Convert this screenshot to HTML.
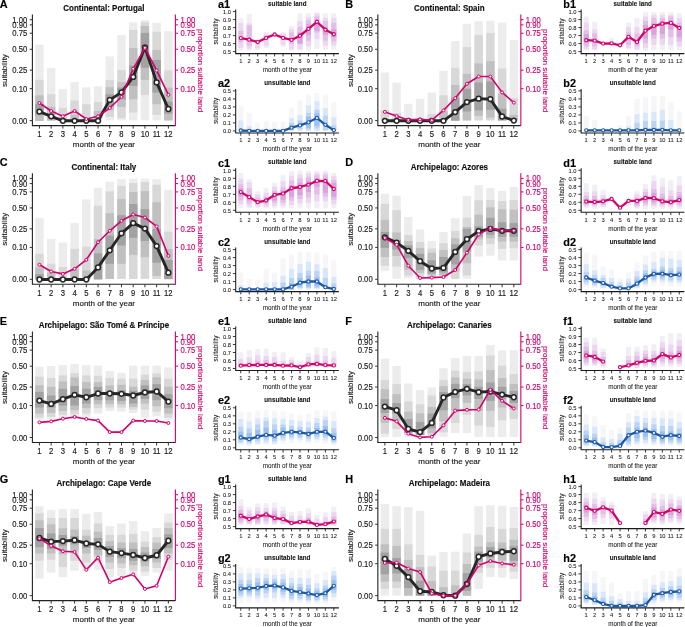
<!DOCTYPE html>
<html><head><meta charset="utf-8"><style>
html,body{margin:0;padding:0;background:#fff;width:685px;height:627px;overflow:hidden}
svg{display:block;will-change:transform;font-family:"Liberation Sans",sans-serif}
</style></head><body><svg width="685" height="627" viewBox="0 0 685 627" font-family="Liberation Sans, sans-serif"><g transform="translate(0,0)"><rect x="35.23" y="44.7" width="8.4" height="76.3" fill="#ececec"/><rect x="35.23" y="79.8" width="8.4" height="41.2" fill="#d8d8d8"/><rect x="35.23" y="95.3" width="8.4" height="25.7" fill="#c0c0c0"/><rect x="35.23" y="104.2" width="8.4" height="11.1" fill="#a2a2a2"/><rect x="46.95" y="67.9" width="8.4" height="52.7" fill="#ececec"/><rect x="46.95" y="94.2" width="8.4" height="26.4" fill="#d8d8d8"/><rect x="46.95" y="106.8" width="8.4" height="13.8" fill="#c0c0c0"/><rect x="58.68" y="89" width="8.4" height="31.6" fill="#ececec"/><rect x="58.68" y="107.9" width="8.4" height="12.7" fill="#d8d8d8"/><rect x="58.68" y="117.4" width="8.4" height="3.2" fill="#c0c0c0"/><rect x="70.4" y="82.1" width="8.4" height="38.5" fill="#ececec"/><rect x="70.4" y="100.5" width="8.4" height="20.1" fill="#d8d8d8"/><rect x="70.4" y="114.7" width="8.4" height="4.3" fill="#c0c0c0"/><rect x="82.12" y="87.4" width="8.4" height="33.2" fill="#ececec"/><rect x="82.12" y="104.2" width="8.4" height="12.6" fill="#d8d8d8"/><rect x="93.84" y="86.3" width="8.4" height="34.3" fill="#ececec"/><rect x="93.84" y="102.1" width="8.4" height="16.9" fill="#d8d8d8"/><rect x="93.84" y="111" width="8.4" height="8" fill="#c0c0c0"/><rect x="105.56" y="56.5" width="8.4" height="63.9" fill="#ececec"/><rect x="105.56" y="79.9" width="8.4" height="37.1" fill="#d8d8d8"/><rect x="105.56" y="87.1" width="8.4" height="23.3" fill="#c0c0c0"/><rect x="105.56" y="94.3" width="8.4" height="11.7" fill="#a2a2a2"/><rect x="117.28" y="35.1" width="8.4" height="85.3" fill="#ececec"/><rect x="117.28" y="69.9" width="8.4" height="48.3" fill="#d8d8d8"/><rect x="117.28" y="82.1" width="8.4" height="24.9" fill="#c0c0c0"/><rect x="117.28" y="87.6" width="8.4" height="11.7" fill="#a2a2a2"/><rect x="129" y="22.3" width="8.4" height="98.1" fill="#ececec"/><rect x="129" y="30.1" width="8.4" height="82.5" fill="#d8d8d8"/><rect x="129" y="47.9" width="8.4" height="51.4" fill="#c0c0c0"/><rect x="129" y="65.6" width="8.4" height="20.4" fill="#a2a2a2"/><rect x="140.72" y="20.1" width="8.4" height="100.3" fill="#ececec"/><rect x="140.72" y="22.3" width="8.4" height="72.6" fill="#d8d8d8"/><rect x="140.72" y="26" width="8.4" height="53.9" fill="#c0c0c0"/><rect x="140.72" y="32.9" width="8.4" height="34.8" fill="#a2a2a2"/><rect x="152.45" y="22.9" width="8.4" height="97.5" fill="#ececec"/><rect x="152.45" y="31.8" width="8.4" height="83" fill="#d8d8d8"/><rect x="152.45" y="50.1" width="8.4" height="54.2" fill="#c0c0c0"/><rect x="152.45" y="60" width="8.4" height="32.6" fill="#a2a2a2"/><rect x="164.17" y="31.2" width="8.4" height="89.2" fill="#ececec"/><rect x="164.17" y="70.4" width="8.4" height="50" fill="#d8d8d8"/><rect x="164.17" y="87.6" width="8.4" height="32.8" fill="#c0c0c0"/><rect x="164.17" y="101.5" width="8.4" height="12.2" fill="#a2a2a2"/><line x1="32.4" y1="14.5" x2="32.4" y2="125.6" stroke="#222" stroke-width="1.1"/><line x1="31.9" y1="125.6" x2="175.4" y2="125.6" stroke="#222" stroke-width="1.1"/><line x1="175.4" y1="14.5" x2="175.4" y2="126.1" stroke="#d6006c" stroke-width="1.1"/><line x1="29.7" y1="120.6" x2="32.4" y2="120.6" stroke="#333" stroke-width="1"/><text transform="translate(27.2,123.65) scale(1,1.12)" text-anchor="end" font-size="7.7" fill="#1a1a1a" stroke="#1a1a1a" stroke-width="0.15">0.00</text><line x1="29.7" y1="88.69" x2="32.4" y2="88.69" stroke="#333" stroke-width="1"/><text transform="translate(27.2,91.74) scale(1,1.12)" text-anchor="end" font-size="7.7" fill="#1a1a1a" stroke="#1a1a1a" stroke-width="0.15">0.10</text><line x1="29.7" y1="70.15" x2="32.4" y2="70.15" stroke="#333" stroke-width="1"/><text transform="translate(27.2,73.2) scale(1,1.12)" text-anchor="end" font-size="7.7" fill="#1a1a1a" stroke="#1a1a1a" stroke-width="0.15">0.25</text><line x1="29.7" y1="49.25" x2="32.4" y2="49.25" stroke="#333" stroke-width="1"/><text transform="translate(27.2,52.3) scale(1,1.12)" text-anchor="end" font-size="7.7" fill="#1a1a1a" stroke="#1a1a1a" stroke-width="0.15">0.50</text><line x1="29.7" y1="33.22" x2="32.4" y2="33.22" stroke="#333" stroke-width="1"/><text transform="translate(27.2,36.27) scale(1,1.12)" text-anchor="end" font-size="7.7" fill="#1a1a1a" stroke="#1a1a1a" stroke-width="0.15">0.75</text><line x1="29.7" y1="24.88" x2="32.4" y2="24.88" stroke="#333" stroke-width="1"/><text transform="translate(27.2,27.93) scale(1,1.12)" text-anchor="end" font-size="7.7" fill="#1a1a1a" stroke="#1a1a1a" stroke-width="0.15">0.90</text><line x1="29.7" y1="19.7" x2="32.4" y2="19.7" stroke="#333" stroke-width="1"/><text transform="translate(27.2,22.75) scale(1,1.12)" text-anchor="end" font-size="7.7" fill="#1a1a1a" stroke="#1a1a1a" stroke-width="0.15">1.00</text><line x1="175.4" y1="88.69" x2="178.1" y2="88.69" stroke="#d6006c" stroke-width="1"/><text transform="translate(180.4,91.74) scale(1,1.12)" font-size="7.7" fill="#d6006c" stroke="#d6006c" stroke-width="0.15">0.10</text><line x1="175.4" y1="70.15" x2="178.1" y2="70.15" stroke="#d6006c" stroke-width="1"/><text transform="translate(180.4,73.2) scale(1,1.12)" font-size="7.7" fill="#d6006c" stroke="#d6006c" stroke-width="0.15">0.25</text><line x1="175.4" y1="49.25" x2="178.1" y2="49.25" stroke="#d6006c" stroke-width="1"/><text transform="translate(180.4,52.3) scale(1,1.12)" font-size="7.7" fill="#d6006c" stroke="#d6006c" stroke-width="0.15">0.50</text><line x1="175.4" y1="33.22" x2="178.1" y2="33.22" stroke="#d6006c" stroke-width="1"/><text transform="translate(180.4,36.27) scale(1,1.12)" font-size="7.7" fill="#d6006c" stroke="#d6006c" stroke-width="0.15">0.75</text><line x1="175.4" y1="24.88" x2="178.1" y2="24.88" stroke="#d6006c" stroke-width="1"/><text transform="translate(180.4,27.93) scale(1,1.12)" font-size="7.7" fill="#d6006c" stroke="#d6006c" stroke-width="0.15">0.90</text><line x1="175.4" y1="19.7" x2="178.1" y2="19.7" stroke="#d6006c" stroke-width="1"/><text transform="translate(180.4,22.75) scale(1,1.12)" font-size="7.7" fill="#d6006c" stroke="#d6006c" stroke-width="0.15">1.00</text><line x1="39.43" y1="125.6" x2="39.43" y2="128.6" stroke="#333" stroke-width="1"/><text transform="translate(39.43,136.8) scale(1,1.12)" text-anchor="middle" font-size="7.7" fill="#1a1a1a" stroke="#1a1a1a" stroke-width="0.15">1</text><line x1="51.15" y1="125.6" x2="51.15" y2="128.6" stroke="#333" stroke-width="1"/><text transform="translate(51.15,136.8) scale(1,1.12)" text-anchor="middle" font-size="7.7" fill="#1a1a1a" stroke="#1a1a1a" stroke-width="0.15">2</text><line x1="62.88" y1="125.6" x2="62.88" y2="128.6" stroke="#333" stroke-width="1"/><text transform="translate(62.88,136.8) scale(1,1.12)" text-anchor="middle" font-size="7.7" fill="#1a1a1a" stroke="#1a1a1a" stroke-width="0.15">3</text><line x1="74.6" y1="125.6" x2="74.6" y2="128.6" stroke="#333" stroke-width="1"/><text transform="translate(74.6,136.8) scale(1,1.12)" text-anchor="middle" font-size="7.7" fill="#1a1a1a" stroke="#1a1a1a" stroke-width="0.15">4</text><line x1="86.32" y1="125.6" x2="86.32" y2="128.6" stroke="#333" stroke-width="1"/><text transform="translate(86.32,136.8) scale(1,1.12)" text-anchor="middle" font-size="7.7" fill="#1a1a1a" stroke="#1a1a1a" stroke-width="0.15">5</text><line x1="98.04" y1="125.6" x2="98.04" y2="128.6" stroke="#333" stroke-width="1"/><text transform="translate(98.04,136.8) scale(1,1.12)" text-anchor="middle" font-size="7.7" fill="#1a1a1a" stroke="#1a1a1a" stroke-width="0.15">6</text><line x1="109.76" y1="125.6" x2="109.76" y2="128.6" stroke="#333" stroke-width="1"/><text transform="translate(109.76,136.8) scale(1,1.12)" text-anchor="middle" font-size="7.7" fill="#1a1a1a" stroke="#1a1a1a" stroke-width="0.15">7</text><line x1="121.48" y1="125.6" x2="121.48" y2="128.6" stroke="#333" stroke-width="1"/><text transform="translate(121.48,136.8) scale(1,1.12)" text-anchor="middle" font-size="7.7" fill="#1a1a1a" stroke="#1a1a1a" stroke-width="0.15">8</text><line x1="133.2" y1="125.6" x2="133.2" y2="128.6" stroke="#333" stroke-width="1"/><text transform="translate(133.2,136.8) scale(1,1.12)" text-anchor="middle" font-size="7.7" fill="#1a1a1a" stroke="#1a1a1a" stroke-width="0.15">9</text><line x1="144.92" y1="125.6" x2="144.92" y2="128.6" stroke="#333" stroke-width="1"/><text transform="translate(144.92,136.8) scale(1,1.12)" text-anchor="middle" font-size="7.7" fill="#1a1a1a" stroke="#1a1a1a" stroke-width="0.15">10</text><line x1="156.65" y1="125.6" x2="156.65" y2="128.6" stroke="#333" stroke-width="1"/><text transform="translate(156.65,136.8) scale(1,1.12)" text-anchor="middle" font-size="7.7" fill="#1a1a1a" stroke="#1a1a1a" stroke-width="0.15">11</text><line x1="168.37" y1="125.6" x2="168.37" y2="128.6" stroke="#333" stroke-width="1"/><text transform="translate(168.37,136.8) scale(1,1.12)" text-anchor="middle" font-size="7.7" fill="#1a1a1a" stroke="#1a1a1a" stroke-width="0.15">12</text><polyline points="39.43,111.6 51.15,116.3 62.88,120.8 74.6,120.8 86.32,120.8 98.04,120.8 109.76,99.9 121.48,92.4 133.2,76.9 144.92,47.3 156.65,82.4 168.37,109" fill="none" stroke="#262626" stroke-width="2.9" stroke-linejoin="round"/><circle cx="39.43" cy="111.6" r="2.4" fill="#fff" stroke="#262626" stroke-width="1.5"/><circle cx="51.15" cy="116.3" r="2.4" fill="#fff" stroke="#262626" stroke-width="1.5"/><circle cx="62.88" cy="120.8" r="2.4" fill="#fff" stroke="#262626" stroke-width="1.5"/><circle cx="74.6" cy="120.8" r="2.4" fill="#fff" stroke="#262626" stroke-width="1.5"/><circle cx="86.32" cy="120.8" r="2.4" fill="#fff" stroke="#262626" stroke-width="1.5"/><circle cx="98.04" cy="120.8" r="2.4" fill="#fff" stroke="#262626" stroke-width="1.5"/><circle cx="109.76" cy="99.9" r="2.4" fill="#fff" stroke="#262626" stroke-width="1.5"/><circle cx="121.48" cy="92.4" r="2.4" fill="#fff" stroke="#262626" stroke-width="1.5"/><circle cx="133.2" cy="76.9" r="2.4" fill="#fff" stroke="#262626" stroke-width="1.5"/><circle cx="144.92" cy="47.3" r="2.4" fill="#fff" stroke="#262626" stroke-width="1.5"/><circle cx="156.65" cy="82.4" r="2.4" fill="#fff" stroke="#262626" stroke-width="1.5"/><circle cx="168.37" cy="109" r="2.4" fill="#fff" stroke="#262626" stroke-width="1.5"/><polyline points="39.43,103 51.15,111 62.88,116.3 74.6,111 86.32,119 98.04,116.3 109.76,108 121.48,96.9 133.2,68.8 144.92,47.9 156.65,70.4 168.37,94.9" fill="none" stroke="#d6006c" stroke-width="1.6" stroke-linejoin="round"/><circle cx="39.43" cy="103" r="1.5" fill="#fff" stroke="#d6006c" stroke-width="1.0"/><circle cx="51.15" cy="111" r="1.5" fill="#fff" stroke="#d6006c" stroke-width="1.0"/><circle cx="62.88" cy="116.3" r="1.5" fill="#fff" stroke="#d6006c" stroke-width="1.0"/><circle cx="74.6" cy="111" r="1.5" fill="#fff" stroke="#d6006c" stroke-width="1.0"/><circle cx="86.32" cy="119" r="1.5" fill="#fff" stroke="#d6006c" stroke-width="1.0"/><circle cx="98.04" cy="116.3" r="1.5" fill="#fff" stroke="#d6006c" stroke-width="1.0"/><circle cx="109.76" cy="108" r="1.5" fill="#fff" stroke="#d6006c" stroke-width="1.0"/><circle cx="121.48" cy="96.9" r="1.5" fill="#fff" stroke="#d6006c" stroke-width="1.0"/><circle cx="133.2" cy="68.8" r="1.5" fill="#fff" stroke="#d6006c" stroke-width="1.0"/><circle cx="144.92" cy="47.9" r="1.5" fill="#fff" stroke="#d6006c" stroke-width="1.0"/><circle cx="156.65" cy="70.4" r="1.5" fill="#fff" stroke="#d6006c" stroke-width="1.0"/><circle cx="168.37" cy="94.9" r="1.5" fill="#fff" stroke="#d6006c" stroke-width="1.0"/><text transform="translate(-0.2,7.7)" font-size="10.9" font-weight="bold" fill="#000" stroke="#000" stroke-width="0.15">A</text><text transform="translate(103.9,10.9) scale(1,1.12)" text-anchor="middle" font-size="8.0" font-weight="bold" fill="#111" stroke="#111" stroke-width="0.15">Continental: Portugal</text><text transform="translate(103.9,147.1)" text-anchor="middle" font-size="8" fill="#1a1a1a" stroke="#1a1a1a" stroke-width="0.15">month of the year</text><text transform="translate(7.4,70.6) rotate(-90)" text-anchor="middle" font-size="8" fill="#1a1a1a" stroke="#1a1a1a" stroke-width="0.15">suitability</text><text transform="translate(198,70.6) rotate(90)" text-anchor="middle" font-size="8" fill="#d6006c" stroke="#d6006c" stroke-width="0.15">proportion suitable land</text></g><g transform="translate(0,0)"><rect x="238.23" y="18" width="5.1" height="32.56" fill="#f2eef5"/><rect x="238.23" y="22.88" width="5.1" height="24.96" fill="#ecd6f2"/><rect x="238.23" y="30.88" width="5.1" height="11.6" fill="#e4bde9"/><rect x="246.68" y="14" width="5.1" height="36.56" fill="#f2eef5"/><rect x="246.68" y="23.28" width="5.1" height="25.36" fill="#ecd6f2"/><rect x="246.68" y="25.28" width="5.1" height="20.48" fill="#e4bde9"/><rect x="255.14" y="38.8" width="5.1" height="11.2" fill="#f2eef5"/><rect x="255.14" y="40.4" width="5.1" height="8" fill="#ecd6f2"/><rect x="263.6" y="31.68" width="5.1" height="16.16" fill="#f2eef5"/><rect x="263.6" y="34.08" width="5.1" height="11.68" fill="#ecd6f2"/><rect x="280.52" y="32.08" width="5.1" height="14.88" fill="#f2eef5"/><rect x="280.52" y="33.6" width="5.1" height="11.2" fill="#ecd6f2"/><rect x="288.98" y="26" width="5.1" height="24.8" fill="#f2eef5"/><rect x="288.98" y="29.2" width="5.1" height="19.68" fill="#ecd6f2"/><rect x="288.98" y="32.4" width="5.1" height="11.6" fill="#e4bde9"/><rect x="297.44" y="13.2" width="5.1" height="37.6" fill="#f2eef5"/><rect x="297.44" y="21.2" width="5.1" height="27.68" fill="#ecd6f2"/><rect x="297.44" y="26.8" width="5.1" height="17.2" fill="#e4bde9"/><rect x="297.44" y="32.4" width="5.1" height="11.2" fill="#d9a3dd"/><rect x="305.9" y="13.2" width="5.1" height="37.28" fill="#f2eef5"/><rect x="305.9" y="17.2" width="5.1" height="29.2" fill="#ecd6f2"/><rect x="305.9" y="20.4" width="5.1" height="20.32" fill="#e4bde9"/><rect x="305.9" y="24.4" width="5.1" height="10.4" fill="#d9a3dd"/><rect x="314.36" y="12.4" width="5.1" height="36.48" fill="#f2eef5"/><rect x="314.36" y="13.68" width="5.1" height="25.44" fill="#ecd6f2"/><rect x="314.36" y="16.4" width="5.1" height="16" fill="#e4bde9"/><rect x="314.36" y="22.8" width="5.1" height="8" fill="#d9a3dd"/><rect x="322.82" y="13.2" width="5.1" height="36.48" fill="#f2eef5"/><rect x="322.82" y="18" width="5.1" height="27.6" fill="#ecd6f2"/><rect x="322.82" y="21.2" width="5.1" height="19.52" fill="#e4bde9"/><rect x="322.82" y="27.6" width="5.1" height="7.2" fill="#d9a3dd"/><rect x="331.27" y="13.2" width="5.1" height="36.48" fill="#f2eef5"/><rect x="331.27" y="18" width="5.1" height="27.6" fill="#ecd6f2"/><rect x="331.27" y="22.8" width="5.1" height="18.72" fill="#e4bde9"/><rect x="331.27" y="29.2" width="5.1" height="8" fill="#d9a3dd"/><line x1="235.7" y1="9.6" x2="235.7" y2="53.6" stroke="#1a1a1a" stroke-width="1.05"/><line x1="235.2" y1="53.6" x2="338.9" y2="53.6" stroke="#1a1a1a" stroke-width="1.05"/><line x1="232.89999999999998" y1="51.6" x2="235.7" y2="51.6" stroke="#222" stroke-width="0.9"/><text transform="translate(231,53.85) scale(1,1.05)" text-anchor="end" font-size="5.8" fill="#1a1a1a" stroke="#1a1a1a" stroke-width="0.07">0.5</text><line x1="232.89999999999998" y1="43.6" x2="235.7" y2="43.6" stroke="#222" stroke-width="0.9"/><text transform="translate(231,45.85) scale(1,1.05)" text-anchor="end" font-size="5.8" fill="#1a1a1a" stroke="#1a1a1a" stroke-width="0.07">0.6</text><line x1="232.89999999999998" y1="35.6" x2="235.7" y2="35.6" stroke="#222" stroke-width="0.9"/><text transform="translate(231,37.85) scale(1,1.05)" text-anchor="end" font-size="5.8" fill="#1a1a1a" stroke="#1a1a1a" stroke-width="0.07">0.7</text><line x1="232.89999999999998" y1="27.6" x2="235.7" y2="27.6" stroke="#222" stroke-width="0.9"/><text transform="translate(231,29.85) scale(1,1.05)" text-anchor="end" font-size="5.8" fill="#1a1a1a" stroke="#1a1a1a" stroke-width="0.07">0.8</text><line x1="232.89999999999998" y1="19.6" x2="235.7" y2="19.6" stroke="#222" stroke-width="0.9"/><text transform="translate(231,21.85) scale(1,1.05)" text-anchor="end" font-size="5.8" fill="#1a1a1a" stroke="#1a1a1a" stroke-width="0.07">0.9</text><line x1="232.89999999999998" y1="11.6" x2="235.7" y2="11.6" stroke="#222" stroke-width="0.9"/><text transform="translate(231,13.85) scale(1,1.05)" text-anchor="end" font-size="5.8" fill="#1a1a1a" stroke="#1a1a1a" stroke-width="0.07">1.0</text><line x1="240.78" y1="53.6" x2="240.78" y2="56.4" stroke="#222" stroke-width="0.9"/><text transform="translate(240.78,62.9) scale(1,1.05)" text-anchor="middle" font-size="5.8" fill="#1a1a1a" stroke="#1a1a1a" stroke-width="0.07">1</text><line x1="249.23" y1="53.6" x2="249.23" y2="56.4" stroke="#222" stroke-width="0.9"/><text transform="translate(249.23,62.9) scale(1,1.05)" text-anchor="middle" font-size="5.8" fill="#1a1a1a" stroke="#1a1a1a" stroke-width="0.07">2</text><line x1="257.69" y1="53.6" x2="257.69" y2="56.4" stroke="#222" stroke-width="0.9"/><text transform="translate(257.69,62.9) scale(1,1.05)" text-anchor="middle" font-size="5.8" fill="#1a1a1a" stroke="#1a1a1a" stroke-width="0.07">3</text><line x1="266.15" y1="53.6" x2="266.15" y2="56.4" stroke="#222" stroke-width="0.9"/><text transform="translate(266.15,62.9) scale(1,1.05)" text-anchor="middle" font-size="5.8" fill="#1a1a1a" stroke="#1a1a1a" stroke-width="0.07">4</text><line x1="274.61" y1="53.6" x2="274.61" y2="56.4" stroke="#222" stroke-width="0.9"/><text transform="translate(274.61,62.9) scale(1,1.05)" text-anchor="middle" font-size="5.8" fill="#1a1a1a" stroke="#1a1a1a" stroke-width="0.07">5</text><line x1="283.07" y1="53.6" x2="283.07" y2="56.4" stroke="#222" stroke-width="0.9"/><text transform="translate(283.07,62.9) scale(1,1.05)" text-anchor="middle" font-size="5.8" fill="#1a1a1a" stroke="#1a1a1a" stroke-width="0.07">6</text><line x1="291.53" y1="53.6" x2="291.53" y2="56.4" stroke="#222" stroke-width="0.9"/><text transform="translate(291.53,62.9) scale(1,1.05)" text-anchor="middle" font-size="5.8" fill="#1a1a1a" stroke="#1a1a1a" stroke-width="0.07">7</text><line x1="299.99" y1="53.6" x2="299.99" y2="56.4" stroke="#222" stroke-width="0.9"/><text transform="translate(299.99,62.9) scale(1,1.05)" text-anchor="middle" font-size="5.8" fill="#1a1a1a" stroke="#1a1a1a" stroke-width="0.07">8</text><line x1="308.45" y1="53.6" x2="308.45" y2="56.4" stroke="#222" stroke-width="0.9"/><text transform="translate(308.45,62.9) scale(1,1.05)" text-anchor="middle" font-size="5.8" fill="#1a1a1a" stroke="#1a1a1a" stroke-width="0.07">9</text><line x1="316.91" y1="53.6" x2="316.91" y2="56.4" stroke="#222" stroke-width="0.9"/><text transform="translate(316.91,62.9) scale(1,1.05)" text-anchor="middle" font-size="5.8" fill="#1a1a1a" stroke="#1a1a1a" stroke-width="0.07">10</text><line x1="325.37" y1="53.6" x2="325.37" y2="56.4" stroke="#222" stroke-width="0.9"/><text transform="translate(325.37,62.9) scale(1,1.05)" text-anchor="middle" font-size="5.8" fill="#1a1a1a" stroke="#1a1a1a" stroke-width="0.07">11</text><line x1="333.82" y1="53.6" x2="333.82" y2="56.4" stroke="#222" stroke-width="0.9"/><text transform="translate(333.82,62.9) scale(1,1.05)" text-anchor="middle" font-size="5.8" fill="#1a1a1a" stroke="#1a1a1a" stroke-width="0.07">12</text><polyline points="240.78,38.08 249.23,39.68 257.69,42.08 266.15,37.92 274.61,34.48 283.07,37.92 291.53,39.92 299.99,35.76 308.45,28.88 316.91,21.76 325.37,29.68 333.82,34.24" fill="none" stroke="#d6006c" stroke-width="2.3" stroke-linejoin="round"/><circle cx="240.78" cy="38.08" r="1.6" fill="#fff" stroke="#d6006c" stroke-width="1.1"/><circle cx="249.23" cy="39.68" r="1.6" fill="#fff" stroke="#d6006c" stroke-width="1.1"/><circle cx="257.69" cy="42.08" r="1.6" fill="#fff" stroke="#d6006c" stroke-width="1.1"/><circle cx="266.15" cy="37.92" r="1.6" fill="#fff" stroke="#d6006c" stroke-width="1.1"/><circle cx="274.61" cy="34.48" r="1.6" fill="#fff" stroke="#d6006c" stroke-width="1.1"/><circle cx="283.07" cy="37.92" r="1.6" fill="#fff" stroke="#d6006c" stroke-width="1.1"/><circle cx="291.53" cy="39.92" r="1.6" fill="#fff" stroke="#d6006c" stroke-width="1.1"/><circle cx="299.99" cy="35.76" r="1.6" fill="#fff" stroke="#d6006c" stroke-width="1.1"/><circle cx="308.45" cy="28.88" r="1.6" fill="#fff" stroke="#d6006c" stroke-width="1.1"/><circle cx="316.91" cy="21.76" r="1.6" fill="#fff" stroke="#d6006c" stroke-width="1.1"/><circle cx="325.37" cy="29.68" r="1.6" fill="#fff" stroke="#d6006c" stroke-width="1.1"/><circle cx="333.82" cy="34.24" r="1.6" fill="#fff" stroke="#d6006c" stroke-width="1.1"/><text transform="translate(217.9,7.8)" font-size="10.9" font-weight="bold" fill="#000" stroke="#000" stroke-width="0.15">a1</text><text transform="translate(287.3,5.6) scale(1,1.12)" text-anchor="middle" font-size="6.3" font-weight="bold" fill="#111" stroke="#111" stroke-width="0.07">suitable land</text><text transform="translate(287.3,71.9)" text-anchor="middle" font-size="6.3" fill="#1a1a1a" stroke="#1a1a1a" stroke-width="0.07">month of the year</text><text transform="translate(218.3,31.6) rotate(-90)" text-anchor="middle" font-size="6.3" fill="#1a1a1a" stroke="#1a1a1a" stroke-width="0.07">suitability</text></g><g transform="translate(0,79.3)"><rect x="238.23" y="26.8" width="5.1" height="24.8" fill="#f6f6f8"/><rect x="238.23" y="41.2" width="5.1" height="10.4" fill="#d9e7fa"/><rect x="246.68" y="33.52" width="5.1" height="18.08" fill="#f6f6f8"/><rect x="246.68" y="46.8" width="5.1" height="4.8" fill="#d9e7fa"/><rect x="255.14" y="43.6" width="5.1" height="8" fill="#f6f6f8"/><rect x="263.6" y="42" width="5.1" height="9.6" fill="#f6f6f8"/><rect x="272.06" y="42.8" width="5.1" height="8.8" fill="#f6f6f8"/><rect x="280.52" y="42.8" width="5.1" height="8.8" fill="#f6f6f8"/><rect x="288.98" y="28.4" width="5.1" height="23.2" fill="#f6f6f8"/><rect x="288.98" y="38.8" width="5.1" height="12.8" fill="#d9e7fa"/><rect x="288.98" y="43.6" width="5.1" height="7.2" fill="#bbd4f5"/><rect x="297.44" y="21.2" width="5.1" height="30.4" fill="#f6f6f8"/><rect x="297.44" y="35.6" width="5.1" height="16" fill="#d9e7fa"/><rect x="297.44" y="41.2" width="5.1" height="8.8" fill="#bbd4f5"/><rect x="305.9" y="15.12" width="5.1" height="36.48" fill="#f6f6f8"/><rect x="305.9" y="26" width="5.1" height="25.6" fill="#d9e7fa"/><rect x="305.9" y="33.52" width="5.1" height="16.48" fill="#bbd4f5"/><rect x="305.9" y="37.2" width="5.1" height="11.2" fill="#9dc0ef"/><rect x="314.36" y="13.6" width="5.1" height="38" fill="#f6f6f8"/><rect x="314.36" y="22" width="5.1" height="29.6" fill="#d9e7fa"/><rect x="314.36" y="30.48" width="5.1" height="18.72" fill="#bbd4f5"/><rect x="314.36" y="34" width="5.1" height="12.8" fill="#9dc0ef"/><rect x="322.82" y="15.12" width="5.1" height="36.48" fill="#f6f6f8"/><rect x="322.82" y="28.88" width="5.1" height="22.72" fill="#d9e7fa"/><rect x="322.82" y="36.4" width="5.1" height="14.4" fill="#bbd4f5"/><rect x="331.27" y="22.8" width="5.1" height="28.8" fill="#f6f6f8"/><rect x="331.27" y="38" width="5.1" height="13.6" fill="#d9e7fa"/><rect x="331.27" y="46" width="5.1" height="5.6" fill="#bbd4f5"/><line x1="235.7" y1="9.6" x2="235.7" y2="53.6" stroke="#1a1a1a" stroke-width="1.05"/><line x1="235.2" y1="53.6" x2="338.9" y2="53.6" stroke="#1a1a1a" stroke-width="1.05"/><line x1="232.89999999999998" y1="51.6" x2="235.7" y2="51.6" stroke="#222" stroke-width="0.9"/><text transform="translate(231,53.85) scale(1,1.05)" text-anchor="end" font-size="5.8" fill="#1a1a1a" stroke="#1a1a1a" stroke-width="0.07">0.0</text><line x1="232.89999999999998" y1="43.6" x2="235.7" y2="43.6" stroke="#222" stroke-width="0.9"/><text transform="translate(231,45.85) scale(1,1.05)" text-anchor="end" font-size="5.8" fill="#1a1a1a" stroke="#1a1a1a" stroke-width="0.07">0.1</text><line x1="232.89999999999998" y1="35.6" x2="235.7" y2="35.6" stroke="#222" stroke-width="0.9"/><text transform="translate(231,37.85) scale(1,1.05)" text-anchor="end" font-size="5.8" fill="#1a1a1a" stroke="#1a1a1a" stroke-width="0.07">0.2</text><line x1="232.89999999999998" y1="27.6" x2="235.7" y2="27.6" stroke="#222" stroke-width="0.9"/><text transform="translate(231,29.85) scale(1,1.05)" text-anchor="end" font-size="5.8" fill="#1a1a1a" stroke="#1a1a1a" stroke-width="0.07">0.3</text><line x1="232.89999999999998" y1="19.6" x2="235.7" y2="19.6" stroke="#222" stroke-width="0.9"/><text transform="translate(231,21.85) scale(1,1.05)" text-anchor="end" font-size="5.8" fill="#1a1a1a" stroke="#1a1a1a" stroke-width="0.07">0.4</text><line x1="232.89999999999998" y1="11.6" x2="235.7" y2="11.6" stroke="#222" stroke-width="0.9"/><text transform="translate(231,13.85) scale(1,1.05)" text-anchor="end" font-size="5.8" fill="#1a1a1a" stroke="#1a1a1a" stroke-width="0.07">0.5</text><line x1="240.78" y1="53.6" x2="240.78" y2="56.4" stroke="#222" stroke-width="0.9"/><text transform="translate(240.78,62.9) scale(1,1.05)" text-anchor="middle" font-size="5.8" fill="#1a1a1a" stroke="#1a1a1a" stroke-width="0.07">1</text><line x1="249.23" y1="53.6" x2="249.23" y2="56.4" stroke="#222" stroke-width="0.9"/><text transform="translate(249.23,62.9) scale(1,1.05)" text-anchor="middle" font-size="5.8" fill="#1a1a1a" stroke="#1a1a1a" stroke-width="0.07">2</text><line x1="257.69" y1="53.6" x2="257.69" y2="56.4" stroke="#222" stroke-width="0.9"/><text transform="translate(257.69,62.9) scale(1,1.05)" text-anchor="middle" font-size="5.8" fill="#1a1a1a" stroke="#1a1a1a" stroke-width="0.07">3</text><line x1="266.15" y1="53.6" x2="266.15" y2="56.4" stroke="#222" stroke-width="0.9"/><text transform="translate(266.15,62.9) scale(1,1.05)" text-anchor="middle" font-size="5.8" fill="#1a1a1a" stroke="#1a1a1a" stroke-width="0.07">4</text><line x1="274.61" y1="53.6" x2="274.61" y2="56.4" stroke="#222" stroke-width="0.9"/><text transform="translate(274.61,62.9) scale(1,1.05)" text-anchor="middle" font-size="5.8" fill="#1a1a1a" stroke="#1a1a1a" stroke-width="0.07">5</text><line x1="283.07" y1="53.6" x2="283.07" y2="56.4" stroke="#222" stroke-width="0.9"/><text transform="translate(283.07,62.9) scale(1,1.05)" text-anchor="middle" font-size="5.8" fill="#1a1a1a" stroke="#1a1a1a" stroke-width="0.07">6</text><line x1="291.53" y1="53.6" x2="291.53" y2="56.4" stroke="#222" stroke-width="0.9"/><text transform="translate(291.53,62.9) scale(1,1.05)" text-anchor="middle" font-size="5.8" fill="#1a1a1a" stroke="#1a1a1a" stroke-width="0.07">7</text><line x1="299.99" y1="53.6" x2="299.99" y2="56.4" stroke="#222" stroke-width="0.9"/><text transform="translate(299.99,62.9) scale(1,1.05)" text-anchor="middle" font-size="5.8" fill="#1a1a1a" stroke="#1a1a1a" stroke-width="0.07">8</text><line x1="308.45" y1="53.6" x2="308.45" y2="56.4" stroke="#222" stroke-width="0.9"/><text transform="translate(308.45,62.9) scale(1,1.05)" text-anchor="middle" font-size="5.8" fill="#1a1a1a" stroke="#1a1a1a" stroke-width="0.07">9</text><line x1="316.91" y1="53.6" x2="316.91" y2="56.4" stroke="#222" stroke-width="0.9"/><text transform="translate(316.91,62.9) scale(1,1.05)" text-anchor="middle" font-size="5.8" fill="#1a1a1a" stroke="#1a1a1a" stroke-width="0.07">10</text><line x1="325.37" y1="53.6" x2="325.37" y2="56.4" stroke="#222" stroke-width="0.9"/><text transform="translate(325.37,62.9) scale(1,1.05)" text-anchor="middle" font-size="5.8" fill="#1a1a1a" stroke="#1a1a1a" stroke-width="0.07">11</text><line x1="333.82" y1="53.6" x2="333.82" y2="56.4" stroke="#222" stroke-width="0.9"/><text transform="translate(333.82,62.9) scale(1,1.05)" text-anchor="middle" font-size="5.8" fill="#1a1a1a" stroke="#1a1a1a" stroke-width="0.07">12</text><polyline points="240.78,51.2 249.23,51.6 257.69,51.6 266.15,51.6 274.61,51.6 283.07,51.6 291.53,48.4 299.99,46.08 308.45,43.04 316.91,38.64 325.37,45.52 333.82,50.88" fill="none" stroke="#1c58a8" stroke-width="2.3" stroke-linejoin="round"/><circle cx="240.78" cy="51.2" r="1.6" fill="#fff" stroke="#1c58a8" stroke-width="1.1"/><circle cx="249.23" cy="51.6" r="1.6" fill="#fff" stroke="#1c58a8" stroke-width="1.1"/><circle cx="257.69" cy="51.6" r="1.6" fill="#fff" stroke="#1c58a8" stroke-width="1.1"/><circle cx="266.15" cy="51.6" r="1.6" fill="#fff" stroke="#1c58a8" stroke-width="1.1"/><circle cx="274.61" cy="51.6" r="1.6" fill="#fff" stroke="#1c58a8" stroke-width="1.1"/><circle cx="283.07" cy="51.6" r="1.6" fill="#fff" stroke="#1c58a8" stroke-width="1.1"/><circle cx="291.53" cy="48.4" r="1.6" fill="#fff" stroke="#1c58a8" stroke-width="1.1"/><circle cx="299.99" cy="46.08" r="1.6" fill="#fff" stroke="#1c58a8" stroke-width="1.1"/><circle cx="308.45" cy="43.04" r="1.6" fill="#fff" stroke="#1c58a8" stroke-width="1.1"/><circle cx="316.91" cy="38.64" r="1.6" fill="#fff" stroke="#1c58a8" stroke-width="1.1"/><circle cx="325.37" cy="45.52" r="1.6" fill="#fff" stroke="#1c58a8" stroke-width="1.1"/><circle cx="333.82" cy="50.88" r="1.6" fill="#fff" stroke="#1c58a8" stroke-width="1.1"/><text transform="translate(217.9,7.8)" font-size="10.9" font-weight="bold" fill="#000" stroke="#000" stroke-width="0.15">a2</text><text transform="translate(287.3,5.6) scale(1,1.12)" text-anchor="middle" font-size="6.3" font-weight="bold" fill="#111" stroke="#111" stroke-width="0.07">unsuitable land</text><text transform="translate(287.3,71.9)" text-anchor="middle" font-size="6.3" fill="#1a1a1a" stroke="#1a1a1a" stroke-width="0.07">month of the year</text><text transform="translate(218.3,31.6) rotate(-90)" text-anchor="middle" font-size="6.3" fill="#1a1a1a" stroke="#1a1a1a" stroke-width="0.07">suitability</text></g><g transform="translate(345.45,0)"><rect x="35.23" y="72.6" width="8.4" height="48" fill="#ececec"/><rect x="35.23" y="110.1" width="8.4" height="10.5" fill="#d8d8d8"/><rect x="46.95" y="82.75" width="8.4" height="37.85" fill="#ececec"/><rect x="46.95" y="113.1" width="8.4" height="7.5" fill="#d8d8d8"/><rect x="58.68" y="103.8" width="8.4" height="16.8" fill="#ececec"/><rect x="70.4" y="98.8" width="8.4" height="21.8" fill="#ececec"/><rect x="82.12" y="92.6" width="8.4" height="28" fill="#ececec"/><rect x="82.12" y="114" width="8.4" height="6.6" fill="#d8d8d8"/><rect x="93.84" y="70.8" width="8.4" height="49.8" fill="#ececec"/><rect x="93.84" y="95.25" width="8.4" height="25.35" fill="#d8d8d8"/><rect x="93.84" y="111.3" width="8.4" height="9.3" fill="#c0c0c0"/><rect x="105.56" y="41" width="8.4" height="79.6" fill="#ececec"/><rect x="105.56" y="67.8" width="8.4" height="52.8" fill="#d8d8d8"/><rect x="105.56" y="84.9" width="8.4" height="35.7" fill="#c0c0c0"/><rect x="105.56" y="97.6" width="8.4" height="23" fill="#a2a2a2"/><rect x="117.28" y="23.8" width="8.4" height="96.6" fill="#ececec"/><rect x="117.28" y="47.1" width="8.4" height="73.3" fill="#d8d8d8"/><rect x="117.28" y="73.8" width="8.4" height="46.6" fill="#c0c0c0"/><rect x="117.28" y="88.75" width="8.4" height="22.75" fill="#a2a2a2"/><rect x="129" y="21.2" width="8.4" height="99.2" fill="#ececec"/><rect x="129" y="34.9" width="8.4" height="85.5" fill="#d8d8d8"/><rect x="129" y="63.4" width="8.4" height="52.6" fill="#c0c0c0"/><rect x="129" y="82.6" width="8.4" height="27.8" fill="#a2a2a2"/><rect x="140.72" y="20.7" width="8.4" height="99.7" fill="#ececec"/><rect x="140.72" y="33.1" width="8.4" height="87.3" fill="#d8d8d8"/><rect x="140.72" y="61.2" width="8.4" height="56.4" fill="#c0c0c0"/><rect x="140.72" y="81.5" width="8.4" height="28.3" fill="#a2a2a2"/><rect x="152.45" y="22.7" width="8.4" height="97.7" fill="#ececec"/><rect x="152.45" y="68.4" width="8.4" height="52" fill="#d8d8d8"/><rect x="152.45" y="93.7" width="8.4" height="26.7" fill="#c0c0c0"/><rect x="152.45" y="108.7" width="8.4" height="11.7" fill="#a2a2a2"/><rect x="164.17" y="40.1" width="8.4" height="80.3" fill="#ececec"/><rect x="164.17" y="98.2" width="8.4" height="22.2" fill="#d8d8d8"/><rect x="164.17" y="114.8" width="8.4" height="5.6" fill="#c0c0c0"/><line x1="32.4" y1="14.5" x2="32.4" y2="125.6" stroke="#222" stroke-width="1.1"/><line x1="31.9" y1="125.6" x2="175.4" y2="125.6" stroke="#222" stroke-width="1.1"/><line x1="175.4" y1="14.5" x2="175.4" y2="126.1" stroke="#d6006c" stroke-width="1.1"/><line x1="29.7" y1="120.6" x2="32.4" y2="120.6" stroke="#333" stroke-width="1"/><text transform="translate(27.2,123.65) scale(1,1.12)" text-anchor="end" font-size="7.7" fill="#1a1a1a" stroke="#1a1a1a" stroke-width="0.15">0.00</text><line x1="29.7" y1="88.69" x2="32.4" y2="88.69" stroke="#333" stroke-width="1"/><text transform="translate(27.2,91.74) scale(1,1.12)" text-anchor="end" font-size="7.7" fill="#1a1a1a" stroke="#1a1a1a" stroke-width="0.15">0.10</text><line x1="29.7" y1="70.15" x2="32.4" y2="70.15" stroke="#333" stroke-width="1"/><text transform="translate(27.2,73.2) scale(1,1.12)" text-anchor="end" font-size="7.7" fill="#1a1a1a" stroke="#1a1a1a" stroke-width="0.15">0.25</text><line x1="29.7" y1="49.25" x2="32.4" y2="49.25" stroke="#333" stroke-width="1"/><text transform="translate(27.2,52.3) scale(1,1.12)" text-anchor="end" font-size="7.7" fill="#1a1a1a" stroke="#1a1a1a" stroke-width="0.15">0.50</text><line x1="29.7" y1="33.22" x2="32.4" y2="33.22" stroke="#333" stroke-width="1"/><text transform="translate(27.2,36.27) scale(1,1.12)" text-anchor="end" font-size="7.7" fill="#1a1a1a" stroke="#1a1a1a" stroke-width="0.15">0.75</text><line x1="29.7" y1="24.88" x2="32.4" y2="24.88" stroke="#333" stroke-width="1"/><text transform="translate(27.2,27.93) scale(1,1.12)" text-anchor="end" font-size="7.7" fill="#1a1a1a" stroke="#1a1a1a" stroke-width="0.15">0.90</text><line x1="29.7" y1="19.7" x2="32.4" y2="19.7" stroke="#333" stroke-width="1"/><text transform="translate(27.2,22.75) scale(1,1.12)" text-anchor="end" font-size="7.7" fill="#1a1a1a" stroke="#1a1a1a" stroke-width="0.15">1.00</text><line x1="175.4" y1="88.69" x2="178.1" y2="88.69" stroke="#d6006c" stroke-width="1"/><text transform="translate(180.4,91.74) scale(1,1.12)" font-size="7.7" fill="#d6006c" stroke="#d6006c" stroke-width="0.15">0.10</text><line x1="175.4" y1="70.15" x2="178.1" y2="70.15" stroke="#d6006c" stroke-width="1"/><text transform="translate(180.4,73.2) scale(1,1.12)" font-size="7.7" fill="#d6006c" stroke="#d6006c" stroke-width="0.15">0.25</text><line x1="175.4" y1="49.25" x2="178.1" y2="49.25" stroke="#d6006c" stroke-width="1"/><text transform="translate(180.4,52.3) scale(1,1.12)" font-size="7.7" fill="#d6006c" stroke="#d6006c" stroke-width="0.15">0.50</text><line x1="175.4" y1="33.22" x2="178.1" y2="33.22" stroke="#d6006c" stroke-width="1"/><text transform="translate(180.4,36.27) scale(1,1.12)" font-size="7.7" fill="#d6006c" stroke="#d6006c" stroke-width="0.15">0.75</text><line x1="175.4" y1="24.88" x2="178.1" y2="24.88" stroke="#d6006c" stroke-width="1"/><text transform="translate(180.4,27.93) scale(1,1.12)" font-size="7.7" fill="#d6006c" stroke="#d6006c" stroke-width="0.15">0.90</text><line x1="175.4" y1="19.7" x2="178.1" y2="19.7" stroke="#d6006c" stroke-width="1"/><text transform="translate(180.4,22.75) scale(1,1.12)" font-size="7.7" fill="#d6006c" stroke="#d6006c" stroke-width="0.15">1.00</text><line x1="39.43" y1="125.6" x2="39.43" y2="128.6" stroke="#333" stroke-width="1"/><text transform="translate(39.43,136.8) scale(1,1.12)" text-anchor="middle" font-size="7.7" fill="#1a1a1a" stroke="#1a1a1a" stroke-width="0.15">1</text><line x1="51.15" y1="125.6" x2="51.15" y2="128.6" stroke="#333" stroke-width="1"/><text transform="translate(51.15,136.8) scale(1,1.12)" text-anchor="middle" font-size="7.7" fill="#1a1a1a" stroke="#1a1a1a" stroke-width="0.15">2</text><line x1="62.88" y1="125.6" x2="62.88" y2="128.6" stroke="#333" stroke-width="1"/><text transform="translate(62.88,136.8) scale(1,1.12)" text-anchor="middle" font-size="7.7" fill="#1a1a1a" stroke="#1a1a1a" stroke-width="0.15">3</text><line x1="74.6" y1="125.6" x2="74.6" y2="128.6" stroke="#333" stroke-width="1"/><text transform="translate(74.6,136.8) scale(1,1.12)" text-anchor="middle" font-size="7.7" fill="#1a1a1a" stroke="#1a1a1a" stroke-width="0.15">4</text><line x1="86.32" y1="125.6" x2="86.32" y2="128.6" stroke="#333" stroke-width="1"/><text transform="translate(86.32,136.8) scale(1,1.12)" text-anchor="middle" font-size="7.7" fill="#1a1a1a" stroke="#1a1a1a" stroke-width="0.15">5</text><line x1="98.04" y1="125.6" x2="98.04" y2="128.6" stroke="#333" stroke-width="1"/><text transform="translate(98.04,136.8) scale(1,1.12)" text-anchor="middle" font-size="7.7" fill="#1a1a1a" stroke="#1a1a1a" stroke-width="0.15">6</text><line x1="109.76" y1="125.6" x2="109.76" y2="128.6" stroke="#333" stroke-width="1"/><text transform="translate(109.76,136.8) scale(1,1.12)" text-anchor="middle" font-size="7.7" fill="#1a1a1a" stroke="#1a1a1a" stroke-width="0.15">7</text><line x1="121.48" y1="125.6" x2="121.48" y2="128.6" stroke="#333" stroke-width="1"/><text transform="translate(121.48,136.8) scale(1,1.12)" text-anchor="middle" font-size="7.7" fill="#1a1a1a" stroke="#1a1a1a" stroke-width="0.15">8</text><line x1="133.2" y1="125.6" x2="133.2" y2="128.6" stroke="#333" stroke-width="1"/><text transform="translate(133.2,136.8) scale(1,1.12)" text-anchor="middle" font-size="7.7" fill="#1a1a1a" stroke="#1a1a1a" stroke-width="0.15">9</text><line x1="144.92" y1="125.6" x2="144.92" y2="128.6" stroke="#333" stroke-width="1"/><text transform="translate(144.92,136.8) scale(1,1.12)" text-anchor="middle" font-size="7.7" fill="#1a1a1a" stroke="#1a1a1a" stroke-width="0.15">10</text><line x1="156.65" y1="125.6" x2="156.65" y2="128.6" stroke="#333" stroke-width="1"/><text transform="translate(156.65,136.8) scale(1,1.12)" text-anchor="middle" font-size="7.7" fill="#1a1a1a" stroke="#1a1a1a" stroke-width="0.15">11</text><line x1="168.37" y1="125.6" x2="168.37" y2="128.6" stroke="#333" stroke-width="1"/><text transform="translate(168.37,136.8) scale(1,1.12)" text-anchor="middle" font-size="7.7" fill="#1a1a1a" stroke="#1a1a1a" stroke-width="0.15">12</text><polyline points="39.43,120.8 51.15,120.8 62.88,120.8 74.6,120.8 86.32,120.8 98.04,120.8 109.76,112.1 121.48,102.1 133.2,98.7 144.92,99.1 156.65,116.5 168.37,120.6" fill="none" stroke="#262626" stroke-width="2.9" stroke-linejoin="round"/><circle cx="39.43" cy="120.8" r="2.4" fill="#fff" stroke="#262626" stroke-width="1.5"/><circle cx="51.15" cy="120.8" r="2.4" fill="#fff" stroke="#262626" stroke-width="1.5"/><circle cx="62.88" cy="120.8" r="2.4" fill="#fff" stroke="#262626" stroke-width="1.5"/><circle cx="74.6" cy="120.8" r="2.4" fill="#fff" stroke="#262626" stroke-width="1.5"/><circle cx="86.32" cy="120.8" r="2.4" fill="#fff" stroke="#262626" stroke-width="1.5"/><circle cx="98.04" cy="120.8" r="2.4" fill="#fff" stroke="#262626" stroke-width="1.5"/><circle cx="109.76" cy="112.1" r="2.4" fill="#fff" stroke="#262626" stroke-width="1.5"/><circle cx="121.48" cy="102.1" r="2.4" fill="#fff" stroke="#262626" stroke-width="1.5"/><circle cx="133.2" cy="98.7" r="2.4" fill="#fff" stroke="#262626" stroke-width="1.5"/><circle cx="144.92" cy="99.1" r="2.4" fill="#fff" stroke="#262626" stroke-width="1.5"/><circle cx="156.65" cy="116.5" r="2.4" fill="#fff" stroke="#262626" stroke-width="1.5"/><circle cx="168.37" cy="120.6" r="2.4" fill="#fff" stroke="#262626" stroke-width="1.5"/><polyline points="39.43,111.9 51.15,116.1 62.88,119.9 74.6,119.4 86.32,120.2 98.04,110.4 109.76,98.2 121.48,83.8 133.2,76.5 144.92,76.5 156.65,92.4 168.37,102.6" fill="none" stroke="#d6006c" stroke-width="1.6" stroke-linejoin="round"/><circle cx="39.43" cy="111.9" r="1.5" fill="#fff" stroke="#d6006c" stroke-width="1.0"/><circle cx="51.15" cy="116.1" r="1.5" fill="#fff" stroke="#d6006c" stroke-width="1.0"/><circle cx="62.88" cy="119.9" r="1.5" fill="#fff" stroke="#d6006c" stroke-width="1.0"/><circle cx="74.6" cy="119.4" r="1.5" fill="#fff" stroke="#d6006c" stroke-width="1.0"/><circle cx="86.32" cy="120.2" r="1.5" fill="#fff" stroke="#d6006c" stroke-width="1.0"/><circle cx="98.04" cy="110.4" r="1.5" fill="#fff" stroke="#d6006c" stroke-width="1.0"/><circle cx="109.76" cy="98.2" r="1.5" fill="#fff" stroke="#d6006c" stroke-width="1.0"/><circle cx="121.48" cy="83.8" r="1.5" fill="#fff" stroke="#d6006c" stroke-width="1.0"/><circle cx="133.2" cy="76.5" r="1.5" fill="#fff" stroke="#d6006c" stroke-width="1.0"/><circle cx="144.92" cy="76.5" r="1.5" fill="#fff" stroke="#d6006c" stroke-width="1.0"/><circle cx="156.65" cy="92.4" r="1.5" fill="#fff" stroke="#d6006c" stroke-width="1.0"/><circle cx="168.37" cy="102.6" r="1.5" fill="#fff" stroke="#d6006c" stroke-width="1.0"/><text transform="translate(-0.2,7.7)" font-size="10.9" font-weight="bold" fill="#000" stroke="#000" stroke-width="0.15">B</text><text transform="translate(103.9,10.9) scale(1,1.12)" text-anchor="middle" font-size="8.0" font-weight="bold" fill="#111" stroke="#111" stroke-width="0.15">Continental: Spain</text><text transform="translate(103.9,147.1)" text-anchor="middle" font-size="8" fill="#1a1a1a" stroke="#1a1a1a" stroke-width="0.15">month of the year</text><text transform="translate(7.4,70.6) rotate(-90)" text-anchor="middle" font-size="8" fill="#1a1a1a" stroke="#1a1a1a" stroke-width="0.15">suitability</text><text transform="translate(198,70.6) rotate(90)" text-anchor="middle" font-size="8" fill="#d6006c" stroke="#d6006c" stroke-width="0.15">proportion suitable land</text></g><g transform="translate(345.45,0)"><rect x="238.23" y="16.44" width="5.1" height="33.74" fill="#f2eef5"/><rect x="238.23" y="22.57" width="5.1" height="26.84" fill="#ecd6f2"/><rect x="238.23" y="30.24" width="5.1" height="16.1" fill="#e4bde9"/><rect x="238.23" y="34.07" width="5.1" height="9.2" fill="#d9a3dd"/><rect x="246.68" y="21.8" width="5.1" height="28.37" fill="#f2eef5"/><rect x="246.68" y="29.47" width="5.1" height="19.94" fill="#ecd6f2"/><rect x="246.68" y="33.31" width="5.1" height="13.04" fill="#e4bde9"/><rect x="263.6" y="37.91" width="5.1" height="9.2" fill="#f2eef5"/><rect x="280.52" y="22.57" width="5.1" height="26.84" fill="#f2eef5"/><rect x="280.52" y="27.17" width="5.1" height="20.71" fill="#ecd6f2"/><rect x="280.52" y="32.54" width="5.1" height="12.27" fill="#e4bde9"/><rect x="288.98" y="17.97" width="5.1" height="32.21" fill="#f2eef5"/><rect x="288.98" y="27.17" width="5.1" height="22.24" fill="#ecd6f2"/><rect x="288.98" y="33.31" width="5.1" height="13.04" fill="#e4bde9"/><rect x="297.44" y="12.29" width="5.1" height="38.65" fill="#f2eef5"/><rect x="297.44" y="16.44" width="5.1" height="31.44" fill="#ecd6f2"/><rect x="297.44" y="21.04" width="5.1" height="22.24" fill="#e4bde9"/><rect x="297.44" y="24.87" width="5.1" height="13.8" fill="#d9a3dd"/><rect x="305.9" y="12.29" width="5.1" height="37.88" fill="#f2eef5"/><rect x="305.9" y="14.9" width="5.1" height="29.91" fill="#ecd6f2"/><rect x="305.9" y="17.97" width="5.1" height="20.71" fill="#e4bde9"/><rect x="305.9" y="23.34" width="5.1" height="11.5" fill="#d9a3dd"/><rect x="314.36" y="12.29" width="5.1" height="37.88" fill="#f2eef5"/><rect x="314.36" y="14.9" width="5.1" height="29.91" fill="#ecd6f2"/><rect x="314.36" y="17.97" width="5.1" height="20.71" fill="#e4bde9"/><rect x="314.36" y="21.04" width="5.1" height="13.04" fill="#d9a3dd"/><rect x="322.82" y="12.29" width="5.1" height="37.88" fill="#f2eef5"/><rect x="322.82" y="14.9" width="5.1" height="29.91" fill="#ecd6f2"/><rect x="322.82" y="16.44" width="5.1" height="20.71" fill="#e4bde9"/><rect x="322.82" y="20.27" width="5.1" height="9.2" fill="#d9a3dd"/><rect x="331.27" y="13.37" width="5.1" height="36.81" fill="#f2eef5"/><rect x="331.27" y="17.97" width="5.1" height="28.37" fill="#ecd6f2"/><rect x="331.27" y="22.57" width="5.1" height="19.17" fill="#e4bde9"/><rect x="331.27" y="26.4" width="5.1" height="10.74" fill="#d9a3dd"/><line x1="235.7" y1="9.6" x2="235.7" y2="53.6" stroke="#1a1a1a" stroke-width="1.05"/><line x1="235.2" y1="53.6" x2="338.9" y2="53.6" stroke="#1a1a1a" stroke-width="1.05"/><line x1="232.89999999999998" y1="51.6" x2="235.7" y2="51.6" stroke="#222" stroke-width="0.9"/><text transform="translate(231,53.85) scale(1,1.05)" text-anchor="end" font-size="5.8" fill="#1a1a1a" stroke="#1a1a1a" stroke-width="0.07">0.5</text><line x1="232.89999999999998" y1="43.6" x2="235.7" y2="43.6" stroke="#222" stroke-width="0.9"/><text transform="translate(231,45.85) scale(1,1.05)" text-anchor="end" font-size="5.8" fill="#1a1a1a" stroke="#1a1a1a" stroke-width="0.07">0.6</text><line x1="232.89999999999998" y1="35.6" x2="235.7" y2="35.6" stroke="#222" stroke-width="0.9"/><text transform="translate(231,37.85) scale(1,1.05)" text-anchor="end" font-size="5.8" fill="#1a1a1a" stroke="#1a1a1a" stroke-width="0.07">0.7</text><line x1="232.89999999999998" y1="27.6" x2="235.7" y2="27.6" stroke="#222" stroke-width="0.9"/><text transform="translate(231,29.85) scale(1,1.05)" text-anchor="end" font-size="5.8" fill="#1a1a1a" stroke="#1a1a1a" stroke-width="0.07">0.8</text><line x1="232.89999999999998" y1="19.6" x2="235.7" y2="19.6" stroke="#222" stroke-width="0.9"/><text transform="translate(231,21.85) scale(1,1.05)" text-anchor="end" font-size="5.8" fill="#1a1a1a" stroke="#1a1a1a" stroke-width="0.07">0.9</text><line x1="232.89999999999998" y1="11.6" x2="235.7" y2="11.6" stroke="#222" stroke-width="0.9"/><text transform="translate(231,13.85) scale(1,1.05)" text-anchor="end" font-size="5.8" fill="#1a1a1a" stroke="#1a1a1a" stroke-width="0.07">1.0</text><line x1="240.78" y1="53.6" x2="240.78" y2="56.4" stroke="#222" stroke-width="0.9"/><text transform="translate(240.78,62.9) scale(1,1.05)" text-anchor="middle" font-size="5.8" fill="#1a1a1a" stroke="#1a1a1a" stroke-width="0.07">1</text><line x1="249.23" y1="53.6" x2="249.23" y2="56.4" stroke="#222" stroke-width="0.9"/><text transform="translate(249.23,62.9) scale(1,1.05)" text-anchor="middle" font-size="5.8" fill="#1a1a1a" stroke="#1a1a1a" stroke-width="0.07">2</text><line x1="257.69" y1="53.6" x2="257.69" y2="56.4" stroke="#222" stroke-width="0.9"/><text transform="translate(257.69,62.9) scale(1,1.05)" text-anchor="middle" font-size="5.8" fill="#1a1a1a" stroke="#1a1a1a" stroke-width="0.07">3</text><line x1="266.15" y1="53.6" x2="266.15" y2="56.4" stroke="#222" stroke-width="0.9"/><text transform="translate(266.15,62.9) scale(1,1.05)" text-anchor="middle" font-size="5.8" fill="#1a1a1a" stroke="#1a1a1a" stroke-width="0.07">4</text><line x1="274.61" y1="53.6" x2="274.61" y2="56.4" stroke="#222" stroke-width="0.9"/><text transform="translate(274.61,62.9) scale(1,1.05)" text-anchor="middle" font-size="5.8" fill="#1a1a1a" stroke="#1a1a1a" stroke-width="0.07">5</text><line x1="283.07" y1="53.6" x2="283.07" y2="56.4" stroke="#222" stroke-width="0.9"/><text transform="translate(283.07,62.9) scale(1,1.05)" text-anchor="middle" font-size="5.8" fill="#1a1a1a" stroke="#1a1a1a" stroke-width="0.07">6</text><line x1="291.53" y1="53.6" x2="291.53" y2="56.4" stroke="#222" stroke-width="0.9"/><text transform="translate(291.53,62.9) scale(1,1.05)" text-anchor="middle" font-size="5.8" fill="#1a1a1a" stroke="#1a1a1a" stroke-width="0.07">7</text><line x1="299.99" y1="53.6" x2="299.99" y2="56.4" stroke="#222" stroke-width="0.9"/><text transform="translate(299.99,62.9) scale(1,1.05)" text-anchor="middle" font-size="5.8" fill="#1a1a1a" stroke="#1a1a1a" stroke-width="0.07">8</text><line x1="308.45" y1="53.6" x2="308.45" y2="56.4" stroke="#222" stroke-width="0.9"/><text transform="translate(308.45,62.9) scale(1,1.05)" text-anchor="middle" font-size="5.8" fill="#1a1a1a" stroke="#1a1a1a" stroke-width="0.07">9</text><line x1="316.91" y1="53.6" x2="316.91" y2="56.4" stroke="#222" stroke-width="0.9"/><text transform="translate(316.91,62.9) scale(1,1.05)" text-anchor="middle" font-size="5.8" fill="#1a1a1a" stroke="#1a1a1a" stroke-width="0.07">10</text><line x1="325.37" y1="53.6" x2="325.37" y2="56.4" stroke="#222" stroke-width="0.9"/><text transform="translate(325.37,62.9) scale(1,1.05)" text-anchor="middle" font-size="5.8" fill="#1a1a1a" stroke="#1a1a1a" stroke-width="0.07">11</text><line x1="333.82" y1="53.6" x2="333.82" y2="56.4" stroke="#222" stroke-width="0.9"/><text transform="translate(333.82,62.9) scale(1,1.05)" text-anchor="middle" font-size="5.8" fill="#1a1a1a" stroke="#1a1a1a" stroke-width="0.07">12</text><polyline points="240.78,40.21 249.23,40.67 257.69,43.58 266.15,43.28 274.61,45.27 283.07,36.83 291.53,42.05 299.99,30.7 308.45,26.1 316.91,23.64 325.37,22.88 333.82,27.94" fill="none" stroke="#d6006c" stroke-width="2.3" stroke-linejoin="round"/><circle cx="240.78" cy="40.21" r="1.6" fill="#fff" stroke="#d6006c" stroke-width="1.1"/><circle cx="249.23" cy="40.67" r="1.6" fill="#fff" stroke="#d6006c" stroke-width="1.1"/><circle cx="257.69" cy="43.58" r="1.6" fill="#fff" stroke="#d6006c" stroke-width="1.1"/><circle cx="266.15" cy="43.28" r="1.6" fill="#fff" stroke="#d6006c" stroke-width="1.1"/><circle cx="274.61" cy="45.27" r="1.6" fill="#fff" stroke="#d6006c" stroke-width="1.1"/><circle cx="283.07" cy="36.83" r="1.6" fill="#fff" stroke="#d6006c" stroke-width="1.1"/><circle cx="291.53" cy="42.05" r="1.6" fill="#fff" stroke="#d6006c" stroke-width="1.1"/><circle cx="299.99" cy="30.7" r="1.6" fill="#fff" stroke="#d6006c" stroke-width="1.1"/><circle cx="308.45" cy="26.1" r="1.6" fill="#fff" stroke="#d6006c" stroke-width="1.1"/><circle cx="316.91" cy="23.64" r="1.6" fill="#fff" stroke="#d6006c" stroke-width="1.1"/><circle cx="325.37" cy="22.88" r="1.6" fill="#fff" stroke="#d6006c" stroke-width="1.1"/><circle cx="333.82" cy="27.94" r="1.6" fill="#fff" stroke="#d6006c" stroke-width="1.1"/><text transform="translate(217.9,7.8)" font-size="10.9" font-weight="bold" fill="#000" stroke="#000" stroke-width="0.15">b1</text><text transform="translate(287.3,5.6) scale(1,1.12)" text-anchor="middle" font-size="6.3" font-weight="bold" fill="#111" stroke="#111" stroke-width="0.07">suitable land</text><text transform="translate(287.3,71.9)" text-anchor="middle" font-size="6.3" fill="#1a1a1a" stroke="#1a1a1a" stroke-width="0.07">month of the year</text><text transform="translate(218.3,31.6) rotate(-90)" text-anchor="middle" font-size="6.3" fill="#1a1a1a" stroke="#1a1a1a" stroke-width="0.07">suitability</text></g><g transform="translate(345.45,79.3)"><rect x="238.23" y="36.61" width="5.1" height="14.99" fill="#f6f6f8"/><rect x="246.68" y="40.75" width="5.1" height="10.85" fill="#f6f6f8"/><rect x="272.06" y="45.81" width="5.1" height="5.79" fill="#f6f6f8"/><rect x="280.52" y="36.61" width="5.1" height="14.99" fill="#f6f6f8"/><rect x="280.52" y="46.88" width="5.1" height="4.72" fill="#d9e7fa"/><rect x="288.98" y="19.74" width="5.1" height="31.86" fill="#f6f6f8"/><rect x="288.98" y="34.77" width="5.1" height="16.83" fill="#d9e7fa"/><rect x="288.98" y="43.51" width="5.1" height="8.09" fill="#bbd4f5"/><rect x="297.44" y="18.2" width="5.1" height="33.4" fill="#f6f6f8"/><rect x="297.44" y="33.54" width="5.1" height="18.06" fill="#d9e7fa"/><rect x="297.44" y="41.67" width="5.1" height="9.93" fill="#bbd4f5"/><rect x="305.9" y="16.67" width="5.1" height="34.93" fill="#f6f6f8"/><rect x="305.9" y="32.47" width="5.1" height="19.13" fill="#d9e7fa"/><rect x="305.9" y="41.67" width="5.1" height="9.93" fill="#bbd4f5"/><rect x="314.36" y="16.67" width="5.1" height="34.93" fill="#f6f6f8"/><rect x="314.36" y="30.47" width="5.1" height="21.13" fill="#d9e7fa"/><rect x="314.36" y="41.21" width="5.1" height="10.39" fill="#bbd4f5"/><rect x="322.82" y="22.8" width="5.1" height="28.8" fill="#f6f6f8"/><rect x="322.82" y="40.75" width="5.1" height="10.85" fill="#d9e7fa"/><rect x="331.27" y="32.01" width="5.1" height="19.59" fill="#f6f6f8"/><line x1="235.7" y1="9.6" x2="235.7" y2="53.6" stroke="#1a1a1a" stroke-width="1.05"/><line x1="235.2" y1="53.6" x2="338.9" y2="53.6" stroke="#1a1a1a" stroke-width="1.05"/><line x1="232.89999999999998" y1="51.6" x2="235.7" y2="51.6" stroke="#222" stroke-width="0.9"/><text transform="translate(231,53.85) scale(1,1.05)" text-anchor="end" font-size="5.8" fill="#1a1a1a" stroke="#1a1a1a" stroke-width="0.07">0.0</text><line x1="232.89999999999998" y1="43.6" x2="235.7" y2="43.6" stroke="#222" stroke-width="0.9"/><text transform="translate(231,45.85) scale(1,1.05)" text-anchor="end" font-size="5.8" fill="#1a1a1a" stroke="#1a1a1a" stroke-width="0.07">0.1</text><line x1="232.89999999999998" y1="35.6" x2="235.7" y2="35.6" stroke="#222" stroke-width="0.9"/><text transform="translate(231,37.85) scale(1,1.05)" text-anchor="end" font-size="5.8" fill="#1a1a1a" stroke="#1a1a1a" stroke-width="0.07">0.2</text><line x1="232.89999999999998" y1="27.6" x2="235.7" y2="27.6" stroke="#222" stroke-width="0.9"/><text transform="translate(231,29.85) scale(1,1.05)" text-anchor="end" font-size="5.8" fill="#1a1a1a" stroke="#1a1a1a" stroke-width="0.07">0.3</text><line x1="232.89999999999998" y1="19.6" x2="235.7" y2="19.6" stroke="#222" stroke-width="0.9"/><text transform="translate(231,21.85) scale(1,1.05)" text-anchor="end" font-size="5.8" fill="#1a1a1a" stroke="#1a1a1a" stroke-width="0.07">0.4</text><line x1="232.89999999999998" y1="11.6" x2="235.7" y2="11.6" stroke="#222" stroke-width="0.9"/><text transform="translate(231,13.85) scale(1,1.05)" text-anchor="end" font-size="5.8" fill="#1a1a1a" stroke="#1a1a1a" stroke-width="0.07">0.5</text><line x1="240.78" y1="53.6" x2="240.78" y2="56.4" stroke="#222" stroke-width="0.9"/><text transform="translate(240.78,62.9) scale(1,1.05)" text-anchor="middle" font-size="5.8" fill="#1a1a1a" stroke="#1a1a1a" stroke-width="0.07">1</text><line x1="249.23" y1="53.6" x2="249.23" y2="56.4" stroke="#222" stroke-width="0.9"/><text transform="translate(249.23,62.9) scale(1,1.05)" text-anchor="middle" font-size="5.8" fill="#1a1a1a" stroke="#1a1a1a" stroke-width="0.07">2</text><line x1="257.69" y1="53.6" x2="257.69" y2="56.4" stroke="#222" stroke-width="0.9"/><text transform="translate(257.69,62.9) scale(1,1.05)" text-anchor="middle" font-size="5.8" fill="#1a1a1a" stroke="#1a1a1a" stroke-width="0.07">3</text><line x1="266.15" y1="53.6" x2="266.15" y2="56.4" stroke="#222" stroke-width="0.9"/><text transform="translate(266.15,62.9) scale(1,1.05)" text-anchor="middle" font-size="5.8" fill="#1a1a1a" stroke="#1a1a1a" stroke-width="0.07">4</text><line x1="274.61" y1="53.6" x2="274.61" y2="56.4" stroke="#222" stroke-width="0.9"/><text transform="translate(274.61,62.9) scale(1,1.05)" text-anchor="middle" font-size="5.8" fill="#1a1a1a" stroke="#1a1a1a" stroke-width="0.07">5</text><line x1="283.07" y1="53.6" x2="283.07" y2="56.4" stroke="#222" stroke-width="0.9"/><text transform="translate(283.07,62.9) scale(1,1.05)" text-anchor="middle" font-size="5.8" fill="#1a1a1a" stroke="#1a1a1a" stroke-width="0.07">6</text><line x1="291.53" y1="53.6" x2="291.53" y2="56.4" stroke="#222" stroke-width="0.9"/><text transform="translate(291.53,62.9) scale(1,1.05)" text-anchor="middle" font-size="5.8" fill="#1a1a1a" stroke="#1a1a1a" stroke-width="0.07">7</text><line x1="299.99" y1="53.6" x2="299.99" y2="56.4" stroke="#222" stroke-width="0.9"/><text transform="translate(299.99,62.9) scale(1,1.05)" text-anchor="middle" font-size="5.8" fill="#1a1a1a" stroke="#1a1a1a" stroke-width="0.07">8</text><line x1="308.45" y1="53.6" x2="308.45" y2="56.4" stroke="#222" stroke-width="0.9"/><text transform="translate(308.45,62.9) scale(1,1.05)" text-anchor="middle" font-size="5.8" fill="#1a1a1a" stroke="#1a1a1a" stroke-width="0.07">9</text><line x1="316.91" y1="53.6" x2="316.91" y2="56.4" stroke="#222" stroke-width="0.9"/><text transform="translate(316.91,62.9) scale(1,1.05)" text-anchor="middle" font-size="5.8" fill="#1a1a1a" stroke="#1a1a1a" stroke-width="0.07">10</text><line x1="325.37" y1="53.6" x2="325.37" y2="56.4" stroke="#222" stroke-width="0.9"/><text transform="translate(325.37,62.9) scale(1,1.05)" text-anchor="middle" font-size="5.8" fill="#1a1a1a" stroke="#1a1a1a" stroke-width="0.07">11</text><line x1="333.82" y1="53.6" x2="333.82" y2="56.4" stroke="#222" stroke-width="0.9"/><text transform="translate(333.82,62.9) scale(1,1.05)" text-anchor="middle" font-size="5.8" fill="#1a1a1a" stroke="#1a1a1a" stroke-width="0.07">12</text><polyline points="240.78,51.03 249.23,51.03 257.69,51.03 266.15,51.03 274.61,51.03 283.07,51.03 291.53,51.03 299.99,50.57 308.45,50.72 316.91,50.57 325.37,51.03 333.82,51.03" fill="none" stroke="#1c58a8" stroke-width="2.3" stroke-linejoin="round"/><circle cx="240.78" cy="51.03" r="1.6" fill="#fff" stroke="#1c58a8" stroke-width="1.1"/><circle cx="249.23" cy="51.03" r="1.6" fill="#fff" stroke="#1c58a8" stroke-width="1.1"/><circle cx="257.69" cy="51.03" r="1.6" fill="#fff" stroke="#1c58a8" stroke-width="1.1"/><circle cx="266.15" cy="51.03" r="1.6" fill="#fff" stroke="#1c58a8" stroke-width="1.1"/><circle cx="274.61" cy="51.03" r="1.6" fill="#fff" stroke="#1c58a8" stroke-width="1.1"/><circle cx="283.07" cy="51.03" r="1.6" fill="#fff" stroke="#1c58a8" stroke-width="1.1"/><circle cx="291.53" cy="51.03" r="1.6" fill="#fff" stroke="#1c58a8" stroke-width="1.1"/><circle cx="299.99" cy="50.57" r="1.6" fill="#fff" stroke="#1c58a8" stroke-width="1.1"/><circle cx="308.45" cy="50.72" r="1.6" fill="#fff" stroke="#1c58a8" stroke-width="1.1"/><circle cx="316.91" cy="50.57" r="1.6" fill="#fff" stroke="#1c58a8" stroke-width="1.1"/><circle cx="325.37" cy="51.03" r="1.6" fill="#fff" stroke="#1c58a8" stroke-width="1.1"/><circle cx="333.82" cy="51.03" r="1.6" fill="#fff" stroke="#1c58a8" stroke-width="1.1"/><text transform="translate(217.9,7.8)" font-size="10.9" font-weight="bold" fill="#000" stroke="#000" stroke-width="0.15">b2</text><text transform="translate(287.3,5.6) scale(1,1.12)" text-anchor="middle" font-size="6.3" font-weight="bold" fill="#111" stroke="#111" stroke-width="0.07">unsuitable land</text><text transform="translate(287.3,71.9)" text-anchor="middle" font-size="6.3" fill="#1a1a1a" stroke="#1a1a1a" stroke-width="0.07">month of the year</text><text transform="translate(218.3,31.6) rotate(-90)" text-anchor="middle" font-size="6.3" fill="#1a1a1a" stroke="#1a1a1a" stroke-width="0.07">suitability</text></g><g transform="translate(0,158.7)"><rect x="35.23" y="59.2" width="8.4" height="61.4" fill="#ececec"/><rect x="35.23" y="95.2" width="8.4" height="25.4" fill="#d8d8d8"/><rect x="35.23" y="108.7" width="8.4" height="11.9" fill="#c0c0c0"/><rect x="35.23" y="115.5" width="8.4" height="5.1" fill="#a2a2a2"/><rect x="46.95" y="80.3" width="8.4" height="40.3" fill="#ececec"/><rect x="46.95" y="105.1" width="8.4" height="15.5" fill="#d8d8d8"/><rect x="46.95" y="114" width="8.4" height="6.6" fill="#c0c0c0"/><rect x="58.68" y="83.9" width="8.4" height="36.7" fill="#ececec"/><rect x="58.68" y="108.3" width="8.4" height="12.3" fill="#d8d8d8"/><rect x="70.4" y="64.1" width="8.4" height="56.5" fill="#ececec"/><rect x="70.4" y="90.2" width="8.4" height="30.4" fill="#d8d8d8"/><rect x="70.4" y="110.5" width="8.4" height="10.1" fill="#c0c0c0"/><rect x="82.12" y="40.7" width="8.4" height="79.9" fill="#ececec"/><rect x="82.12" y="88" width="8.4" height="32.6" fill="#d8d8d8"/><rect x="82.12" y="111.9" width="8.4" height="8.7" fill="#c0c0c0"/><rect x="93.84" y="29.1" width="8.4" height="91.5" fill="#ececec"/><rect x="93.84" y="47.1" width="8.4" height="73.5" fill="#d8d8d8"/><rect x="93.84" y="80.3" width="8.4" height="40.3" fill="#c0c0c0"/><rect x="93.84" y="94.7" width="8.4" height="25.9" fill="#a2a2a2"/><rect x="105.56" y="23.1" width="8.4" height="97.3" fill="#ececec"/><rect x="105.56" y="32.7" width="8.4" height="87.7" fill="#d8d8d8"/><rect x="105.56" y="54.4" width="8.4" height="65.7" fill="#c0c0c0"/><rect x="105.56" y="76.8" width="8.4" height="28.3" fill="#a2a2a2"/><rect x="117.28" y="20.5" width="8.4" height="99.9" fill="#ececec"/><rect x="117.28" y="27.2" width="8.4" height="92.9" fill="#d8d8d8"/><rect x="117.28" y="40.3" width="8.4" height="64.8" fill="#c0c0c0"/><rect x="117.28" y="56.6" width="8.4" height="30.2" fill="#a2a2a2"/><rect x="129" y="20" width="8.4" height="100.4" fill="#ececec"/><rect x="129" y="24.4" width="8.4" height="95.7" fill="#d8d8d8"/><rect x="129" y="33.3" width="8.4" height="63" fill="#c0c0c0"/><rect x="129" y="45.3" width="8.4" height="33.8" fill="#a2a2a2"/><rect x="140.72" y="20" width="8.4" height="100.4" fill="#ececec"/><rect x="140.72" y="23.3" width="8.4" height="96.8" fill="#d8d8d8"/><rect x="140.72" y="32.4" width="8.4" height="66.1" fill="#c0c0c0"/><rect x="140.72" y="50.5" width="8.4" height="31.9" fill="#a2a2a2"/><rect x="152.45" y="20.5" width="8.4" height="99.9" fill="#ececec"/><rect x="152.45" y="26.1" width="8.4" height="94" fill="#d8d8d8"/><rect x="152.45" y="43.5" width="8.4" height="73.8" fill="#c0c0c0"/><rect x="152.45" y="70.2" width="8.4" height="33.8" fill="#a2a2a2"/><rect x="164.17" y="31.1" width="8.4" height="89.3" fill="#ececec"/><rect x="164.17" y="73" width="8.4" height="47.4" fill="#d8d8d8"/><rect x="164.17" y="90.2" width="8.4" height="30.2" fill="#c0c0c0"/><rect x="164.17" y="101.3" width="8.4" height="19.1" fill="#a2a2a2"/><line x1="32.4" y1="14.5" x2="32.4" y2="125.6" stroke="#222" stroke-width="1.1"/><line x1="31.9" y1="125.6" x2="175.4" y2="125.6" stroke="#222" stroke-width="1.1"/><line x1="175.4" y1="14.5" x2="175.4" y2="126.1" stroke="#d6006c" stroke-width="1.1"/><line x1="29.7" y1="120.6" x2="32.4" y2="120.6" stroke="#333" stroke-width="1"/><text transform="translate(27.2,123.65) scale(1,1.12)" text-anchor="end" font-size="7.7" fill="#1a1a1a" stroke="#1a1a1a" stroke-width="0.15">0.00</text><line x1="29.7" y1="88.69" x2="32.4" y2="88.69" stroke="#333" stroke-width="1"/><text transform="translate(27.2,91.74) scale(1,1.12)" text-anchor="end" font-size="7.7" fill="#1a1a1a" stroke="#1a1a1a" stroke-width="0.15">0.10</text><line x1="29.7" y1="70.15" x2="32.4" y2="70.15" stroke="#333" stroke-width="1"/><text transform="translate(27.2,73.2) scale(1,1.12)" text-anchor="end" font-size="7.7" fill="#1a1a1a" stroke="#1a1a1a" stroke-width="0.15">0.25</text><line x1="29.7" y1="49.25" x2="32.4" y2="49.25" stroke="#333" stroke-width="1"/><text transform="translate(27.2,52.3) scale(1,1.12)" text-anchor="end" font-size="7.7" fill="#1a1a1a" stroke="#1a1a1a" stroke-width="0.15">0.50</text><line x1="29.7" y1="33.22" x2="32.4" y2="33.22" stroke="#333" stroke-width="1"/><text transform="translate(27.2,36.27) scale(1,1.12)" text-anchor="end" font-size="7.7" fill="#1a1a1a" stroke="#1a1a1a" stroke-width="0.15">0.75</text><line x1="29.7" y1="24.88" x2="32.4" y2="24.88" stroke="#333" stroke-width="1"/><text transform="translate(27.2,27.93) scale(1,1.12)" text-anchor="end" font-size="7.7" fill="#1a1a1a" stroke="#1a1a1a" stroke-width="0.15">0.90</text><line x1="29.7" y1="19.7" x2="32.4" y2="19.7" stroke="#333" stroke-width="1"/><text transform="translate(27.2,22.75) scale(1,1.12)" text-anchor="end" font-size="7.7" fill="#1a1a1a" stroke="#1a1a1a" stroke-width="0.15">1.00</text><line x1="175.4" y1="88.69" x2="178.1" y2="88.69" stroke="#d6006c" stroke-width="1"/><text transform="translate(180.4,91.74) scale(1,1.12)" font-size="7.7" fill="#d6006c" stroke="#d6006c" stroke-width="0.15">0.10</text><line x1="175.4" y1="70.15" x2="178.1" y2="70.15" stroke="#d6006c" stroke-width="1"/><text transform="translate(180.4,73.2) scale(1,1.12)" font-size="7.7" fill="#d6006c" stroke="#d6006c" stroke-width="0.15">0.25</text><line x1="175.4" y1="49.25" x2="178.1" y2="49.25" stroke="#d6006c" stroke-width="1"/><text transform="translate(180.4,52.3) scale(1,1.12)" font-size="7.7" fill="#d6006c" stroke="#d6006c" stroke-width="0.15">0.50</text><line x1="175.4" y1="33.22" x2="178.1" y2="33.22" stroke="#d6006c" stroke-width="1"/><text transform="translate(180.4,36.27) scale(1,1.12)" font-size="7.7" fill="#d6006c" stroke="#d6006c" stroke-width="0.15">0.75</text><line x1="175.4" y1="24.88" x2="178.1" y2="24.88" stroke="#d6006c" stroke-width="1"/><text transform="translate(180.4,27.93) scale(1,1.12)" font-size="7.7" fill="#d6006c" stroke="#d6006c" stroke-width="0.15">0.90</text><line x1="175.4" y1="19.7" x2="178.1" y2="19.7" stroke="#d6006c" stroke-width="1"/><text transform="translate(180.4,22.75) scale(1,1.12)" font-size="7.7" fill="#d6006c" stroke="#d6006c" stroke-width="0.15">1.00</text><line x1="39.43" y1="125.6" x2="39.43" y2="128.6" stroke="#333" stroke-width="1"/><text transform="translate(39.43,136.8) scale(1,1.12)" text-anchor="middle" font-size="7.7" fill="#1a1a1a" stroke="#1a1a1a" stroke-width="0.15">1</text><line x1="51.15" y1="125.6" x2="51.15" y2="128.6" stroke="#333" stroke-width="1"/><text transform="translate(51.15,136.8) scale(1,1.12)" text-anchor="middle" font-size="7.7" fill="#1a1a1a" stroke="#1a1a1a" stroke-width="0.15">2</text><line x1="62.88" y1="125.6" x2="62.88" y2="128.6" stroke="#333" stroke-width="1"/><text transform="translate(62.88,136.8) scale(1,1.12)" text-anchor="middle" font-size="7.7" fill="#1a1a1a" stroke="#1a1a1a" stroke-width="0.15">3</text><line x1="74.6" y1="125.6" x2="74.6" y2="128.6" stroke="#333" stroke-width="1"/><text transform="translate(74.6,136.8) scale(1,1.12)" text-anchor="middle" font-size="7.7" fill="#1a1a1a" stroke="#1a1a1a" stroke-width="0.15">4</text><line x1="86.32" y1="125.6" x2="86.32" y2="128.6" stroke="#333" stroke-width="1"/><text transform="translate(86.32,136.8) scale(1,1.12)" text-anchor="middle" font-size="7.7" fill="#1a1a1a" stroke="#1a1a1a" stroke-width="0.15">5</text><line x1="98.04" y1="125.6" x2="98.04" y2="128.6" stroke="#333" stroke-width="1"/><text transform="translate(98.04,136.8) scale(1,1.12)" text-anchor="middle" font-size="7.7" fill="#1a1a1a" stroke="#1a1a1a" stroke-width="0.15">6</text><line x1="109.76" y1="125.6" x2="109.76" y2="128.6" stroke="#333" stroke-width="1"/><text transform="translate(109.76,136.8) scale(1,1.12)" text-anchor="middle" font-size="7.7" fill="#1a1a1a" stroke="#1a1a1a" stroke-width="0.15">7</text><line x1="121.48" y1="125.6" x2="121.48" y2="128.6" stroke="#333" stroke-width="1"/><text transform="translate(121.48,136.8) scale(1,1.12)" text-anchor="middle" font-size="7.7" fill="#1a1a1a" stroke="#1a1a1a" stroke-width="0.15">8</text><line x1="133.2" y1="125.6" x2="133.2" y2="128.6" stroke="#333" stroke-width="1"/><text transform="translate(133.2,136.8) scale(1,1.12)" text-anchor="middle" font-size="7.7" fill="#1a1a1a" stroke="#1a1a1a" stroke-width="0.15">9</text><line x1="144.92" y1="125.6" x2="144.92" y2="128.6" stroke="#333" stroke-width="1"/><text transform="translate(144.92,136.8) scale(1,1.12)" text-anchor="middle" font-size="7.7" fill="#1a1a1a" stroke="#1a1a1a" stroke-width="0.15">10</text><line x1="156.65" y1="125.6" x2="156.65" y2="128.6" stroke="#333" stroke-width="1"/><text transform="translate(156.65,136.8) scale(1,1.12)" text-anchor="middle" font-size="7.7" fill="#1a1a1a" stroke="#1a1a1a" stroke-width="0.15">11</text><line x1="168.37" y1="125.6" x2="168.37" y2="128.6" stroke="#333" stroke-width="1"/><text transform="translate(168.37,136.8) scale(1,1.12)" text-anchor="middle" font-size="7.7" fill="#1a1a1a" stroke="#1a1a1a" stroke-width="0.15">12</text><polyline points="39.43,120.8 51.15,120.8 62.88,120.8 74.6,120.8 86.32,120.8 98.04,108.7 109.76,91.6 121.48,74.6 133.2,64.4 144.92,69.9 156.65,87.4 168.37,114" fill="none" stroke="#262626" stroke-width="2.9" stroke-linejoin="round"/><circle cx="39.43" cy="120.8" r="2.4" fill="#fff" stroke="#262626" stroke-width="1.5"/><circle cx="51.15" cy="120.8" r="2.4" fill="#fff" stroke="#262626" stroke-width="1.5"/><circle cx="62.88" cy="120.8" r="2.4" fill="#fff" stroke="#262626" stroke-width="1.5"/><circle cx="74.6" cy="120.8" r="2.4" fill="#fff" stroke="#262626" stroke-width="1.5"/><circle cx="86.32" cy="120.8" r="2.4" fill="#fff" stroke="#262626" stroke-width="1.5"/><circle cx="98.04" cy="108.7" r="2.4" fill="#fff" stroke="#262626" stroke-width="1.5"/><circle cx="109.76" cy="91.6" r="2.4" fill="#fff" stroke="#262626" stroke-width="1.5"/><circle cx="121.48" cy="74.6" r="2.4" fill="#fff" stroke="#262626" stroke-width="1.5"/><circle cx="133.2" cy="64.4" r="2.4" fill="#fff" stroke="#262626" stroke-width="1.5"/><circle cx="144.92" cy="69.9" r="2.4" fill="#fff" stroke="#262626" stroke-width="1.5"/><circle cx="156.65" cy="87.4" r="2.4" fill="#fff" stroke="#262626" stroke-width="1.5"/><circle cx="168.37" cy="114" r="2.4" fill="#fff" stroke="#262626" stroke-width="1.5"/><polyline points="39.43,106 51.15,112.8 62.88,115.2 74.6,110.1 86.32,101.1 98.04,83.5 109.76,72.1 121.48,62.1 133.2,55.8 144.92,58.8 156.65,67.7 168.37,97.2" fill="none" stroke="#d6006c" stroke-width="1.6" stroke-linejoin="round"/><circle cx="39.43" cy="106" r="1.5" fill="#fff" stroke="#d6006c" stroke-width="1.0"/><circle cx="51.15" cy="112.8" r="1.5" fill="#fff" stroke="#d6006c" stroke-width="1.0"/><circle cx="62.88" cy="115.2" r="1.5" fill="#fff" stroke="#d6006c" stroke-width="1.0"/><circle cx="74.6" cy="110.1" r="1.5" fill="#fff" stroke="#d6006c" stroke-width="1.0"/><circle cx="86.32" cy="101.1" r="1.5" fill="#fff" stroke="#d6006c" stroke-width="1.0"/><circle cx="98.04" cy="83.5" r="1.5" fill="#fff" stroke="#d6006c" stroke-width="1.0"/><circle cx="109.76" cy="72.1" r="1.5" fill="#fff" stroke="#d6006c" stroke-width="1.0"/><circle cx="121.48" cy="62.1" r="1.5" fill="#fff" stroke="#d6006c" stroke-width="1.0"/><circle cx="133.2" cy="55.8" r="1.5" fill="#fff" stroke="#d6006c" stroke-width="1.0"/><circle cx="144.92" cy="58.8" r="1.5" fill="#fff" stroke="#d6006c" stroke-width="1.0"/><circle cx="156.65" cy="67.7" r="1.5" fill="#fff" stroke="#d6006c" stroke-width="1.0"/><circle cx="168.37" cy="97.2" r="1.5" fill="#fff" stroke="#d6006c" stroke-width="1.0"/><text transform="translate(-0.2,7.7)" font-size="10.9" font-weight="bold" fill="#000" stroke="#000" stroke-width="0.15">C</text><text transform="translate(103.9,10.9) scale(1,1.12)" text-anchor="middle" font-size="8.0" font-weight="bold" fill="#111" stroke="#111" stroke-width="0.15">Continental: Italy</text><text transform="translate(103.9,147.1)" text-anchor="middle" font-size="8" fill="#1a1a1a" stroke="#1a1a1a" stroke-width="0.15">month of the year</text><text transform="translate(7.4,70.6) rotate(-90)" text-anchor="middle" font-size="8" fill="#1a1a1a" stroke="#1a1a1a" stroke-width="0.15">suitability</text><text transform="translate(198,70.6) rotate(90)" text-anchor="middle" font-size="8" fill="#d6006c" stroke="#d6006c" stroke-width="0.15">proportion suitable land</text></g><g transform="translate(0,158.7)"><rect x="238.23" y="14.2" width="5.1" height="35.28" fill="#f2eef5"/><rect x="238.23" y="20.34" width="5.1" height="25.31" fill="#ecd6f2"/><rect x="238.23" y="25.7" width="5.1" height="16.1" fill="#e4bde9"/><rect x="238.23" y="29.54" width="5.1" height="8.44" fill="#d9a3dd"/><rect x="246.68" y="20.34" width="5.1" height="29.14" fill="#f2eef5"/><rect x="246.68" y="23.4" width="5.1" height="24.54" fill="#ecd6f2"/><rect x="246.68" y="29.54" width="5.1" height="15.34" fill="#e4bde9"/><rect x="246.68" y="35.67" width="5.1" height="6.13" fill="#d9a3dd"/><rect x="255.14" y="32.61" width="5.1" height="16.87" fill="#f2eef5"/><rect x="255.14" y="35.67" width="5.1" height="12.27" fill="#ecd6f2"/><rect x="255.14" y="38.74" width="5.1" height="6.9" fill="#e4bde9"/><rect x="263.6" y="29.54" width="5.1" height="19.94" fill="#f2eef5"/><rect x="263.6" y="34.14" width="5.1" height="13.8" fill="#ecd6f2"/><rect x="263.6" y="37.97" width="5.1" height="7.67" fill="#e4bde9"/><rect x="272.06" y="24.17" width="5.1" height="25.31" fill="#f2eef5"/><rect x="272.06" y="28.01" width="5.1" height="19.17" fill="#ecd6f2"/><rect x="272.06" y="31.84" width="5.1" height="12.27" fill="#e4bde9"/><rect x="272.06" y="34.14" width="5.1" height="7.67" fill="#d9a3dd"/><rect x="280.52" y="16.5" width="5.1" height="32.98" fill="#f2eef5"/><rect x="280.52" y="22.64" width="5.1" height="24.54" fill="#ecd6f2"/><rect x="280.52" y="28.77" width="5.1" height="15.34" fill="#e4bde9"/><rect x="280.52" y="31.84" width="5.1" height="9.2" fill="#d9a3dd"/><rect x="288.98" y="12.67" width="5.1" height="36.81" fill="#f2eef5"/><rect x="288.98" y="17.27" width="5.1" height="29.14" fill="#ecd6f2"/><rect x="288.98" y="21.87" width="5.1" height="19.94" fill="#e4bde9"/><rect x="288.98" y="26.47" width="5.1" height="11.5" fill="#d9a3dd"/><rect x="297.44" y="11.9" width="5.1" height="37.58" fill="#f2eef5"/><rect x="297.44" y="15.74" width="5.1" height="29.14" fill="#ecd6f2"/><rect x="297.44" y="19.57" width="5.1" height="20.71" fill="#e4bde9"/><rect x="297.44" y="24.17" width="5.1" height="12.27" fill="#d9a3dd"/><rect x="305.9" y="11.9" width="5.1" height="37.58" fill="#f2eef5"/><rect x="305.9" y="14.2" width="5.1" height="29.91" fill="#ecd6f2"/><rect x="305.9" y="18.04" width="5.1" height="20.71" fill="#e4bde9"/><rect x="305.9" y="21.87" width="5.1" height="11.5" fill="#d9a3dd"/><rect x="314.36" y="11.9" width="5.1" height="37.58" fill="#f2eef5"/><rect x="314.36" y="14.2" width="5.1" height="28.37" fill="#ecd6f2"/><rect x="314.36" y="16.5" width="5.1" height="19.17" fill="#e4bde9"/><rect x="314.36" y="19.57" width="5.1" height="8.44" fill="#d9a3dd"/><rect x="322.82" y="11.9" width="5.1" height="37.58" fill="#f2eef5"/><rect x="322.82" y="14.2" width="5.1" height="28.37" fill="#ecd6f2"/><rect x="322.82" y="16.5" width="5.1" height="21.47" fill="#e4bde9"/><rect x="322.82" y="19.57" width="5.1" height="14.57" fill="#d9a3dd"/><rect x="331.27" y="14.2" width="5.1" height="35.28" fill="#f2eef5"/><rect x="331.27" y="17.27" width="5.1" height="28.37" fill="#ecd6f2"/><rect x="331.27" y="21.1" width="5.1" height="19.94" fill="#e4bde9"/><rect x="331.27" y="24.17" width="5.1" height="13.8" fill="#d9a3dd"/><line x1="235.7" y1="9.6" x2="235.7" y2="53.6" stroke="#1a1a1a" stroke-width="1.05"/><line x1="235.2" y1="53.6" x2="338.9" y2="53.6" stroke="#1a1a1a" stroke-width="1.05"/><line x1="232.89999999999998" y1="51.6" x2="235.7" y2="51.6" stroke="#222" stroke-width="0.9"/><text transform="translate(231,53.85) scale(1,1.05)" text-anchor="end" font-size="5.8" fill="#1a1a1a" stroke="#1a1a1a" stroke-width="0.07">0.5</text><line x1="232.89999999999998" y1="43.6" x2="235.7" y2="43.6" stroke="#222" stroke-width="0.9"/><text transform="translate(231,45.85) scale(1,1.05)" text-anchor="end" font-size="5.8" fill="#1a1a1a" stroke="#1a1a1a" stroke-width="0.07">0.6</text><line x1="232.89999999999998" y1="35.6" x2="235.7" y2="35.6" stroke="#222" stroke-width="0.9"/><text transform="translate(231,37.85) scale(1,1.05)" text-anchor="end" font-size="5.8" fill="#1a1a1a" stroke="#1a1a1a" stroke-width="0.07">0.7</text><line x1="232.89999999999998" y1="27.6" x2="235.7" y2="27.6" stroke="#222" stroke-width="0.9"/><text transform="translate(231,29.85) scale(1,1.05)" text-anchor="end" font-size="5.8" fill="#1a1a1a" stroke="#1a1a1a" stroke-width="0.07">0.8</text><line x1="232.89999999999998" y1="19.6" x2="235.7" y2="19.6" stroke="#222" stroke-width="0.9"/><text transform="translate(231,21.85) scale(1,1.05)" text-anchor="end" font-size="5.8" fill="#1a1a1a" stroke="#1a1a1a" stroke-width="0.07">0.9</text><line x1="232.89999999999998" y1="11.6" x2="235.7" y2="11.6" stroke="#222" stroke-width="0.9"/><text transform="translate(231,13.85) scale(1,1.05)" text-anchor="end" font-size="5.8" fill="#1a1a1a" stroke="#1a1a1a" stroke-width="0.07">1.0</text><line x1="240.78" y1="53.6" x2="240.78" y2="56.4" stroke="#222" stroke-width="0.9"/><text transform="translate(240.78,62.9) scale(1,1.05)" text-anchor="middle" font-size="5.8" fill="#1a1a1a" stroke="#1a1a1a" stroke-width="0.07">1</text><line x1="249.23" y1="53.6" x2="249.23" y2="56.4" stroke="#222" stroke-width="0.9"/><text transform="translate(249.23,62.9) scale(1,1.05)" text-anchor="middle" font-size="5.8" fill="#1a1a1a" stroke="#1a1a1a" stroke-width="0.07">2</text><line x1="257.69" y1="53.6" x2="257.69" y2="56.4" stroke="#222" stroke-width="0.9"/><text transform="translate(257.69,62.9) scale(1,1.05)" text-anchor="middle" font-size="5.8" fill="#1a1a1a" stroke="#1a1a1a" stroke-width="0.07">3</text><line x1="266.15" y1="53.6" x2="266.15" y2="56.4" stroke="#222" stroke-width="0.9"/><text transform="translate(266.15,62.9) scale(1,1.05)" text-anchor="middle" font-size="5.8" fill="#1a1a1a" stroke="#1a1a1a" stroke-width="0.07">4</text><line x1="274.61" y1="53.6" x2="274.61" y2="56.4" stroke="#222" stroke-width="0.9"/><text transform="translate(274.61,62.9) scale(1,1.05)" text-anchor="middle" font-size="5.8" fill="#1a1a1a" stroke="#1a1a1a" stroke-width="0.07">5</text><line x1="283.07" y1="53.6" x2="283.07" y2="56.4" stroke="#222" stroke-width="0.9"/><text transform="translate(283.07,62.9) scale(1,1.05)" text-anchor="middle" font-size="5.8" fill="#1a1a1a" stroke="#1a1a1a" stroke-width="0.07">6</text><line x1="291.53" y1="53.6" x2="291.53" y2="56.4" stroke="#222" stroke-width="0.9"/><text transform="translate(291.53,62.9) scale(1,1.05)" text-anchor="middle" font-size="5.8" fill="#1a1a1a" stroke="#1a1a1a" stroke-width="0.07">7</text><line x1="299.99" y1="53.6" x2="299.99" y2="56.4" stroke="#222" stroke-width="0.9"/><text transform="translate(299.99,62.9) scale(1,1.05)" text-anchor="middle" font-size="5.8" fill="#1a1a1a" stroke="#1a1a1a" stroke-width="0.07">8</text><line x1="308.45" y1="53.6" x2="308.45" y2="56.4" stroke="#222" stroke-width="0.9"/><text transform="translate(308.45,62.9) scale(1,1.05)" text-anchor="middle" font-size="5.8" fill="#1a1a1a" stroke="#1a1a1a" stroke-width="0.07">9</text><line x1="316.91" y1="53.6" x2="316.91" y2="56.4" stroke="#222" stroke-width="0.9"/><text transform="translate(316.91,62.9) scale(1,1.05)" text-anchor="middle" font-size="5.8" fill="#1a1a1a" stroke="#1a1a1a" stroke-width="0.07">10</text><line x1="325.37" y1="53.6" x2="325.37" y2="56.4" stroke="#222" stroke-width="0.9"/><text transform="translate(325.37,62.9) scale(1,1.05)" text-anchor="middle" font-size="5.8" fill="#1a1a1a" stroke="#1a1a1a" stroke-width="0.07">11</text><line x1="333.82" y1="53.6" x2="333.82" y2="56.4" stroke="#222" stroke-width="0.9"/><text transform="translate(333.82,62.9) scale(1,1.05)" text-anchor="middle" font-size="5.8" fill="#1a1a1a" stroke="#1a1a1a" stroke-width="0.07">12</text><polyline points="240.78,33.37 249.23,38.43 257.69,43.5 266.15,41.81 274.61,36.13 283.07,34.91 291.53,29.54 299.99,28.31 308.45,26.01 316.91,22.18 325.37,22.33 333.82,30.31" fill="none" stroke="#d6006c" stroke-width="2.3" stroke-linejoin="round"/><circle cx="240.78" cy="33.37" r="1.6" fill="#fff" stroke="#d6006c" stroke-width="1.1"/><circle cx="249.23" cy="38.43" r="1.6" fill="#fff" stroke="#d6006c" stroke-width="1.1"/><circle cx="257.69" cy="43.5" r="1.6" fill="#fff" stroke="#d6006c" stroke-width="1.1"/><circle cx="266.15" cy="41.81" r="1.6" fill="#fff" stroke="#d6006c" stroke-width="1.1"/><circle cx="274.61" cy="36.13" r="1.6" fill="#fff" stroke="#d6006c" stroke-width="1.1"/><circle cx="283.07" cy="34.91" r="1.6" fill="#fff" stroke="#d6006c" stroke-width="1.1"/><circle cx="291.53" cy="29.54" r="1.6" fill="#fff" stroke="#d6006c" stroke-width="1.1"/><circle cx="299.99" cy="28.31" r="1.6" fill="#fff" stroke="#d6006c" stroke-width="1.1"/><circle cx="308.45" cy="26.01" r="1.6" fill="#fff" stroke="#d6006c" stroke-width="1.1"/><circle cx="316.91" cy="22.18" r="1.6" fill="#fff" stroke="#d6006c" stroke-width="1.1"/><circle cx="325.37" cy="22.33" r="1.6" fill="#fff" stroke="#d6006c" stroke-width="1.1"/><circle cx="333.82" cy="30.31" r="1.6" fill="#fff" stroke="#d6006c" stroke-width="1.1"/><text transform="translate(217.9,7.8)" font-size="10.9" font-weight="bold" fill="#000" stroke="#000" stroke-width="0.15">c1</text><text transform="translate(287.3,5.6) scale(1,1.12)" text-anchor="middle" font-size="6.3" font-weight="bold" fill="#111" stroke="#111" stroke-width="0.07">suitable land</text><text transform="translate(287.3,71.9)" text-anchor="middle" font-size="6.3" fill="#1a1a1a" stroke="#1a1a1a" stroke-width="0.07">month of the year</text><text transform="translate(218.3,31.6) rotate(-90)" text-anchor="middle" font-size="6.3" fill="#1a1a1a" stroke="#1a1a1a" stroke-width="0.07">suitability</text></g><g transform="translate(0,238)"><rect x="238.23" y="34.61" width="5.1" height="16.99" fill="#f6f6f8"/><rect x="238.23" y="47.18" width="5.1" height="4.42" fill="#d9e7fa"/><rect x="246.68" y="41.05" width="5.1" height="10.55" fill="#f6f6f8"/><rect x="255.14" y="41.51" width="5.1" height="10.09" fill="#f6f6f8"/><rect x="263.6" y="30.77" width="5.1" height="20.83" fill="#f6f6f8"/><rect x="263.6" y="44.58" width="5.1" height="7.02" fill="#d9e7fa"/><rect x="272.06" y="34.61" width="5.1" height="16.99" fill="#f6f6f8"/><rect x="272.06" y="44.12" width="5.1" height="7.48" fill="#d9e7fa"/><rect x="280.52" y="20.5" width="5.1" height="31.1" fill="#f6f6f8"/><rect x="280.52" y="37.67" width="5.1" height="13.93" fill="#d9e7fa"/><rect x="280.52" y="44.58" width="5.1" height="7.02" fill="#bbd4f5"/><rect x="288.98" y="16.2" width="5.1" height="35.4" fill="#f6f6f8"/><rect x="288.98" y="30.77" width="5.1" height="20.83" fill="#d9e7fa"/><rect x="288.98" y="39.98" width="5.1" height="11.62" fill="#bbd4f5"/><rect x="288.98" y="45.34" width="5.1" height="6.26" fill="#9dc0ef"/><rect x="297.44" y="13.9" width="5.1" height="37.27" fill="#f6f6f8"/><rect x="297.44" y="26.17" width="5.1" height="25" fill="#d9e7fa"/><rect x="297.44" y="35.07" width="5.1" height="14.88" fill="#bbd4f5"/><rect x="297.44" y="39.98" width="5.1" height="8.44" fill="#9dc0ef"/><rect x="305.9" y="13.9" width="5.1" height="37.27" fill="#f6f6f8"/><rect x="305.9" y="23.87" width="5.1" height="27.3" fill="#d9e7fa"/><rect x="305.9" y="32.77" width="5.1" height="17.18" fill="#bbd4f5"/><rect x="305.9" y="37.67" width="5.1" height="10.74" fill="#9dc0ef"/><rect x="314.36" y="14.67" width="5.1" height="36.5" fill="#f6f6f8"/><rect x="314.36" y="26.17" width="5.1" height="25" fill="#d9e7fa"/><rect x="314.36" y="33.07" width="5.1" height="16.87" fill="#bbd4f5"/><rect x="314.36" y="39.21" width="5.1" height="9.2" fill="#9dc0ef"/><rect x="322.82" y="16.2" width="5.1" height="34.97" fill="#f6f6f8"/><rect x="322.82" y="30.01" width="5.1" height="21.17" fill="#d9e7fa"/><rect x="322.82" y="39.98" width="5.1" height="9.97" fill="#bbd4f5"/><rect x="331.27" y="22.34" width="5.1" height="29.26" fill="#f6f6f8"/><rect x="331.27" y="38.9" width="5.1" height="12.7" fill="#d9e7fa"/><rect x="331.27" y="45.34" width="5.1" height="6.26" fill="#bbd4f5"/><line x1="235.7" y1="9.6" x2="235.7" y2="53.6" stroke="#1a1a1a" stroke-width="1.05"/><line x1="235.2" y1="53.6" x2="338.9" y2="53.6" stroke="#1a1a1a" stroke-width="1.05"/><line x1="232.89999999999998" y1="51.6" x2="235.7" y2="51.6" stroke="#222" stroke-width="0.9"/><text transform="translate(231,53.85) scale(1,1.05)" text-anchor="end" font-size="5.8" fill="#1a1a1a" stroke="#1a1a1a" stroke-width="0.07">0.0</text><line x1="232.89999999999998" y1="43.6" x2="235.7" y2="43.6" stroke="#222" stroke-width="0.9"/><text transform="translate(231,45.85) scale(1,1.05)" text-anchor="end" font-size="5.8" fill="#1a1a1a" stroke="#1a1a1a" stroke-width="0.07">0.1</text><line x1="232.89999999999998" y1="35.6" x2="235.7" y2="35.6" stroke="#222" stroke-width="0.9"/><text transform="translate(231,37.85) scale(1,1.05)" text-anchor="end" font-size="5.8" fill="#1a1a1a" stroke="#1a1a1a" stroke-width="0.07">0.2</text><line x1="232.89999999999998" y1="27.6" x2="235.7" y2="27.6" stroke="#222" stroke-width="0.9"/><text transform="translate(231,29.85) scale(1,1.05)" text-anchor="end" font-size="5.8" fill="#1a1a1a" stroke="#1a1a1a" stroke-width="0.07">0.3</text><line x1="232.89999999999998" y1="19.6" x2="235.7" y2="19.6" stroke="#222" stroke-width="0.9"/><text transform="translate(231,21.85) scale(1,1.05)" text-anchor="end" font-size="5.8" fill="#1a1a1a" stroke="#1a1a1a" stroke-width="0.07">0.4</text><line x1="232.89999999999998" y1="11.6" x2="235.7" y2="11.6" stroke="#222" stroke-width="0.9"/><text transform="translate(231,13.85) scale(1,1.05)" text-anchor="end" font-size="5.8" fill="#1a1a1a" stroke="#1a1a1a" stroke-width="0.07">0.5</text><line x1="240.78" y1="53.6" x2="240.78" y2="56.4" stroke="#222" stroke-width="0.9"/><text transform="translate(240.78,62.9) scale(1,1.05)" text-anchor="middle" font-size="5.8" fill="#1a1a1a" stroke="#1a1a1a" stroke-width="0.07">1</text><line x1="249.23" y1="53.6" x2="249.23" y2="56.4" stroke="#222" stroke-width="0.9"/><text transform="translate(249.23,62.9) scale(1,1.05)" text-anchor="middle" font-size="5.8" fill="#1a1a1a" stroke="#1a1a1a" stroke-width="0.07">2</text><line x1="257.69" y1="53.6" x2="257.69" y2="56.4" stroke="#222" stroke-width="0.9"/><text transform="translate(257.69,62.9) scale(1,1.05)" text-anchor="middle" font-size="5.8" fill="#1a1a1a" stroke="#1a1a1a" stroke-width="0.07">3</text><line x1="266.15" y1="53.6" x2="266.15" y2="56.4" stroke="#222" stroke-width="0.9"/><text transform="translate(266.15,62.9) scale(1,1.05)" text-anchor="middle" font-size="5.8" fill="#1a1a1a" stroke="#1a1a1a" stroke-width="0.07">4</text><line x1="274.61" y1="53.6" x2="274.61" y2="56.4" stroke="#222" stroke-width="0.9"/><text transform="translate(274.61,62.9) scale(1,1.05)" text-anchor="middle" font-size="5.8" fill="#1a1a1a" stroke="#1a1a1a" stroke-width="0.07">5</text><line x1="283.07" y1="53.6" x2="283.07" y2="56.4" stroke="#222" stroke-width="0.9"/><text transform="translate(283.07,62.9) scale(1,1.05)" text-anchor="middle" font-size="5.8" fill="#1a1a1a" stroke="#1a1a1a" stroke-width="0.07">6</text><line x1="291.53" y1="53.6" x2="291.53" y2="56.4" stroke="#222" stroke-width="0.9"/><text transform="translate(291.53,62.9) scale(1,1.05)" text-anchor="middle" font-size="5.8" fill="#1a1a1a" stroke="#1a1a1a" stroke-width="0.07">7</text><line x1="299.99" y1="53.6" x2="299.99" y2="56.4" stroke="#222" stroke-width="0.9"/><text transform="translate(299.99,62.9) scale(1,1.05)" text-anchor="middle" font-size="5.8" fill="#1a1a1a" stroke="#1a1a1a" stroke-width="0.07">8</text><line x1="308.45" y1="53.6" x2="308.45" y2="56.4" stroke="#222" stroke-width="0.9"/><text transform="translate(308.45,62.9) scale(1,1.05)" text-anchor="middle" font-size="5.8" fill="#1a1a1a" stroke="#1a1a1a" stroke-width="0.07">9</text><line x1="316.91" y1="53.6" x2="316.91" y2="56.4" stroke="#222" stroke-width="0.9"/><text transform="translate(316.91,62.9) scale(1,1.05)" text-anchor="middle" font-size="5.8" fill="#1a1a1a" stroke="#1a1a1a" stroke-width="0.07">10</text><line x1="325.37" y1="53.6" x2="325.37" y2="56.4" stroke="#222" stroke-width="0.9"/><text transform="translate(325.37,62.9) scale(1,1.05)" text-anchor="middle" font-size="5.8" fill="#1a1a1a" stroke="#1a1a1a" stroke-width="0.07">11</text><line x1="333.82" y1="53.6" x2="333.82" y2="56.4" stroke="#222" stroke-width="0.9"/><text transform="translate(333.82,62.9) scale(1,1.05)" text-anchor="middle" font-size="5.8" fill="#1a1a1a" stroke="#1a1a1a" stroke-width="0.07">12</text><polyline points="240.78,51.33 249.23,51.33 257.69,51.33 266.15,51.33 274.61,51.33 283.07,51.33 291.53,48.72 299.99,44.73 308.45,43.5 316.91,43.5 325.37,49.18 333.82,51.02" fill="none" stroke="#1c58a8" stroke-width="2.3" stroke-linejoin="round"/><circle cx="240.78" cy="51.33" r="1.6" fill="#fff" stroke="#1c58a8" stroke-width="1.1"/><circle cx="249.23" cy="51.33" r="1.6" fill="#fff" stroke="#1c58a8" stroke-width="1.1"/><circle cx="257.69" cy="51.33" r="1.6" fill="#fff" stroke="#1c58a8" stroke-width="1.1"/><circle cx="266.15" cy="51.33" r="1.6" fill="#fff" stroke="#1c58a8" stroke-width="1.1"/><circle cx="274.61" cy="51.33" r="1.6" fill="#fff" stroke="#1c58a8" stroke-width="1.1"/><circle cx="283.07" cy="51.33" r="1.6" fill="#fff" stroke="#1c58a8" stroke-width="1.1"/><circle cx="291.53" cy="48.72" r="1.6" fill="#fff" stroke="#1c58a8" stroke-width="1.1"/><circle cx="299.99" cy="44.73" r="1.6" fill="#fff" stroke="#1c58a8" stroke-width="1.1"/><circle cx="308.45" cy="43.5" r="1.6" fill="#fff" stroke="#1c58a8" stroke-width="1.1"/><circle cx="316.91" cy="43.5" r="1.6" fill="#fff" stroke="#1c58a8" stroke-width="1.1"/><circle cx="325.37" cy="49.18" r="1.6" fill="#fff" stroke="#1c58a8" stroke-width="1.1"/><circle cx="333.82" cy="51.02" r="1.6" fill="#fff" stroke="#1c58a8" stroke-width="1.1"/><text transform="translate(217.9,7.8)" font-size="10.9" font-weight="bold" fill="#000" stroke="#000" stroke-width="0.15">c2</text><text transform="translate(287.3,5.6) scale(1,1.12)" text-anchor="middle" font-size="6.3" font-weight="bold" fill="#111" stroke="#111" stroke-width="0.07">unsuitable land</text><text transform="translate(287.3,71.9)" text-anchor="middle" font-size="6.3" fill="#1a1a1a" stroke="#1a1a1a" stroke-width="0.07">month of the year</text><text transform="translate(218.3,31.6) rotate(-90)" text-anchor="middle" font-size="6.3" fill="#1a1a1a" stroke="#1a1a1a" stroke-width="0.07">suitability</text></g><g transform="translate(345.45,158.7)"><rect x="35.23" y="35.2" width="8.4" height="76.9" fill="#ececec"/><rect x="35.23" y="45.1" width="8.4" height="61.9" fill="#d8d8d8"/><rect x="35.23" y="61.1" width="8.4" height="37.2" fill="#c0c0c0"/><rect x="35.23" y="73.2" width="8.4" height="16" fill="#a2a2a2"/><rect x="46.95" y="37" width="8.4" height="83.1" fill="#ececec"/><rect x="46.95" y="51.5" width="8.4" height="56.4" fill="#d8d8d8"/><rect x="46.95" y="73.8" width="8.4" height="23.4" fill="#c0c0c0"/><rect x="46.95" y="81.2" width="8.4" height="9.6" fill="#a2a2a2"/><rect x="58.68" y="58.3" width="8.4" height="61.3" fill="#ececec"/><rect x="58.68" y="76.4" width="8.4" height="40.5" fill="#d8d8d8"/><rect x="58.68" y="82.3" width="8.4" height="28.8" fill="#c0c0c0"/><rect x="58.68" y="86.6" width="8.4" height="12.7" fill="#a2a2a2"/><rect x="70.4" y="70.8" width="8.4" height="49.3" fill="#ececec"/><rect x="70.4" y="83.4" width="8.4" height="36.7" fill="#d8d8d8"/><rect x="70.4" y="89.2" width="8.4" height="25.1" fill="#c0c0c0"/><rect x="70.4" y="95.1" width="8.4" height="16" fill="#a2a2a2"/><rect x="82.12" y="82.3" width="8.4" height="37.8" fill="#ececec"/><rect x="82.12" y="89.8" width="8.4" height="28.2" fill="#d8d8d8"/><rect x="82.12" y="94" width="8.4" height="22.5" fill="#c0c0c0"/><rect x="82.12" y="101.5" width="8.4" height="13.3" fill="#a2a2a2"/><rect x="93.84" y="73.2" width="8.4" height="46.9" fill="#ececec"/><rect x="93.84" y="84.4" width="8.4" height="33.6" fill="#d8d8d8"/><rect x="93.84" y="91.4" width="8.4" height="25.1" fill="#c0c0c0"/><rect x="93.84" y="98.3" width="8.4" height="15.4" fill="#a2a2a2"/><rect x="105.56" y="59.4" width="8.4" height="60.7" fill="#ececec"/><rect x="105.56" y="72.4" width="8.4" height="47.7" fill="#d8d8d8"/><rect x="105.56" y="79.6" width="8.4" height="33.3" fill="#c0c0c0"/><rect x="105.56" y="85.7" width="8.4" height="20" fill="#a2a2a2"/><rect x="117.28" y="37.2" width="8.4" height="82.9" fill="#ececec"/><rect x="117.28" y="59.1" width="8.4" height="57.7" fill="#d8d8d8"/><rect x="117.28" y="68.2" width="8.4" height="36.4" fill="#c0c0c0"/><rect x="117.28" y="70" width="8.4" height="22.9" fill="#a2a2a2"/><rect x="129" y="26.4" width="8.4" height="71.5" fill="#ececec"/><rect x="129" y="41.6" width="8.4" height="45.2" fill="#d8d8d8"/><rect x="129" y="56" width="8.4" height="24.7" fill="#c0c0c0"/><rect x="129" y="67.7" width="8.4" height="10.3" fill="#a2a2a2"/><rect x="140.72" y="29.4" width="8.4" height="67.4" fill="#ececec"/><rect x="140.72" y="41.3" width="8.4" height="43.9" fill="#d8d8d8"/><rect x="140.72" y="48.6" width="8.4" height="31" fill="#c0c0c0"/><rect x="140.72" y="59.1" width="8.4" height="16.9" fill="#a2a2a2"/><rect x="152.45" y="32.4" width="8.4" height="69.4" fill="#ececec"/><rect x="152.45" y="42.4" width="8.4" height="47.8" fill="#d8d8d8"/><rect x="152.45" y="50.5" width="8.4" height="32.4" fill="#c0c0c0"/><rect x="152.45" y="63.5" width="8.4" height="14.5" fill="#a2a2a2"/><rect x="164.17" y="28.3" width="8.4" height="73.5" fill="#ececec"/><rect x="164.17" y="41.3" width="8.4" height="48.3" fill="#d8d8d8"/><rect x="164.17" y="51" width="8.4" height="31.9" fill="#c0c0c0"/><rect x="164.17" y="64.4" width="8.4" height="13.6" fill="#a2a2a2"/><line x1="32.4" y1="14.5" x2="32.4" y2="125.6" stroke="#222" stroke-width="1.1"/><line x1="31.9" y1="125.6" x2="175.4" y2="125.6" stroke="#222" stroke-width="1.1"/><line x1="175.4" y1="14.5" x2="175.4" y2="126.1" stroke="#d6006c" stroke-width="1.1"/><line x1="29.7" y1="120.6" x2="32.4" y2="120.6" stroke="#333" stroke-width="1"/><text transform="translate(27.2,123.65) scale(1,1.12)" text-anchor="end" font-size="7.7" fill="#1a1a1a" stroke="#1a1a1a" stroke-width="0.15">0.00</text><line x1="29.7" y1="88.69" x2="32.4" y2="88.69" stroke="#333" stroke-width="1"/><text transform="translate(27.2,91.74) scale(1,1.12)" text-anchor="end" font-size="7.7" fill="#1a1a1a" stroke="#1a1a1a" stroke-width="0.15">0.10</text><line x1="29.7" y1="70.15" x2="32.4" y2="70.15" stroke="#333" stroke-width="1"/><text transform="translate(27.2,73.2) scale(1,1.12)" text-anchor="end" font-size="7.7" fill="#1a1a1a" stroke="#1a1a1a" stroke-width="0.15">0.25</text><line x1="29.7" y1="49.25" x2="32.4" y2="49.25" stroke="#333" stroke-width="1"/><text transform="translate(27.2,52.3) scale(1,1.12)" text-anchor="end" font-size="7.7" fill="#1a1a1a" stroke="#1a1a1a" stroke-width="0.15">0.50</text><line x1="29.7" y1="33.22" x2="32.4" y2="33.22" stroke="#333" stroke-width="1"/><text transform="translate(27.2,36.27) scale(1,1.12)" text-anchor="end" font-size="7.7" fill="#1a1a1a" stroke="#1a1a1a" stroke-width="0.15">0.75</text><line x1="29.7" y1="24.88" x2="32.4" y2="24.88" stroke="#333" stroke-width="1"/><text transform="translate(27.2,27.93) scale(1,1.12)" text-anchor="end" font-size="7.7" fill="#1a1a1a" stroke="#1a1a1a" stroke-width="0.15">0.90</text><line x1="29.7" y1="19.7" x2="32.4" y2="19.7" stroke="#333" stroke-width="1"/><text transform="translate(27.2,22.75) scale(1,1.12)" text-anchor="end" font-size="7.7" fill="#1a1a1a" stroke="#1a1a1a" stroke-width="0.15">1.00</text><line x1="175.4" y1="88.69" x2="178.1" y2="88.69" stroke="#d6006c" stroke-width="1"/><text transform="translate(180.4,91.74) scale(1,1.12)" font-size="7.7" fill="#d6006c" stroke="#d6006c" stroke-width="0.15">0.10</text><line x1="175.4" y1="70.15" x2="178.1" y2="70.15" stroke="#d6006c" stroke-width="1"/><text transform="translate(180.4,73.2) scale(1,1.12)" font-size="7.7" fill="#d6006c" stroke="#d6006c" stroke-width="0.15">0.25</text><line x1="175.4" y1="49.25" x2="178.1" y2="49.25" stroke="#d6006c" stroke-width="1"/><text transform="translate(180.4,52.3) scale(1,1.12)" font-size="7.7" fill="#d6006c" stroke="#d6006c" stroke-width="0.15">0.50</text><line x1="175.4" y1="33.22" x2="178.1" y2="33.22" stroke="#d6006c" stroke-width="1"/><text transform="translate(180.4,36.27) scale(1,1.12)" font-size="7.7" fill="#d6006c" stroke="#d6006c" stroke-width="0.15">0.75</text><line x1="175.4" y1="24.88" x2="178.1" y2="24.88" stroke="#d6006c" stroke-width="1"/><text transform="translate(180.4,27.93) scale(1,1.12)" font-size="7.7" fill="#d6006c" stroke="#d6006c" stroke-width="0.15">0.90</text><line x1="175.4" y1="19.7" x2="178.1" y2="19.7" stroke="#d6006c" stroke-width="1"/><text transform="translate(180.4,22.75) scale(1,1.12)" font-size="7.7" fill="#d6006c" stroke="#d6006c" stroke-width="0.15">1.00</text><line x1="39.43" y1="125.6" x2="39.43" y2="128.6" stroke="#333" stroke-width="1"/><text transform="translate(39.43,136.8) scale(1,1.12)" text-anchor="middle" font-size="7.7" fill="#1a1a1a" stroke="#1a1a1a" stroke-width="0.15">1</text><line x1="51.15" y1="125.6" x2="51.15" y2="128.6" stroke="#333" stroke-width="1"/><text transform="translate(51.15,136.8) scale(1,1.12)" text-anchor="middle" font-size="7.7" fill="#1a1a1a" stroke="#1a1a1a" stroke-width="0.15">2</text><line x1="62.88" y1="125.6" x2="62.88" y2="128.6" stroke="#333" stroke-width="1"/><text transform="translate(62.88,136.8) scale(1,1.12)" text-anchor="middle" font-size="7.7" fill="#1a1a1a" stroke="#1a1a1a" stroke-width="0.15">3</text><line x1="74.6" y1="125.6" x2="74.6" y2="128.6" stroke="#333" stroke-width="1"/><text transform="translate(74.6,136.8) scale(1,1.12)" text-anchor="middle" font-size="7.7" fill="#1a1a1a" stroke="#1a1a1a" stroke-width="0.15">4</text><line x1="86.32" y1="125.6" x2="86.32" y2="128.6" stroke="#333" stroke-width="1"/><text transform="translate(86.32,136.8) scale(1,1.12)" text-anchor="middle" font-size="7.7" fill="#1a1a1a" stroke="#1a1a1a" stroke-width="0.15">5</text><line x1="98.04" y1="125.6" x2="98.04" y2="128.6" stroke="#333" stroke-width="1"/><text transform="translate(98.04,136.8) scale(1,1.12)" text-anchor="middle" font-size="7.7" fill="#1a1a1a" stroke="#1a1a1a" stroke-width="0.15">6</text><line x1="109.76" y1="125.6" x2="109.76" y2="128.6" stroke="#333" stroke-width="1"/><text transform="translate(109.76,136.8) scale(1,1.12)" text-anchor="middle" font-size="7.7" fill="#1a1a1a" stroke="#1a1a1a" stroke-width="0.15">7</text><line x1="121.48" y1="125.6" x2="121.48" y2="128.6" stroke="#333" stroke-width="1"/><text transform="translate(121.48,136.8) scale(1,1.12)" text-anchor="middle" font-size="7.7" fill="#1a1a1a" stroke="#1a1a1a" stroke-width="0.15">8</text><line x1="133.2" y1="125.6" x2="133.2" y2="128.6" stroke="#333" stroke-width="1"/><text transform="translate(133.2,136.8) scale(1,1.12)" text-anchor="middle" font-size="7.7" fill="#1a1a1a" stroke="#1a1a1a" stroke-width="0.15">9</text><line x1="144.92" y1="125.6" x2="144.92" y2="128.6" stroke="#333" stroke-width="1"/><text transform="translate(144.92,136.8) scale(1,1.12)" text-anchor="middle" font-size="7.7" fill="#1a1a1a" stroke="#1a1a1a" stroke-width="0.15">10</text><line x1="156.65" y1="125.6" x2="156.65" y2="128.6" stroke="#333" stroke-width="1"/><text transform="translate(156.65,136.8) scale(1,1.12)" text-anchor="middle" font-size="7.7" fill="#1a1a1a" stroke="#1a1a1a" stroke-width="0.15">11</text><line x1="168.37" y1="125.6" x2="168.37" y2="128.6" stroke="#333" stroke-width="1"/><text transform="translate(168.37,136.8) scale(1,1.12)" text-anchor="middle" font-size="7.7" fill="#1a1a1a" stroke="#1a1a1a" stroke-width="0.15">12</text><polyline points="39.43,78.6 51.15,83.9 62.88,92.1 74.6,102.5 86.32,109.8 98.04,109.2 109.76,93.2 121.48,80.5 133.2,72.4 144.92,70.2 156.65,72.1 168.37,72.1" fill="none" stroke="#262626" stroke-width="2.9" stroke-linejoin="round"/><circle cx="39.43" cy="78.6" r="2.4" fill="#fff" stroke="#262626" stroke-width="1.5"/><circle cx="51.15" cy="83.9" r="2.4" fill="#fff" stroke="#262626" stroke-width="1.5"/><circle cx="62.88" cy="92.1" r="2.4" fill="#fff" stroke="#262626" stroke-width="1.5"/><circle cx="74.6" cy="102.5" r="2.4" fill="#fff" stroke="#262626" stroke-width="1.5"/><circle cx="86.32" cy="109.8" r="2.4" fill="#fff" stroke="#262626" stroke-width="1.5"/><circle cx="98.04" cy="109.2" r="2.4" fill="#fff" stroke="#262626" stroke-width="1.5"/><circle cx="109.76" cy="93.2" r="2.4" fill="#fff" stroke="#262626" stroke-width="1.5"/><circle cx="121.48" cy="80.5" r="2.4" fill="#fff" stroke="#262626" stroke-width="1.5"/><circle cx="133.2" cy="72.4" r="2.4" fill="#fff" stroke="#262626" stroke-width="1.5"/><circle cx="144.92" cy="70.2" r="2.4" fill="#fff" stroke="#262626" stroke-width="1.5"/><circle cx="156.65" cy="72.1" r="2.4" fill="#fff" stroke="#262626" stroke-width="1.5"/><circle cx="168.37" cy="72.1" r="2.4" fill="#fff" stroke="#262626" stroke-width="1.5"/><polyline points="39.43,79.3 51.15,86 62.88,107 74.6,119.3 86.32,118.9 98.04,118.3 109.76,111.3 121.48,94 133.2,75.7 144.92,69.4 156.65,72.1 168.37,71.9" fill="none" stroke="#d6006c" stroke-width="1.6" stroke-linejoin="round"/><circle cx="39.43" cy="79.3" r="1.5" fill="#fff" stroke="#d6006c" stroke-width="1.0"/><circle cx="51.15" cy="86" r="1.5" fill="#fff" stroke="#d6006c" stroke-width="1.0"/><circle cx="62.88" cy="107" r="1.5" fill="#fff" stroke="#d6006c" stroke-width="1.0"/><circle cx="74.6" cy="119.3" r="1.5" fill="#fff" stroke="#d6006c" stroke-width="1.0"/><circle cx="86.32" cy="118.9" r="1.5" fill="#fff" stroke="#d6006c" stroke-width="1.0"/><circle cx="98.04" cy="118.3" r="1.5" fill="#fff" stroke="#d6006c" stroke-width="1.0"/><circle cx="109.76" cy="111.3" r="1.5" fill="#fff" stroke="#d6006c" stroke-width="1.0"/><circle cx="121.48" cy="94" r="1.5" fill="#fff" stroke="#d6006c" stroke-width="1.0"/><circle cx="133.2" cy="75.7" r="1.5" fill="#fff" stroke="#d6006c" stroke-width="1.0"/><circle cx="144.92" cy="69.4" r="1.5" fill="#fff" stroke="#d6006c" stroke-width="1.0"/><circle cx="156.65" cy="72.1" r="1.5" fill="#fff" stroke="#d6006c" stroke-width="1.0"/><circle cx="168.37" cy="71.9" r="1.5" fill="#fff" stroke="#d6006c" stroke-width="1.0"/><text transform="translate(-0.2,7.7)" font-size="10.9" font-weight="bold" fill="#000" stroke="#000" stroke-width="0.15">D</text><text transform="translate(103.9,10.9) scale(1,1.12)" text-anchor="middle" font-size="8.0" font-weight="bold" fill="#111" stroke="#111" stroke-width="0.15">Archipelago: Azores</text><text transform="translate(103.9,147.1)" text-anchor="middle" font-size="8" fill="#1a1a1a" stroke="#1a1a1a" stroke-width="0.15">month of the year</text><text transform="translate(7.4,70.6) rotate(-90)" text-anchor="middle" font-size="8" fill="#1a1a1a" stroke="#1a1a1a" stroke-width="0.15">suitability</text><text transform="translate(198,70.6) rotate(90)" text-anchor="middle" font-size="8" fill="#d6006c" stroke="#d6006c" stroke-width="0.15">proportion suitable land</text></g><g transform="translate(345.45,158.7)"><rect x="238.23" y="24.48" width="5.1" height="25" fill="#f2eef5"/><rect x="238.23" y="33.37" width="5.1" height="14.57" fill="#ecd6f2"/><rect x="238.23" y="37.21" width="5.1" height="9.2" fill="#e4bde9"/><rect x="238.23" y="40.28" width="5.1" height="4.6" fill="#d9a3dd"/><rect x="246.68" y="26.01" width="5.1" height="23.93" fill="#f2eef5"/><rect x="246.68" y="32.61" width="5.1" height="15.34" fill="#ecd6f2"/><rect x="246.68" y="37.21" width="5.1" height="9.2" fill="#e4bde9"/><rect x="246.68" y="40.28" width="5.1" height="4.6" fill="#d9a3dd"/><rect x="255.14" y="31.53" width="5.1" height="17.18" fill="#f2eef5"/><rect x="255.14" y="36.44" width="5.1" height="11.5" fill="#ecd6f2"/><rect x="255.14" y="39.51" width="5.1" height="6.9" fill="#e4bde9"/><rect x="280.52" y="41.04" width="5.1" height="6.9" fill="#f2eef5"/><rect x="288.98" y="32.61" width="5.1" height="17.64" fill="#f2eef5"/><rect x="288.98" y="35.67" width="5.1" height="13.04" fill="#ecd6f2"/><rect x="288.98" y="38.74" width="5.1" height="8.44" fill="#e4bde9"/><rect x="288.98" y="41.04" width="5.1" height="4.6" fill="#d9a3dd"/><rect x="297.44" y="25.4" width="5.1" height="24.85" fill="#f2eef5"/><rect x="297.44" y="30.31" width="5.1" height="17.18" fill="#ecd6f2"/><rect x="297.44" y="33.37" width="5.1" height="12.27" fill="#e4bde9"/><rect x="297.44" y="37.21" width="5.1" height="6.13" fill="#d9a3dd"/><rect x="305.9" y="16.5" width="5.1" height="33.74" fill="#f2eef5"/><rect x="305.9" y="22.33" width="5.1" height="25.15" fill="#ecd6f2"/><rect x="305.9" y="30.31" width="5.1" height="15.34" fill="#e4bde9"/><rect x="305.9" y="34.14" width="5.1" height="9.2" fill="#d9a3dd"/><rect x="314.36" y="19.57" width="5.1" height="30.67" fill="#f2eef5"/><rect x="314.36" y="28.01" width="5.1" height="19.94" fill="#ecd6f2"/><rect x="314.36" y="34.91" width="5.1" height="11.5" fill="#e4bde9"/><rect x="314.36" y="38.74" width="5.1" height="6.13" fill="#d9a3dd"/><rect x="322.82" y="21.41" width="5.1" height="28.83" fill="#f2eef5"/><rect x="322.82" y="31.84" width="5.1" height="16.1" fill="#ecd6f2"/><rect x="322.82" y="37.21" width="5.1" height="9.2" fill="#e4bde9"/><rect x="322.82" y="40.28" width="5.1" height="4.6" fill="#d9a3dd"/><rect x="331.27" y="17.27" width="5.1" height="32.98" fill="#f2eef5"/><rect x="331.27" y="26.47" width="5.1" height="21.47" fill="#ecd6f2"/><rect x="331.27" y="33.37" width="5.1" height="13.04" fill="#e4bde9"/><rect x="331.27" y="37.21" width="5.1" height="6.9" fill="#d9a3dd"/><line x1="235.7" y1="9.6" x2="235.7" y2="53.6" stroke="#1a1a1a" stroke-width="1.05"/><line x1="235.2" y1="53.6" x2="338.9" y2="53.6" stroke="#1a1a1a" stroke-width="1.05"/><line x1="232.89999999999998" y1="51.6" x2="235.7" y2="51.6" stroke="#222" stroke-width="0.9"/><text transform="translate(231,53.85) scale(1,1.05)" text-anchor="end" font-size="5.8" fill="#1a1a1a" stroke="#1a1a1a" stroke-width="0.07">0.5</text><line x1="232.89999999999998" y1="43.6" x2="235.7" y2="43.6" stroke="#222" stroke-width="0.9"/><text transform="translate(231,45.85) scale(1,1.05)" text-anchor="end" font-size="5.8" fill="#1a1a1a" stroke="#1a1a1a" stroke-width="0.07">0.6</text><line x1="232.89999999999998" y1="35.6" x2="235.7" y2="35.6" stroke="#222" stroke-width="0.9"/><text transform="translate(231,37.85) scale(1,1.05)" text-anchor="end" font-size="5.8" fill="#1a1a1a" stroke="#1a1a1a" stroke-width="0.07">0.7</text><line x1="232.89999999999998" y1="27.6" x2="235.7" y2="27.6" stroke="#222" stroke-width="0.9"/><text transform="translate(231,29.85) scale(1,1.05)" text-anchor="end" font-size="5.8" fill="#1a1a1a" stroke="#1a1a1a" stroke-width="0.07">0.8</text><line x1="232.89999999999998" y1="19.6" x2="235.7" y2="19.6" stroke="#222" stroke-width="0.9"/><text transform="translate(231,21.85) scale(1,1.05)" text-anchor="end" font-size="5.8" fill="#1a1a1a" stroke="#1a1a1a" stroke-width="0.07">0.9</text><line x1="232.89999999999998" y1="11.6" x2="235.7" y2="11.6" stroke="#222" stroke-width="0.9"/><text transform="translate(231,13.85) scale(1,1.05)" text-anchor="end" font-size="5.8" fill="#1a1a1a" stroke="#1a1a1a" stroke-width="0.07">1.0</text><line x1="240.78" y1="53.6" x2="240.78" y2="56.4" stroke="#222" stroke-width="0.9"/><text transform="translate(240.78,62.9) scale(1,1.05)" text-anchor="middle" font-size="5.8" fill="#1a1a1a" stroke="#1a1a1a" stroke-width="0.07">1</text><line x1="249.23" y1="53.6" x2="249.23" y2="56.4" stroke="#222" stroke-width="0.9"/><text transform="translate(249.23,62.9) scale(1,1.05)" text-anchor="middle" font-size="5.8" fill="#1a1a1a" stroke="#1a1a1a" stroke-width="0.07">2</text><line x1="257.69" y1="53.6" x2="257.69" y2="56.4" stroke="#222" stroke-width="0.9"/><text transform="translate(257.69,62.9) scale(1,1.05)" text-anchor="middle" font-size="5.8" fill="#1a1a1a" stroke="#1a1a1a" stroke-width="0.07">3</text><line x1="266.15" y1="53.6" x2="266.15" y2="56.4" stroke="#222" stroke-width="0.9"/><text transform="translate(266.15,62.9) scale(1,1.05)" text-anchor="middle" font-size="5.8" fill="#1a1a1a" stroke="#1a1a1a" stroke-width="0.07">4</text><line x1="274.61" y1="53.6" x2="274.61" y2="56.4" stroke="#222" stroke-width="0.9"/><text transform="translate(274.61,62.9) scale(1,1.05)" text-anchor="middle" font-size="5.8" fill="#1a1a1a" stroke="#1a1a1a" stroke-width="0.07">5</text><line x1="283.07" y1="53.6" x2="283.07" y2="56.4" stroke="#222" stroke-width="0.9"/><text transform="translate(283.07,62.9) scale(1,1.05)" text-anchor="middle" font-size="5.8" fill="#1a1a1a" stroke="#1a1a1a" stroke-width="0.07">6</text><line x1="291.53" y1="53.6" x2="291.53" y2="56.4" stroke="#222" stroke-width="0.9"/><text transform="translate(291.53,62.9) scale(1,1.05)" text-anchor="middle" font-size="5.8" fill="#1a1a1a" stroke="#1a1a1a" stroke-width="0.07">7</text><line x1="299.99" y1="53.6" x2="299.99" y2="56.4" stroke="#222" stroke-width="0.9"/><text transform="translate(299.99,62.9) scale(1,1.05)" text-anchor="middle" font-size="5.8" fill="#1a1a1a" stroke="#1a1a1a" stroke-width="0.07">8</text><line x1="308.45" y1="53.6" x2="308.45" y2="56.4" stroke="#222" stroke-width="0.9"/><text transform="translate(308.45,62.9) scale(1,1.05)" text-anchor="middle" font-size="5.8" fill="#1a1a1a" stroke="#1a1a1a" stroke-width="0.07">9</text><line x1="316.91" y1="53.6" x2="316.91" y2="56.4" stroke="#222" stroke-width="0.9"/><text transform="translate(316.91,62.9) scale(1,1.05)" text-anchor="middle" font-size="5.8" fill="#1a1a1a" stroke="#1a1a1a" stroke-width="0.07">10</text><line x1="325.37" y1="53.6" x2="325.37" y2="56.4" stroke="#222" stroke-width="0.9"/><text transform="translate(325.37,62.9) scale(1,1.05)" text-anchor="middle" font-size="5.8" fill="#1a1a1a" stroke="#1a1a1a" stroke-width="0.07">11</text><line x1="333.82" y1="53.6" x2="333.82" y2="56.4" stroke="#222" stroke-width="0.9"/><text transform="translate(333.82,62.9) scale(1,1.05)" text-anchor="middle" font-size="5.8" fill="#1a1a1a" stroke="#1a1a1a" stroke-width="0.07">12</text><polyline points="240.78,42.88 249.23,43.34 257.69,42.58 266.15,40.28 274.61,49.02 283.07,42.27 291.53,42.27 299.99,39.2 308.45,39.51 316.91,42.58 325.37,43.5 333.82,41.35" fill="none" stroke="#d6006c" stroke-width="2.3" stroke-linejoin="round"/><circle cx="240.78" cy="42.88" r="1.6" fill="#fff" stroke="#d6006c" stroke-width="1.1"/><circle cx="249.23" cy="43.34" r="1.6" fill="#fff" stroke="#d6006c" stroke-width="1.1"/><circle cx="257.69" cy="42.58" r="1.6" fill="#fff" stroke="#d6006c" stroke-width="1.1"/><circle cx="266.15" cy="40.28" r="1.6" fill="#fff" stroke="#d6006c" stroke-width="1.1"/><circle cx="274.61" cy="49.02" r="1.6" fill="#fff" stroke="#d6006c" stroke-width="1.1"/><circle cx="283.07" cy="42.27" r="1.6" fill="#fff" stroke="#d6006c" stroke-width="1.1"/><circle cx="291.53" cy="42.27" r="1.6" fill="#fff" stroke="#d6006c" stroke-width="1.1"/><circle cx="299.99" cy="39.2" r="1.6" fill="#fff" stroke="#d6006c" stroke-width="1.1"/><circle cx="308.45" cy="39.51" r="1.6" fill="#fff" stroke="#d6006c" stroke-width="1.1"/><circle cx="316.91" cy="42.58" r="1.6" fill="#fff" stroke="#d6006c" stroke-width="1.1"/><circle cx="325.37" cy="43.5" r="1.6" fill="#fff" stroke="#d6006c" stroke-width="1.1"/><circle cx="333.82" cy="41.35" r="1.6" fill="#fff" stroke="#d6006c" stroke-width="1.1"/><text transform="translate(217.9,7.8)" font-size="10.9" font-weight="bold" fill="#000" stroke="#000" stroke-width="0.15">d1</text><text transform="translate(287.3,5.6) scale(1,1.12)" text-anchor="middle" font-size="6.3" font-weight="bold" fill="#111" stroke="#111" stroke-width="0.07">suitable land</text><text transform="translate(287.3,71.9)" text-anchor="middle" font-size="6.3" fill="#1a1a1a" stroke="#1a1a1a" stroke-width="0.07">month of the year</text><text transform="translate(218.3,31.6) rotate(-90)" text-anchor="middle" font-size="6.3" fill="#1a1a1a" stroke="#1a1a1a" stroke-width="0.07">suitability</text></g><g transform="translate(345.45,238)"><rect x="238.23" y="14.67" width="5.1" height="34.51" fill="#f6f6f8"/><rect x="238.23" y="26.17" width="5.1" height="20.71" fill="#d9e7fa"/><rect x="238.23" y="33.84" width="5.1" height="10.74" fill="#bbd4f5"/><rect x="238.23" y="37.67" width="5.1" height="4.6" fill="#9dc0ef"/><rect x="246.68" y="16.51" width="5.1" height="33.44" fill="#f6f6f8"/><rect x="246.68" y="32.31" width="5.1" height="16.1" fill="#d9e7fa"/><rect x="246.68" y="36.91" width="5.1" height="9.97" fill="#bbd4f5"/><rect x="246.68" y="39.98" width="5.1" height="5.37" fill="#9dc0ef"/><rect x="255.14" y="28.47" width="5.1" height="22.24" fill="#f6f6f8"/><rect x="255.14" y="36.91" width="5.1" height="13.04" fill="#d9e7fa"/><rect x="255.14" y="39.98" width="5.1" height="8.44" fill="#bbd4f5"/><rect x="255.14" y="43.04" width="5.1" height="3.83" fill="#9dc0ef"/><rect x="263.6" y="31.54" width="5.1" height="19.17" fill="#f6f6f8"/><rect x="263.6" y="39.98" width="5.1" height="9.97" fill="#d9e7fa"/><rect x="263.6" y="43.81" width="5.1" height="4.6" fill="#bbd4f5"/><rect x="272.06" y="39.98" width="5.1" height="11.2" fill="#f6f6f8"/><rect x="272.06" y="43.81" width="5.1" height="6.9" fill="#d9e7fa"/><rect x="272.06" y="46.88" width="5.1" height="3.07" fill="#bbd4f5"/><rect x="280.52" y="33.84" width="5.1" height="17.33" fill="#f6f6f8"/><rect x="280.52" y="40.74" width="5.1" height="9.97" fill="#d9e7fa"/><rect x="280.52" y="44.58" width="5.1" height="5.37" fill="#bbd4f5"/><rect x="288.98" y="24.64" width="5.1" height="26.07" fill="#f6f6f8"/><rect x="288.98" y="33.07" width="5.1" height="16.87" fill="#d9e7fa"/><rect x="288.98" y="38.44" width="5.1" height="9.97" fill="#bbd4f5"/><rect x="288.98" y="41.51" width="5.1" height="5.37" fill="#9dc0ef"/><rect x="297.44" y="17.43" width="5.1" height="31.75" fill="#f6f6f8"/><rect x="297.44" y="26.63" width="5.1" height="20.25" fill="#d9e7fa"/><rect x="297.44" y="32.31" width="5.1" height="12.27" fill="#bbd4f5"/><rect x="297.44" y="35.37" width="5.1" height="6.9" fill="#9dc0ef"/><rect x="305.9" y="13.9" width="5.1" height="33.74" fill="#f6f6f8"/><rect x="305.9" y="23.87" width="5.1" height="19.94" fill="#d9e7fa"/><rect x="305.9" y="30.77" width="5.1" height="10.74" fill="#bbd4f5"/><rect x="305.9" y="33.07" width="5.1" height="6.13" fill="#9dc0ef"/><rect x="314.36" y="13.13" width="5.1" height="34.51" fill="#f6f6f8"/><rect x="314.36" y="19.58" width="5.1" height="24.23" fill="#d9e7fa"/><rect x="314.36" y="28.47" width="5.1" height="13.04" fill="#bbd4f5"/><rect x="314.36" y="31.54" width="5.1" height="7.67" fill="#9dc0ef"/><rect x="322.82" y="13.13" width="5.1" height="35.28" fill="#f6f6f8"/><rect x="322.82" y="20.8" width="5.1" height="23.77" fill="#d9e7fa"/><rect x="322.82" y="30.01" width="5.1" height="12.27" fill="#bbd4f5"/><rect x="322.82" y="33.07" width="5.1" height="6.13" fill="#9dc0ef"/><rect x="331.27" y="13.13" width="5.1" height="35.28" fill="#f6f6f8"/><rect x="331.27" y="22.03" width="5.1" height="22.55" fill="#d9e7fa"/><rect x="331.27" y="29.24" width="5.1" height="13.04" fill="#bbd4f5"/><rect x="331.27" y="33.07" width="5.1" height="6.13" fill="#9dc0ef"/><line x1="235.7" y1="9.6" x2="235.7" y2="53.6" stroke="#1a1a1a" stroke-width="1.05"/><line x1="235.2" y1="53.6" x2="338.9" y2="53.6" stroke="#1a1a1a" stroke-width="1.05"/><line x1="232.89999999999998" y1="51.6" x2="235.7" y2="51.6" stroke="#222" stroke-width="0.9"/><text transform="translate(231,53.85) scale(1,1.05)" text-anchor="end" font-size="5.8" fill="#1a1a1a" stroke="#1a1a1a" stroke-width="0.07">0.0</text><line x1="232.89999999999998" y1="43.6" x2="235.7" y2="43.6" stroke="#222" stroke-width="0.9"/><text transform="translate(231,45.85) scale(1,1.05)" text-anchor="end" font-size="5.8" fill="#1a1a1a" stroke="#1a1a1a" stroke-width="0.07">0.1</text><line x1="232.89999999999998" y1="35.6" x2="235.7" y2="35.6" stroke="#222" stroke-width="0.9"/><text transform="translate(231,37.85) scale(1,1.05)" text-anchor="end" font-size="5.8" fill="#1a1a1a" stroke="#1a1a1a" stroke-width="0.07">0.2</text><line x1="232.89999999999998" y1="27.6" x2="235.7" y2="27.6" stroke="#222" stroke-width="0.9"/><text transform="translate(231,29.85) scale(1,1.05)" text-anchor="end" font-size="5.8" fill="#1a1a1a" stroke="#1a1a1a" stroke-width="0.07">0.3</text><line x1="232.89999999999998" y1="19.6" x2="235.7" y2="19.6" stroke="#222" stroke-width="0.9"/><text transform="translate(231,21.85) scale(1,1.05)" text-anchor="end" font-size="5.8" fill="#1a1a1a" stroke="#1a1a1a" stroke-width="0.07">0.4</text><line x1="232.89999999999998" y1="11.6" x2="235.7" y2="11.6" stroke="#222" stroke-width="0.9"/><text transform="translate(231,13.85) scale(1,1.05)" text-anchor="end" font-size="5.8" fill="#1a1a1a" stroke="#1a1a1a" stroke-width="0.07">0.5</text><line x1="240.78" y1="53.6" x2="240.78" y2="56.4" stroke="#222" stroke-width="0.9"/><text transform="translate(240.78,62.9) scale(1,1.05)" text-anchor="middle" font-size="5.8" fill="#1a1a1a" stroke="#1a1a1a" stroke-width="0.07">1</text><line x1="249.23" y1="53.6" x2="249.23" y2="56.4" stroke="#222" stroke-width="0.9"/><text transform="translate(249.23,62.9) scale(1,1.05)" text-anchor="middle" font-size="5.8" fill="#1a1a1a" stroke="#1a1a1a" stroke-width="0.07">2</text><line x1="257.69" y1="53.6" x2="257.69" y2="56.4" stroke="#222" stroke-width="0.9"/><text transform="translate(257.69,62.9) scale(1,1.05)" text-anchor="middle" font-size="5.8" fill="#1a1a1a" stroke="#1a1a1a" stroke-width="0.07">3</text><line x1="266.15" y1="53.6" x2="266.15" y2="56.4" stroke="#222" stroke-width="0.9"/><text transform="translate(266.15,62.9) scale(1,1.05)" text-anchor="middle" font-size="5.8" fill="#1a1a1a" stroke="#1a1a1a" stroke-width="0.07">4</text><line x1="274.61" y1="53.6" x2="274.61" y2="56.4" stroke="#222" stroke-width="0.9"/><text transform="translate(274.61,62.9) scale(1,1.05)" text-anchor="middle" font-size="5.8" fill="#1a1a1a" stroke="#1a1a1a" stroke-width="0.07">5</text><line x1="283.07" y1="53.6" x2="283.07" y2="56.4" stroke="#222" stroke-width="0.9"/><text transform="translate(283.07,62.9) scale(1,1.05)" text-anchor="middle" font-size="5.8" fill="#1a1a1a" stroke="#1a1a1a" stroke-width="0.07">6</text><line x1="291.53" y1="53.6" x2="291.53" y2="56.4" stroke="#222" stroke-width="0.9"/><text transform="translate(291.53,62.9) scale(1,1.05)" text-anchor="middle" font-size="5.8" fill="#1a1a1a" stroke="#1a1a1a" stroke-width="0.07">7</text><line x1="299.99" y1="53.6" x2="299.99" y2="56.4" stroke="#222" stroke-width="0.9"/><text transform="translate(299.99,62.9) scale(1,1.05)" text-anchor="middle" font-size="5.8" fill="#1a1a1a" stroke="#1a1a1a" stroke-width="0.07">8</text><line x1="308.45" y1="53.6" x2="308.45" y2="56.4" stroke="#222" stroke-width="0.9"/><text transform="translate(308.45,62.9) scale(1,1.05)" text-anchor="middle" font-size="5.8" fill="#1a1a1a" stroke="#1a1a1a" stroke-width="0.07">9</text><line x1="316.91" y1="53.6" x2="316.91" y2="56.4" stroke="#222" stroke-width="0.9"/><text transform="translate(316.91,62.9) scale(1,1.05)" text-anchor="middle" font-size="5.8" fill="#1a1a1a" stroke="#1a1a1a" stroke-width="0.07">10</text><line x1="325.37" y1="53.6" x2="325.37" y2="56.4" stroke="#222" stroke-width="0.9"/><text transform="translate(325.37,62.9) scale(1,1.05)" text-anchor="middle" font-size="5.8" fill="#1a1a1a" stroke="#1a1a1a" stroke-width="0.07">11</text><line x1="333.82" y1="53.6" x2="333.82" y2="56.4" stroke="#222" stroke-width="0.9"/><text transform="translate(333.82,62.9) scale(1,1.05)" text-anchor="middle" font-size="5.8" fill="#1a1a1a" stroke="#1a1a1a" stroke-width="0.07">12</text><polyline points="240.78,39.52 249.23,42.58 257.69,45.04 266.15,48.72 274.61,50.4 283.07,50.4 291.53,45.65 299.99,39.52 308.45,35.83 316.91,35.68 325.37,37.21 333.82,36.6" fill="none" stroke="#1c58a8" stroke-width="2.3" stroke-linejoin="round"/><circle cx="240.78" cy="39.52" r="1.6" fill="#fff" stroke="#1c58a8" stroke-width="1.1"/><circle cx="249.23" cy="42.58" r="1.6" fill="#fff" stroke="#1c58a8" stroke-width="1.1"/><circle cx="257.69" cy="45.04" r="1.6" fill="#fff" stroke="#1c58a8" stroke-width="1.1"/><circle cx="266.15" cy="48.72" r="1.6" fill="#fff" stroke="#1c58a8" stroke-width="1.1"/><circle cx="274.61" cy="50.4" r="1.6" fill="#fff" stroke="#1c58a8" stroke-width="1.1"/><circle cx="283.07" cy="50.4" r="1.6" fill="#fff" stroke="#1c58a8" stroke-width="1.1"/><circle cx="291.53" cy="45.65" r="1.6" fill="#fff" stroke="#1c58a8" stroke-width="1.1"/><circle cx="299.99" cy="39.52" r="1.6" fill="#fff" stroke="#1c58a8" stroke-width="1.1"/><circle cx="308.45" cy="35.83" r="1.6" fill="#fff" stroke="#1c58a8" stroke-width="1.1"/><circle cx="316.91" cy="35.68" r="1.6" fill="#fff" stroke="#1c58a8" stroke-width="1.1"/><circle cx="325.37" cy="37.21" r="1.6" fill="#fff" stroke="#1c58a8" stroke-width="1.1"/><circle cx="333.82" cy="36.6" r="1.6" fill="#fff" stroke="#1c58a8" stroke-width="1.1"/><text transform="translate(217.9,7.8)" font-size="10.9" font-weight="bold" fill="#000" stroke="#000" stroke-width="0.15">d2</text><text transform="translate(287.3,5.6) scale(1,1.12)" text-anchor="middle" font-size="6.3" font-weight="bold" fill="#111" stroke="#111" stroke-width="0.07">unsuitable land</text><text transform="translate(287.3,71.9)" text-anchor="middle" font-size="6.3" fill="#1a1a1a" stroke="#1a1a1a" stroke-width="0.07">month of the year</text><text transform="translate(218.3,31.6) rotate(-90)" text-anchor="middle" font-size="6.3" fill="#1a1a1a" stroke="#1a1a1a" stroke-width="0.07">suitability</text></g><g transform="translate(0,316.9)"><rect x="35.23" y="49.8" width="8.4" height="52.95" fill="#ececec"/><rect x="35.23" y="59.86" width="8.4" height="40.88" fill="#d8d8d8"/><rect x="35.23" y="68.3" width="8.4" height="28.42" fill="#c0c0c0"/><rect x="35.23" y="75" width="8.4" height="15.68" fill="#a2a2a2"/><rect x="46.95" y="49.13" width="8.4" height="52.95" fill="#ececec"/><rect x="46.95" y="61.2" width="8.4" height="38.87" fill="#d8d8d8"/><rect x="46.95" y="69.91" width="8.4" height="26.14" fill="#c0c0c0"/><rect x="46.95" y="78.62" width="8.4" height="12.06" fill="#a2a2a2"/><rect x="58.68" y="48.19" width="8.4" height="53.22" fill="#ececec"/><rect x="58.68" y="58.52" width="8.4" height="39.54" fill="#d8d8d8"/><rect x="58.68" y="64.55" width="8.4" height="29.49" fill="#c0c0c0"/><rect x="58.68" y="71.92" width="8.4" height="16.76" fill="#a2a2a2"/><rect x="70.4" y="47.12" width="8.4" height="53.62" fill="#ececec"/><rect x="70.4" y="56.24" width="8.4" height="41.15" fill="#d8d8d8"/><rect x="70.4" y="60.53" width="8.4" height="32.84" fill="#c0c0c0"/><rect x="70.4" y="69.24" width="8.4" height="19.44" fill="#a2a2a2"/><rect x="82.12" y="48.19" width="8.4" height="51.88" fill="#ececec"/><rect x="82.12" y="58.52" width="8.4" height="38.2" fill="#d8d8d8"/><rect x="82.12" y="65.22" width="8.4" height="26.14" fill="#c0c0c0"/><rect x="82.12" y="71.92" width="8.4" height="14.75" fill="#a2a2a2"/><rect x="93.84" y="48.73" width="8.4" height="47.99" fill="#ececec"/><rect x="93.84" y="58.92" width="8.4" height="32.44" fill="#d8d8d8"/><rect x="93.84" y="65.22" width="8.4" height="22.12" fill="#c0c0c0"/><rect x="93.84" y="69.91" width="8.4" height="13.4" fill="#a2a2a2"/><rect x="105.56" y="54.09" width="8.4" height="39.95" fill="#ececec"/><rect x="105.56" y="61.2" width="8.4" height="29.49" fill="#d8d8d8"/><rect x="105.56" y="68.57" width="8.4" height="18.77" fill="#c0c0c0"/><rect x="105.56" y="73.93" width="8.4" height="9.38" fill="#a2a2a2"/><rect x="117.28" y="55.83" width="8.4" height="38.87" fill="#ececec"/><rect x="117.28" y="61.87" width="8.4" height="28.82" fill="#d8d8d8"/><rect x="117.28" y="67.9" width="8.4" height="19.44" fill="#c0c0c0"/><rect x="117.28" y="73.26" width="8.4" height="10.72" fill="#a2a2a2"/><rect x="129" y="48.73" width="8.4" height="47.32" fill="#ececec"/><rect x="129" y="61.87" width="8.4" height="30.83" fill="#d8d8d8"/><rect x="129" y="69.91" width="8.4" height="20.11" fill="#c0c0c0"/><rect x="129" y="73.93" width="8.4" height="12.73" fill="#a2a2a2"/><rect x="140.72" y="48.73" width="8.4" height="52.01" fill="#ececec"/><rect x="140.72" y="57.85" width="8.4" height="34.85" fill="#d8d8d8"/><rect x="140.72" y="63.21" width="8.4" height="23.46" fill="#c0c0c0"/><rect x="140.72" y="68.57" width="8.4" height="13.4" fill="#a2a2a2"/><rect x="152.45" y="48.73" width="8.4" height="50.67" fill="#ececec"/><rect x="152.45" y="56.5" width="8.4" height="38.2" fill="#d8d8d8"/><rect x="152.45" y="60.53" width="8.4" height="28.82" fill="#c0c0c0"/><rect x="152.45" y="67.23" width="8.4" height="16.09" fill="#a2a2a2"/><rect x="164.17" y="50.47" width="8.4" height="52.28" fill="#ececec"/><rect x="164.17" y="61.87" width="8.4" height="38.87" fill="#d8d8d8"/><rect x="164.17" y="69.91" width="8.4" height="26.81" fill="#c0c0c0"/><rect x="164.17" y="77.28" width="8.4" height="14.08" fill="#a2a2a2"/><line x1="32.4" y1="14.5" x2="32.4" y2="125.6" stroke="#222" stroke-width="1.1"/><line x1="31.9" y1="125.6" x2="175.4" y2="125.6" stroke="#222" stroke-width="1.1"/><line x1="175.4" y1="14.5" x2="175.4" y2="126.1" stroke="#d6006c" stroke-width="1.1"/><line x1="29.7" y1="120.6" x2="32.4" y2="120.6" stroke="#333" stroke-width="1"/><text transform="translate(27.2,123.65) scale(1,1.12)" text-anchor="end" font-size="7.7" fill="#1a1a1a" stroke="#1a1a1a" stroke-width="0.15">0.00</text><line x1="29.7" y1="88.69" x2="32.4" y2="88.69" stroke="#333" stroke-width="1"/><text transform="translate(27.2,91.74) scale(1,1.12)" text-anchor="end" font-size="7.7" fill="#1a1a1a" stroke="#1a1a1a" stroke-width="0.15">0.10</text><line x1="29.7" y1="70.15" x2="32.4" y2="70.15" stroke="#333" stroke-width="1"/><text transform="translate(27.2,73.2) scale(1,1.12)" text-anchor="end" font-size="7.7" fill="#1a1a1a" stroke="#1a1a1a" stroke-width="0.15">0.25</text><line x1="29.7" y1="49.25" x2="32.4" y2="49.25" stroke="#333" stroke-width="1"/><text transform="translate(27.2,52.3) scale(1,1.12)" text-anchor="end" font-size="7.7" fill="#1a1a1a" stroke="#1a1a1a" stroke-width="0.15">0.50</text><line x1="29.7" y1="33.22" x2="32.4" y2="33.22" stroke="#333" stroke-width="1"/><text transform="translate(27.2,36.27) scale(1,1.12)" text-anchor="end" font-size="7.7" fill="#1a1a1a" stroke="#1a1a1a" stroke-width="0.15">0.75</text><line x1="29.7" y1="24.88" x2="32.4" y2="24.88" stroke="#333" stroke-width="1"/><text transform="translate(27.2,27.93) scale(1,1.12)" text-anchor="end" font-size="7.7" fill="#1a1a1a" stroke="#1a1a1a" stroke-width="0.15">0.90</text><line x1="29.7" y1="19.7" x2="32.4" y2="19.7" stroke="#333" stroke-width="1"/><text transform="translate(27.2,22.75) scale(1,1.12)" text-anchor="end" font-size="7.7" fill="#1a1a1a" stroke="#1a1a1a" stroke-width="0.15">1.00</text><line x1="175.4" y1="88.69" x2="178.1" y2="88.69" stroke="#d6006c" stroke-width="1"/><text transform="translate(180.4,91.74) scale(1,1.12)" font-size="7.7" fill="#d6006c" stroke="#d6006c" stroke-width="0.15">0.10</text><line x1="175.4" y1="70.15" x2="178.1" y2="70.15" stroke="#d6006c" stroke-width="1"/><text transform="translate(180.4,73.2) scale(1,1.12)" font-size="7.7" fill="#d6006c" stroke="#d6006c" stroke-width="0.15">0.25</text><line x1="175.4" y1="49.25" x2="178.1" y2="49.25" stroke="#d6006c" stroke-width="1"/><text transform="translate(180.4,52.3) scale(1,1.12)" font-size="7.7" fill="#d6006c" stroke="#d6006c" stroke-width="0.15">0.50</text><line x1="175.4" y1="33.22" x2="178.1" y2="33.22" stroke="#d6006c" stroke-width="1"/><text transform="translate(180.4,36.27) scale(1,1.12)" font-size="7.7" fill="#d6006c" stroke="#d6006c" stroke-width="0.15">0.75</text><line x1="175.4" y1="24.88" x2="178.1" y2="24.88" stroke="#d6006c" stroke-width="1"/><text transform="translate(180.4,27.93) scale(1,1.12)" font-size="7.7" fill="#d6006c" stroke="#d6006c" stroke-width="0.15">0.90</text><line x1="175.4" y1="19.7" x2="178.1" y2="19.7" stroke="#d6006c" stroke-width="1"/><text transform="translate(180.4,22.75) scale(1,1.12)" font-size="7.7" fill="#d6006c" stroke="#d6006c" stroke-width="0.15">1.00</text><line x1="39.43" y1="125.6" x2="39.43" y2="128.6" stroke="#333" stroke-width="1"/><text transform="translate(39.43,136.8) scale(1,1.12)" text-anchor="middle" font-size="7.7" fill="#1a1a1a" stroke="#1a1a1a" stroke-width="0.15">1</text><line x1="51.15" y1="125.6" x2="51.15" y2="128.6" stroke="#333" stroke-width="1"/><text transform="translate(51.15,136.8) scale(1,1.12)" text-anchor="middle" font-size="7.7" fill="#1a1a1a" stroke="#1a1a1a" stroke-width="0.15">2</text><line x1="62.88" y1="125.6" x2="62.88" y2="128.6" stroke="#333" stroke-width="1"/><text transform="translate(62.88,136.8) scale(1,1.12)" text-anchor="middle" font-size="7.7" fill="#1a1a1a" stroke="#1a1a1a" stroke-width="0.15">3</text><line x1="74.6" y1="125.6" x2="74.6" y2="128.6" stroke="#333" stroke-width="1"/><text transform="translate(74.6,136.8) scale(1,1.12)" text-anchor="middle" font-size="7.7" fill="#1a1a1a" stroke="#1a1a1a" stroke-width="0.15">4</text><line x1="86.32" y1="125.6" x2="86.32" y2="128.6" stroke="#333" stroke-width="1"/><text transform="translate(86.32,136.8) scale(1,1.12)" text-anchor="middle" font-size="7.7" fill="#1a1a1a" stroke="#1a1a1a" stroke-width="0.15">5</text><line x1="98.04" y1="125.6" x2="98.04" y2="128.6" stroke="#333" stroke-width="1"/><text transform="translate(98.04,136.8) scale(1,1.12)" text-anchor="middle" font-size="7.7" fill="#1a1a1a" stroke="#1a1a1a" stroke-width="0.15">6</text><line x1="109.76" y1="125.6" x2="109.76" y2="128.6" stroke="#333" stroke-width="1"/><text transform="translate(109.76,136.8) scale(1,1.12)" text-anchor="middle" font-size="7.7" fill="#1a1a1a" stroke="#1a1a1a" stroke-width="0.15">7</text><line x1="121.48" y1="125.6" x2="121.48" y2="128.6" stroke="#333" stroke-width="1"/><text transform="translate(121.48,136.8) scale(1,1.12)" text-anchor="middle" font-size="7.7" fill="#1a1a1a" stroke="#1a1a1a" stroke-width="0.15">8</text><line x1="133.2" y1="125.6" x2="133.2" y2="128.6" stroke="#333" stroke-width="1"/><text transform="translate(133.2,136.8) scale(1,1.12)" text-anchor="middle" font-size="7.7" fill="#1a1a1a" stroke="#1a1a1a" stroke-width="0.15">9</text><line x1="144.92" y1="125.6" x2="144.92" y2="128.6" stroke="#333" stroke-width="1"/><text transform="translate(144.92,136.8) scale(1,1.12)" text-anchor="middle" font-size="7.7" fill="#1a1a1a" stroke="#1a1a1a" stroke-width="0.15">10</text><line x1="156.65" y1="125.6" x2="156.65" y2="128.6" stroke="#333" stroke-width="1"/><text transform="translate(156.65,136.8) scale(1,1.12)" text-anchor="middle" font-size="7.7" fill="#1a1a1a" stroke="#1a1a1a" stroke-width="0.15">11</text><line x1="168.37" y1="125.6" x2="168.37" y2="128.6" stroke="#333" stroke-width="1"/><text transform="translate(168.37,136.8) scale(1,1.12)" text-anchor="middle" font-size="7.7" fill="#1a1a1a" stroke="#1a1a1a" stroke-width="0.15">12</text><polyline points="39.43,83.72 51.15,87.07 62.88,82.24 74.6,77.95 86.32,80.37 98.04,76.61 109.76,76.61 121.48,76.88 133.2,78.62 144.92,75.54 156.65,74.6 168.37,84.65" fill="none" stroke="#262626" stroke-width="2.9" stroke-linejoin="round"/><circle cx="39.43" cy="83.72" r="2.4" fill="#fff" stroke="#262626" stroke-width="1.5"/><circle cx="51.15" cy="87.07" r="2.4" fill="#fff" stroke="#262626" stroke-width="1.5"/><circle cx="62.88" cy="82.24" r="2.4" fill="#fff" stroke="#262626" stroke-width="1.5"/><circle cx="74.6" cy="77.95" r="2.4" fill="#fff" stroke="#262626" stroke-width="1.5"/><circle cx="86.32" cy="80.37" r="2.4" fill="#fff" stroke="#262626" stroke-width="1.5"/><circle cx="98.04" cy="76.61" r="2.4" fill="#fff" stroke="#262626" stroke-width="1.5"/><circle cx="109.76" cy="76.61" r="2.4" fill="#fff" stroke="#262626" stroke-width="1.5"/><circle cx="121.48" cy="76.88" r="2.4" fill="#fff" stroke="#262626" stroke-width="1.5"/><circle cx="133.2" cy="78.62" r="2.4" fill="#fff" stroke="#262626" stroke-width="1.5"/><circle cx="144.92" cy="75.54" r="2.4" fill="#fff" stroke="#262626" stroke-width="1.5"/><circle cx="156.65" cy="74.6" r="2.4" fill="#fff" stroke="#262626" stroke-width="1.5"/><circle cx="168.37" cy="84.65" r="2.4" fill="#fff" stroke="#262626" stroke-width="1.5"/><polyline points="39.43,105.43 51.15,104.49 62.88,101.81 74.6,100.07 86.32,102.08 98.04,103.69 109.76,115.22 121.48,115.22 133.2,103.69 144.92,104.09 156.65,104.09 168.37,106.1" fill="none" stroke="#d6006c" stroke-width="1.6" stroke-linejoin="round"/><circle cx="39.43" cy="105.43" r="1.5" fill="#fff" stroke="#d6006c" stroke-width="1.0"/><circle cx="51.15" cy="104.49" r="1.5" fill="#fff" stroke="#d6006c" stroke-width="1.0"/><circle cx="62.88" cy="101.81" r="1.5" fill="#fff" stroke="#d6006c" stroke-width="1.0"/><circle cx="74.6" cy="100.07" r="1.5" fill="#fff" stroke="#d6006c" stroke-width="1.0"/><circle cx="86.32" cy="102.08" r="1.5" fill="#fff" stroke="#d6006c" stroke-width="1.0"/><circle cx="98.04" cy="103.69" r="1.5" fill="#fff" stroke="#d6006c" stroke-width="1.0"/><circle cx="109.76" cy="115.22" r="1.5" fill="#fff" stroke="#d6006c" stroke-width="1.0"/><circle cx="121.48" cy="115.22" r="1.5" fill="#fff" stroke="#d6006c" stroke-width="1.0"/><circle cx="133.2" cy="103.69" r="1.5" fill="#fff" stroke="#d6006c" stroke-width="1.0"/><circle cx="144.92" cy="104.09" r="1.5" fill="#fff" stroke="#d6006c" stroke-width="1.0"/><circle cx="156.65" cy="104.09" r="1.5" fill="#fff" stroke="#d6006c" stroke-width="1.0"/><circle cx="168.37" cy="106.1" r="1.5" fill="#fff" stroke="#d6006c" stroke-width="1.0"/><text transform="translate(-0.2,7.7)" font-size="10.9" font-weight="bold" fill="#000" stroke="#000" stroke-width="0.15">E</text><text transform="translate(103.9,10.9) scale(1,1.12)" text-anchor="middle" font-size="8.0" font-weight="bold" fill="#111" stroke="#111" stroke-width="0.15">Archipelago: São Tomé &amp; Príncipe</text><text transform="translate(103.9,147.1)" text-anchor="middle" font-size="8" fill="#1a1a1a" stroke="#1a1a1a" stroke-width="0.15">month of the year</text><text transform="translate(7.4,70.6) rotate(-90)" text-anchor="middle" font-size="8" fill="#1a1a1a" stroke="#1a1a1a" stroke-width="0.15">suitability</text><text transform="translate(198,70.6) rotate(90)" text-anchor="middle" font-size="8" fill="#d6006c" stroke="#d6006c" stroke-width="0.15">proportion suitable land</text></g><g transform="translate(0,316.9)"><rect x="238.23" y="35.47" width="5.1" height="15.34" fill="#f2eef5"/><rect x="238.23" y="42.07" width="5.1" height="7.98" fill="#ecd6f2"/><rect x="238.23" y="46.21" width="5.1" height="3.83" fill="#e4bde9"/><rect x="246.68" y="33.17" width="5.1" height="17.64" fill="#f2eef5"/><rect x="246.68" y="40.54" width="5.1" height="9.51" fill="#ecd6f2"/><rect x="246.68" y="45.44" width="5.1" height="4.6" fill="#e4bde9"/><rect x="255.14" y="32.1" width="5.1" height="18.71" fill="#f2eef5"/><rect x="255.14" y="38.54" width="5.1" height="11.5" fill="#ecd6f2"/><rect x="255.14" y="43.91" width="5.1" height="6.13" fill="#e4bde9"/><rect x="263.6" y="31.64" width="5.1" height="19.17" fill="#f2eef5"/><rect x="263.6" y="39" width="5.1" height="11.04" fill="#ecd6f2"/><rect x="263.6" y="43.14" width="5.1" height="6.9" fill="#e4bde9"/><rect x="272.06" y="35.17" width="5.1" height="15.64" fill="#f2eef5"/><rect x="272.06" y="40.08" width="5.1" height="9.97" fill="#ecd6f2"/><rect x="272.06" y="44.68" width="5.1" height="5.37" fill="#e4bde9"/><rect x="280.52" y="35.47" width="5.1" height="15.34" fill="#f2eef5"/><rect x="280.52" y="43.91" width="5.1" height="6.13" fill="#ecd6f2"/><rect x="288.98" y="40.54" width="5.1" height="10.28" fill="#f2eef5"/><rect x="288.98" y="43.14" width="5.1" height="6.9" fill="#ecd6f2"/><rect x="288.98" y="45.44" width="5.1" height="4.6" fill="#e4bde9"/><rect x="297.44" y="44.22" width="5.1" height="6.6" fill="#f2eef5"/><rect x="297.44" y="47.28" width="5.1" height="3.53" fill="#ecd6f2"/><rect x="305.9" y="36.24" width="5.1" height="14.57" fill="#f2eef5"/><rect x="305.9" y="40.08" width="5.1" height="9.97" fill="#ecd6f2"/><rect x="305.9" y="44.68" width="5.1" height="5.37" fill="#e4bde9"/><rect x="314.36" y="30.57" width="5.1" height="20.25" fill="#f2eef5"/><rect x="314.36" y="37.77" width="5.1" height="11.5" fill="#ecd6f2"/><rect x="314.36" y="43.91" width="5.1" height="5.37" fill="#e4bde9"/><rect x="322.82" y="30.87" width="5.1" height="19.94" fill="#f2eef5"/><rect x="322.82" y="39" width="5.1" height="10.74" fill="#ecd6f2"/><rect x="322.82" y="43.91" width="5.1" height="5.83" fill="#e4bde9"/><rect x="331.27" y="33.94" width="5.1" height="16.87" fill="#f2eef5"/><rect x="331.27" y="40.84" width="5.1" height="9.2" fill="#ecd6f2"/><rect x="331.27" y="46.21" width="5.1" height="3.83" fill="#e4bde9"/><line x1="235.7" y1="9.6" x2="235.7" y2="53.6" stroke="#1a1a1a" stroke-width="1.05"/><line x1="235.2" y1="53.6" x2="338.9" y2="53.6" stroke="#1a1a1a" stroke-width="1.05"/><line x1="232.89999999999998" y1="51.6" x2="235.7" y2="51.6" stroke="#222" stroke-width="0.9"/><text transform="translate(231,53.85) scale(1,1.05)" text-anchor="end" font-size="5.8" fill="#1a1a1a" stroke="#1a1a1a" stroke-width="0.07">0.5</text><line x1="232.89999999999998" y1="43.6" x2="235.7" y2="43.6" stroke="#222" stroke-width="0.9"/><text transform="translate(231,45.85) scale(1,1.05)" text-anchor="end" font-size="5.8" fill="#1a1a1a" stroke="#1a1a1a" stroke-width="0.07">0.6</text><line x1="232.89999999999998" y1="35.6" x2="235.7" y2="35.6" stroke="#222" stroke-width="0.9"/><text transform="translate(231,37.85) scale(1,1.05)" text-anchor="end" font-size="5.8" fill="#1a1a1a" stroke="#1a1a1a" stroke-width="0.07">0.7</text><line x1="232.89999999999998" y1="27.6" x2="235.7" y2="27.6" stroke="#222" stroke-width="0.9"/><text transform="translate(231,29.85) scale(1,1.05)" text-anchor="end" font-size="5.8" fill="#1a1a1a" stroke="#1a1a1a" stroke-width="0.07">0.8</text><line x1="232.89999999999998" y1="19.6" x2="235.7" y2="19.6" stroke="#222" stroke-width="0.9"/><text transform="translate(231,21.85) scale(1,1.05)" text-anchor="end" font-size="5.8" fill="#1a1a1a" stroke="#1a1a1a" stroke-width="0.07">0.9</text><line x1="232.89999999999998" y1="11.6" x2="235.7" y2="11.6" stroke="#222" stroke-width="0.9"/><text transform="translate(231,13.85) scale(1,1.05)" text-anchor="end" font-size="5.8" fill="#1a1a1a" stroke="#1a1a1a" stroke-width="0.07">1.0</text><line x1="240.78" y1="53.6" x2="240.78" y2="56.4" stroke="#222" stroke-width="0.9"/><text transform="translate(240.78,62.9) scale(1,1.05)" text-anchor="middle" font-size="5.8" fill="#1a1a1a" stroke="#1a1a1a" stroke-width="0.07">1</text><line x1="249.23" y1="53.6" x2="249.23" y2="56.4" stroke="#222" stroke-width="0.9"/><text transform="translate(249.23,62.9) scale(1,1.05)" text-anchor="middle" font-size="5.8" fill="#1a1a1a" stroke="#1a1a1a" stroke-width="0.07">2</text><line x1="257.69" y1="53.6" x2="257.69" y2="56.4" stroke="#222" stroke-width="0.9"/><text transform="translate(257.69,62.9) scale(1,1.05)" text-anchor="middle" font-size="5.8" fill="#1a1a1a" stroke="#1a1a1a" stroke-width="0.07">3</text><line x1="266.15" y1="53.6" x2="266.15" y2="56.4" stroke="#222" stroke-width="0.9"/><text transform="translate(266.15,62.9) scale(1,1.05)" text-anchor="middle" font-size="5.8" fill="#1a1a1a" stroke="#1a1a1a" stroke-width="0.07">4</text><line x1="274.61" y1="53.6" x2="274.61" y2="56.4" stroke="#222" stroke-width="0.9"/><text transform="translate(274.61,62.9) scale(1,1.05)" text-anchor="middle" font-size="5.8" fill="#1a1a1a" stroke="#1a1a1a" stroke-width="0.07">5</text><line x1="283.07" y1="53.6" x2="283.07" y2="56.4" stroke="#222" stroke-width="0.9"/><text transform="translate(283.07,62.9) scale(1,1.05)" text-anchor="middle" font-size="5.8" fill="#1a1a1a" stroke="#1a1a1a" stroke-width="0.07">6</text><line x1="291.53" y1="53.6" x2="291.53" y2="56.4" stroke="#222" stroke-width="0.9"/><text transform="translate(291.53,62.9) scale(1,1.05)" text-anchor="middle" font-size="5.8" fill="#1a1a1a" stroke="#1a1a1a" stroke-width="0.07">7</text><line x1="299.99" y1="53.6" x2="299.99" y2="56.4" stroke="#222" stroke-width="0.9"/><text transform="translate(299.99,62.9) scale(1,1.05)" text-anchor="middle" font-size="5.8" fill="#1a1a1a" stroke="#1a1a1a" stroke-width="0.07">8</text><line x1="308.45" y1="53.6" x2="308.45" y2="56.4" stroke="#222" stroke-width="0.9"/><text transform="translate(308.45,62.9) scale(1,1.05)" text-anchor="middle" font-size="5.8" fill="#1a1a1a" stroke="#1a1a1a" stroke-width="0.07">9</text><line x1="316.91" y1="53.6" x2="316.91" y2="56.4" stroke="#222" stroke-width="0.9"/><text transform="translate(316.91,62.9) scale(1,1.05)" text-anchor="middle" font-size="5.8" fill="#1a1a1a" stroke="#1a1a1a" stroke-width="0.07">10</text><line x1="325.37" y1="53.6" x2="325.37" y2="56.4" stroke="#222" stroke-width="0.9"/><text transform="translate(325.37,62.9) scale(1,1.05)" text-anchor="middle" font-size="5.8" fill="#1a1a1a" stroke="#1a1a1a" stroke-width="0.07">11</text><line x1="333.82" y1="53.6" x2="333.82" y2="56.4" stroke="#222" stroke-width="0.9"/><text transform="translate(333.82,62.9) scale(1,1.05)" text-anchor="middle" font-size="5.8" fill="#1a1a1a" stroke="#1a1a1a" stroke-width="0.07">12</text><polyline points="240.78,48.82 249.23,48.2 257.69,48.05 266.15,48.05 274.61,48.05 283.07,48.82 291.53,48.51 299.99,50.35 308.45,47.44 316.91,46.98 325.37,48.2 333.82,48.51" fill="none" stroke="#d6006c" stroke-width="2.3" stroke-linejoin="round"/><circle cx="240.78" cy="48.82" r="1.6" fill="#fff" stroke="#d6006c" stroke-width="1.1"/><circle cx="249.23" cy="48.2" r="1.6" fill="#fff" stroke="#d6006c" stroke-width="1.1"/><circle cx="257.69" cy="48.05" r="1.6" fill="#fff" stroke="#d6006c" stroke-width="1.1"/><circle cx="266.15" cy="48.05" r="1.6" fill="#fff" stroke="#d6006c" stroke-width="1.1"/><circle cx="274.61" cy="48.05" r="1.6" fill="#fff" stroke="#d6006c" stroke-width="1.1"/><circle cx="283.07" cy="48.82" r="1.6" fill="#fff" stroke="#d6006c" stroke-width="1.1"/><circle cx="291.53" cy="48.51" r="1.6" fill="#fff" stroke="#d6006c" stroke-width="1.1"/><circle cx="299.99" cy="50.35" r="1.6" fill="#fff" stroke="#d6006c" stroke-width="1.1"/><circle cx="308.45" cy="47.44" r="1.6" fill="#fff" stroke="#d6006c" stroke-width="1.1"/><circle cx="316.91" cy="46.98" r="1.6" fill="#fff" stroke="#d6006c" stroke-width="1.1"/><circle cx="325.37" cy="48.2" r="1.6" fill="#fff" stroke="#d6006c" stroke-width="1.1"/><circle cx="333.82" cy="48.51" r="1.6" fill="#fff" stroke="#d6006c" stroke-width="1.1"/><text transform="translate(217.9,7.8)" font-size="10.9" font-weight="bold" fill="#000" stroke="#000" stroke-width="0.15">e1</text><text transform="translate(287.3,5.6) scale(1,1.12)" text-anchor="middle" font-size="6.3" font-weight="bold" fill="#111" stroke="#111" stroke-width="0.07">suitable land</text><text transform="translate(287.3,71.9)" text-anchor="middle" font-size="6.3" fill="#1a1a1a" stroke="#1a1a1a" stroke-width="0.07">month of the year</text><text transform="translate(218.3,31.6) rotate(-90)" text-anchor="middle" font-size="6.3" fill="#1a1a1a" stroke="#1a1a1a" stroke-width="0.07">suitability</text></g><g transform="translate(0,396.2)"><rect x="238.23" y="15.24" width="5.1" height="33.74" fill="#f6f6f8"/><rect x="238.23" y="22.9" width="5.1" height="24.54" fill="#d9e7fa"/><rect x="238.23" y="30.57" width="5.1" height="15.34" fill="#bbd4f5"/><rect x="238.23" y="35.63" width="5.1" height="7.98" fill="#9dc0ef"/><rect x="246.68" y="15.7" width="5.1" height="34.05" fill="#f6f6f8"/><rect x="246.68" y="25.2" width="5.1" height="23.01" fill="#d9e7fa"/><rect x="246.68" y="32.11" width="5.1" height="14.57" fill="#bbd4f5"/><rect x="246.68" y="36.71" width="5.1" height="8.44" fill="#9dc0ef"/><rect x="255.14" y="14.47" width="5.1" height="34.51" fill="#f6f6f8"/><rect x="255.14" y="22.14" width="5.1" height="25.31" fill="#d9e7fa"/><rect x="255.14" y="28.27" width="5.1" height="16.87" fill="#bbd4f5"/><rect x="255.14" y="33.64" width="5.1" height="9.2" fill="#9dc0ef"/><rect x="263.6" y="13.7" width="5.1" height="35.28" fill="#f6f6f8"/><rect x="263.6" y="21.37" width="5.1" height="25.31" fill="#d9e7fa"/><rect x="263.6" y="24.9" width="5.1" height="19.48" fill="#bbd4f5"/><rect x="263.6" y="31.34" width="5.1" height="9.97" fill="#9dc0ef"/><rect x="272.06" y="14.47" width="5.1" height="34.51" fill="#f6f6f8"/><rect x="272.06" y="22.14" width="5.1" height="25.31" fill="#d9e7fa"/><rect x="272.06" y="28.27" width="5.1" height="16.87" fill="#bbd4f5"/><rect x="272.06" y="33.64" width="5.1" height="9.2" fill="#9dc0ef"/><rect x="280.52" y="15.24" width="5.1" height="32.21" fill="#f6f6f8"/><rect x="280.52" y="22.9" width="5.1" height="21.47" fill="#d9e7fa"/><rect x="280.52" y="28.27" width="5.1" height="13.8" fill="#bbd4f5"/><rect x="280.52" y="31.34" width="5.1" height="8.44" fill="#9dc0ef"/><rect x="288.98" y="17.54" width="5.1" height="29.14" fill="#f6f6f8"/><rect x="288.98" y="23.67" width="5.1" height="19.94" fill="#d9e7fa"/><rect x="288.98" y="29.81" width="5.1" height="11.5" fill="#bbd4f5"/><rect x="288.98" y="32.87" width="5.1" height="6.13" fill="#9dc0ef"/><rect x="297.44" y="19.07" width="5.1" height="27.3" fill="#f6f6f8"/><rect x="297.44" y="24.9" width="5.1" height="18.71" fill="#d9e7fa"/><rect x="297.44" y="30.57" width="5.1" height="10.74" fill="#bbd4f5"/><rect x="297.44" y="33.64" width="5.1" height="5.37" fill="#9dc0ef"/><rect x="305.9" y="17.54" width="5.1" height="29.91" fill="#f6f6f8"/><rect x="305.9" y="25.51" width="5.1" height="19.63" fill="#d9e7fa"/><rect x="305.9" y="31.34" width="5.1" height="11.5" fill="#bbd4f5"/><rect x="305.9" y="34.41" width="5.1" height="6.13" fill="#9dc0ef"/><rect x="314.36" y="14.16" width="5.1" height="32.52" fill="#f6f6f8"/><rect x="314.36" y="21.83" width="5.1" height="21.78" fill="#d9e7fa"/><rect x="314.36" y="26.74" width="5.1" height="14.57" fill="#bbd4f5"/><rect x="314.36" y="31.34" width="5.1" height="7.67" fill="#9dc0ef"/><rect x="322.82" y="13.7" width="5.1" height="33.74" fill="#f6f6f8"/><rect x="322.82" y="20.6" width="5.1" height="23.77" fill="#d9e7fa"/><rect x="322.82" y="23.98" width="5.1" height="17.33" fill="#bbd4f5"/><rect x="322.82" y="29.81" width="5.1" height="9.2" fill="#9dc0ef"/><rect x="331.27" y="15.24" width="5.1" height="33.74" fill="#f6f6f8"/><rect x="331.27" y="24.9" width="5.1" height="22.55" fill="#d9e7fa"/><rect x="331.27" y="32.11" width="5.1" height="13.8" fill="#bbd4f5"/><rect x="331.27" y="36.71" width="5.1" height="7.67" fill="#9dc0ef"/><line x1="235.7" y1="9.6" x2="235.7" y2="53.6" stroke="#1a1a1a" stroke-width="1.05"/><line x1="235.2" y1="53.6" x2="338.9" y2="53.6" stroke="#1a1a1a" stroke-width="1.05"/><line x1="232.89999999999998" y1="51.6" x2="235.7" y2="51.6" stroke="#222" stroke-width="0.9"/><text transform="translate(231,53.85) scale(1,1.05)" text-anchor="end" font-size="5.8" fill="#1a1a1a" stroke="#1a1a1a" stroke-width="0.07">0.0</text><line x1="232.89999999999998" y1="43.6" x2="235.7" y2="43.6" stroke="#222" stroke-width="0.9"/><text transform="translate(231,45.85) scale(1,1.05)" text-anchor="end" font-size="5.8" fill="#1a1a1a" stroke="#1a1a1a" stroke-width="0.07">0.1</text><line x1="232.89999999999998" y1="35.6" x2="235.7" y2="35.6" stroke="#222" stroke-width="0.9"/><text transform="translate(231,37.85) scale(1,1.05)" text-anchor="end" font-size="5.8" fill="#1a1a1a" stroke="#1a1a1a" stroke-width="0.07">0.2</text><line x1="232.89999999999998" y1="27.6" x2="235.7" y2="27.6" stroke="#222" stroke-width="0.9"/><text transform="translate(231,29.85) scale(1,1.05)" text-anchor="end" font-size="5.8" fill="#1a1a1a" stroke="#1a1a1a" stroke-width="0.07">0.3</text><line x1="232.89999999999998" y1="19.6" x2="235.7" y2="19.6" stroke="#222" stroke-width="0.9"/><text transform="translate(231,21.85) scale(1,1.05)" text-anchor="end" font-size="5.8" fill="#1a1a1a" stroke="#1a1a1a" stroke-width="0.07">0.4</text><line x1="232.89999999999998" y1="11.6" x2="235.7" y2="11.6" stroke="#222" stroke-width="0.9"/><text transform="translate(231,13.85) scale(1,1.05)" text-anchor="end" font-size="5.8" fill="#1a1a1a" stroke="#1a1a1a" stroke-width="0.07">0.5</text><line x1="240.78" y1="53.6" x2="240.78" y2="56.4" stroke="#222" stroke-width="0.9"/><text transform="translate(240.78,62.9) scale(1,1.05)" text-anchor="middle" font-size="5.8" fill="#1a1a1a" stroke="#1a1a1a" stroke-width="0.07">1</text><line x1="249.23" y1="53.6" x2="249.23" y2="56.4" stroke="#222" stroke-width="0.9"/><text transform="translate(249.23,62.9) scale(1,1.05)" text-anchor="middle" font-size="5.8" fill="#1a1a1a" stroke="#1a1a1a" stroke-width="0.07">2</text><line x1="257.69" y1="53.6" x2="257.69" y2="56.4" stroke="#222" stroke-width="0.9"/><text transform="translate(257.69,62.9) scale(1,1.05)" text-anchor="middle" font-size="5.8" fill="#1a1a1a" stroke="#1a1a1a" stroke-width="0.07">3</text><line x1="266.15" y1="53.6" x2="266.15" y2="56.4" stroke="#222" stroke-width="0.9"/><text transform="translate(266.15,62.9) scale(1,1.05)" text-anchor="middle" font-size="5.8" fill="#1a1a1a" stroke="#1a1a1a" stroke-width="0.07">4</text><line x1="274.61" y1="53.6" x2="274.61" y2="56.4" stroke="#222" stroke-width="0.9"/><text transform="translate(274.61,62.9) scale(1,1.05)" text-anchor="middle" font-size="5.8" fill="#1a1a1a" stroke="#1a1a1a" stroke-width="0.07">5</text><line x1="283.07" y1="53.6" x2="283.07" y2="56.4" stroke="#222" stroke-width="0.9"/><text transform="translate(283.07,62.9) scale(1,1.05)" text-anchor="middle" font-size="5.8" fill="#1a1a1a" stroke="#1a1a1a" stroke-width="0.07">6</text><line x1="291.53" y1="53.6" x2="291.53" y2="56.4" stroke="#222" stroke-width="0.9"/><text transform="translate(291.53,62.9) scale(1,1.05)" text-anchor="middle" font-size="5.8" fill="#1a1a1a" stroke="#1a1a1a" stroke-width="0.07">7</text><line x1="299.99" y1="53.6" x2="299.99" y2="56.4" stroke="#222" stroke-width="0.9"/><text transform="translate(299.99,62.9) scale(1,1.05)" text-anchor="middle" font-size="5.8" fill="#1a1a1a" stroke="#1a1a1a" stroke-width="0.07">8</text><line x1="308.45" y1="53.6" x2="308.45" y2="56.4" stroke="#222" stroke-width="0.9"/><text transform="translate(308.45,62.9) scale(1,1.05)" text-anchor="middle" font-size="5.8" fill="#1a1a1a" stroke="#1a1a1a" stroke-width="0.07">9</text><line x1="316.91" y1="53.6" x2="316.91" y2="56.4" stroke="#222" stroke-width="0.9"/><text transform="translate(316.91,62.9) scale(1,1.05)" text-anchor="middle" font-size="5.8" fill="#1a1a1a" stroke="#1a1a1a" stroke-width="0.07">10</text><line x1="325.37" y1="53.6" x2="325.37" y2="56.4" stroke="#222" stroke-width="0.9"/><text transform="translate(325.37,62.9) scale(1,1.05)" text-anchor="middle" font-size="5.8" fill="#1a1a1a" stroke="#1a1a1a" stroke-width="0.07">11</text><line x1="333.82" y1="53.6" x2="333.82" y2="56.4" stroke="#222" stroke-width="0.9"/><text transform="translate(333.82,62.9) scale(1,1.05)" text-anchor="middle" font-size="5.8" fill="#1a1a1a" stroke="#1a1a1a" stroke-width="0.07">12</text><polyline points="240.78,41.31 249.23,43 257.69,40.54 266.15,38.7 274.61,39.47 283.07,36.71 291.53,35.63 299.99,36.25 308.45,37.78 316.91,35.63 325.37,35.48 333.82,41.77" fill="none" stroke="#1c58a8" stroke-width="2.3" stroke-linejoin="round"/><circle cx="240.78" cy="41.31" r="1.6" fill="#fff" stroke="#1c58a8" stroke-width="1.1"/><circle cx="249.23" cy="43" r="1.6" fill="#fff" stroke="#1c58a8" stroke-width="1.1"/><circle cx="257.69" cy="40.54" r="1.6" fill="#fff" stroke="#1c58a8" stroke-width="1.1"/><circle cx="266.15" cy="38.7" r="1.6" fill="#fff" stroke="#1c58a8" stroke-width="1.1"/><circle cx="274.61" cy="39.47" r="1.6" fill="#fff" stroke="#1c58a8" stroke-width="1.1"/><circle cx="283.07" cy="36.71" r="1.6" fill="#fff" stroke="#1c58a8" stroke-width="1.1"/><circle cx="291.53" cy="35.63" r="1.6" fill="#fff" stroke="#1c58a8" stroke-width="1.1"/><circle cx="299.99" cy="36.25" r="1.6" fill="#fff" stroke="#1c58a8" stroke-width="1.1"/><circle cx="308.45" cy="37.78" r="1.6" fill="#fff" stroke="#1c58a8" stroke-width="1.1"/><circle cx="316.91" cy="35.63" r="1.6" fill="#fff" stroke="#1c58a8" stroke-width="1.1"/><circle cx="325.37" cy="35.48" r="1.6" fill="#fff" stroke="#1c58a8" stroke-width="1.1"/><circle cx="333.82" cy="41.77" r="1.6" fill="#fff" stroke="#1c58a8" stroke-width="1.1"/><text transform="translate(217.9,7.8)" font-size="10.9" font-weight="bold" fill="#000" stroke="#000" stroke-width="0.15">e2</text><text transform="translate(287.3,5.6) scale(1,1.12)" text-anchor="middle" font-size="6.3" font-weight="bold" fill="#111" stroke="#111" stroke-width="0.07">unsuitable land</text><text transform="translate(287.3,71.9)" text-anchor="middle" font-size="6.3" fill="#1a1a1a" stroke="#1a1a1a" stroke-width="0.07">month of the year</text><text transform="translate(218.3,31.6) rotate(-90)" text-anchor="middle" font-size="6.3" fill="#1a1a1a" stroke="#1a1a1a" stroke-width="0.07">suitability</text></g><g transform="translate(345.45,316.9)"><rect x="35.23" y="41.8" width="8.4" height="78.32" fill="#ececec"/><rect x="35.23" y="63.19" width="8.4" height="53.58" fill="#d8d8d8"/><rect x="35.23" y="72.3" width="8.4" height="33.75" fill="#c0c0c0"/><rect x="35.23" y="82.21" width="8.4" height="13.8" fill="#a2a2a2"/><rect x="46.95" y="49.13" width="8.4" height="70.99" fill="#ececec"/><rect x="46.95" y="67.21" width="8.4" height="44.87" fill="#d8d8d8"/><rect x="46.95" y="77.25" width="8.4" height="26.12" fill="#c0c0c0"/><rect x="46.95" y="86.23" width="8.4" height="10.45" fill="#a2a2a2"/><rect x="58.68" y="66.54" width="8.4" height="53.58" fill="#ececec"/><rect x="58.68" y="84.62" width="8.4" height="33.49" fill="#d8d8d8"/><rect x="58.68" y="94.67" width="8.4" height="21.43" fill="#c0c0c0"/><rect x="58.68" y="102.03" width="8.4" height="14.06" fill="#a2a2a2"/><rect x="70.4" y="73.24" width="8.4" height="46.88" fill="#ececec"/><rect x="70.4" y="87.3" width="8.4" height="30.81" fill="#d8d8d8"/><rect x="70.4" y="96.41" width="8.4" height="21.7" fill="#c0c0c0"/><rect x="70.4" y="104.98" width="8.4" height="13.13" fill="#a2a2a2"/><rect x="82.12" y="70.56" width="8.4" height="49.56" fill="#ececec"/><rect x="82.12" y="78.59" width="8.4" height="40.18" fill="#d8d8d8"/><rect x="82.12" y="89.98" width="8.4" height="26.12" fill="#c0c0c0"/><rect x="82.12" y="96.68" width="8.4" height="14.73" fill="#a2a2a2"/><rect x="93.84" y="51.4" width="8.4" height="68.71" fill="#ececec"/><rect x="93.84" y="63.19" width="8.4" height="52.24" fill="#d8d8d8"/><rect x="93.84" y="69.22" width="8.4" height="35.49" fill="#c0c0c0"/><rect x="93.84" y="75.25" width="8.4" height="18.08" fill="#a2a2a2"/><rect x="105.56" y="41.2" width="8.4" height="74.9" fill="#ececec"/><rect x="105.56" y="53.82" width="8.4" height="52.24" fill="#d8d8d8"/><rect x="105.56" y="60.51" width="8.4" height="33.49" fill="#c0c0c0"/><rect x="105.56" y="66.94" width="8.4" height="14.33" fill="#a2a2a2"/><rect x="117.28" y="39" width="8.4" height="77.1" fill="#ececec"/><rect x="117.28" y="55.15" width="8.4" height="42.86" fill="#d8d8d8"/><rect x="117.28" y="61.85" width="8.4" height="24.11" fill="#c0c0c0"/><rect x="117.28" y="67.21" width="8.4" height="11.38" fill="#a2a2a2"/><rect x="129" y="39" width="8.4" height="81.12" fill="#ececec"/><rect x="129" y="54.48" width="8.4" height="54.25" fill="#d8d8d8"/><rect x="129" y="62.52" width="8.4" height="31.48" fill="#c0c0c0"/><rect x="129" y="69.89" width="8.4" height="12.05" fill="#a2a2a2"/><rect x="140.72" y="28" width="8.4" height="92.12" fill="#ececec"/><rect x="140.72" y="38.6" width="8.4" height="71.47" fill="#d8d8d8"/><rect x="140.72" y="53.15" width="8.4" height="40.85" fill="#c0c0c0"/><rect x="140.72" y="65.6" width="8.4" height="18.35" fill="#a2a2a2"/><rect x="152.45" y="33.7" width="8.4" height="86.42" fill="#ececec"/><rect x="152.45" y="48.73" width="8.4" height="54.65" fill="#d8d8d8"/><rect x="152.45" y="61.18" width="8.4" height="29.47" fill="#c0c0c0"/><rect x="152.45" y="69.89" width="8.4" height="12.05" fill="#a2a2a2"/><rect x="164.17" y="33.3" width="8.4" height="86.82" fill="#ececec"/><rect x="164.17" y="57.16" width="8.4" height="44.87" fill="#d8d8d8"/><rect x="164.17" y="67.21" width="8.4" height="25.45" fill="#c0c0c0"/><rect x="164.17" y="74.17" width="8.4" height="11.79" fill="#a2a2a2"/><line x1="32.4" y1="14.5" x2="32.4" y2="125.6" stroke="#222" stroke-width="1.1"/><line x1="31.9" y1="125.6" x2="175.4" y2="125.6" stroke="#222" stroke-width="1.1"/><line x1="175.4" y1="14.5" x2="175.4" y2="126.1" stroke="#d6006c" stroke-width="1.1"/><line x1="29.7" y1="120.6" x2="32.4" y2="120.6" stroke="#333" stroke-width="1"/><text transform="translate(27.2,123.65) scale(1,1.12)" text-anchor="end" font-size="7.7" fill="#1a1a1a" stroke="#1a1a1a" stroke-width="0.15">0.00</text><line x1="29.7" y1="88.69" x2="32.4" y2="88.69" stroke="#333" stroke-width="1"/><text transform="translate(27.2,91.74) scale(1,1.12)" text-anchor="end" font-size="7.7" fill="#1a1a1a" stroke="#1a1a1a" stroke-width="0.15">0.10</text><line x1="29.7" y1="70.15" x2="32.4" y2="70.15" stroke="#333" stroke-width="1"/><text transform="translate(27.2,73.2) scale(1,1.12)" text-anchor="end" font-size="7.7" fill="#1a1a1a" stroke="#1a1a1a" stroke-width="0.15">0.25</text><line x1="29.7" y1="49.25" x2="32.4" y2="49.25" stroke="#333" stroke-width="1"/><text transform="translate(27.2,52.3) scale(1,1.12)" text-anchor="end" font-size="7.7" fill="#1a1a1a" stroke="#1a1a1a" stroke-width="0.15">0.50</text><line x1="29.7" y1="33.22" x2="32.4" y2="33.22" stroke="#333" stroke-width="1"/><text transform="translate(27.2,36.27) scale(1,1.12)" text-anchor="end" font-size="7.7" fill="#1a1a1a" stroke="#1a1a1a" stroke-width="0.15">0.75</text><line x1="29.7" y1="24.88" x2="32.4" y2="24.88" stroke="#333" stroke-width="1"/><text transform="translate(27.2,27.93) scale(1,1.12)" text-anchor="end" font-size="7.7" fill="#1a1a1a" stroke="#1a1a1a" stroke-width="0.15">0.90</text><line x1="29.7" y1="19.7" x2="32.4" y2="19.7" stroke="#333" stroke-width="1"/><text transform="translate(27.2,22.75) scale(1,1.12)" text-anchor="end" font-size="7.7" fill="#1a1a1a" stroke="#1a1a1a" stroke-width="0.15">1.00</text><line x1="175.4" y1="88.69" x2="178.1" y2="88.69" stroke="#d6006c" stroke-width="1"/><text transform="translate(180.4,91.74) scale(1,1.12)" font-size="7.7" fill="#d6006c" stroke="#d6006c" stroke-width="0.15">0.10</text><line x1="175.4" y1="70.15" x2="178.1" y2="70.15" stroke="#d6006c" stroke-width="1"/><text transform="translate(180.4,73.2) scale(1,1.12)" font-size="7.7" fill="#d6006c" stroke="#d6006c" stroke-width="0.15">0.25</text><line x1="175.4" y1="49.25" x2="178.1" y2="49.25" stroke="#d6006c" stroke-width="1"/><text transform="translate(180.4,52.3) scale(1,1.12)" font-size="7.7" fill="#d6006c" stroke="#d6006c" stroke-width="0.15">0.50</text><line x1="175.4" y1="33.22" x2="178.1" y2="33.22" stroke="#d6006c" stroke-width="1"/><text transform="translate(180.4,36.27) scale(1,1.12)" font-size="7.7" fill="#d6006c" stroke="#d6006c" stroke-width="0.15">0.75</text><line x1="175.4" y1="24.88" x2="178.1" y2="24.88" stroke="#d6006c" stroke-width="1"/><text transform="translate(180.4,27.93) scale(1,1.12)" font-size="7.7" fill="#d6006c" stroke="#d6006c" stroke-width="0.15">0.90</text><line x1="175.4" y1="19.7" x2="178.1" y2="19.7" stroke="#d6006c" stroke-width="1"/><text transform="translate(180.4,22.75) scale(1,1.12)" font-size="7.7" fill="#d6006c" stroke="#d6006c" stroke-width="0.15">1.00</text><line x1="39.43" y1="125.6" x2="39.43" y2="128.6" stroke="#333" stroke-width="1"/><text transform="translate(39.43,136.8) scale(1,1.12)" text-anchor="middle" font-size="7.7" fill="#1a1a1a" stroke="#1a1a1a" stroke-width="0.15">1</text><line x1="51.15" y1="125.6" x2="51.15" y2="128.6" stroke="#333" stroke-width="1"/><text transform="translate(51.15,136.8) scale(1,1.12)" text-anchor="middle" font-size="7.7" fill="#1a1a1a" stroke="#1a1a1a" stroke-width="0.15">2</text><line x1="62.88" y1="125.6" x2="62.88" y2="128.6" stroke="#333" stroke-width="1"/><text transform="translate(62.88,136.8) scale(1,1.12)" text-anchor="middle" font-size="7.7" fill="#1a1a1a" stroke="#1a1a1a" stroke-width="0.15">3</text><line x1="74.6" y1="125.6" x2="74.6" y2="128.6" stroke="#333" stroke-width="1"/><text transform="translate(74.6,136.8) scale(1,1.12)" text-anchor="middle" font-size="7.7" fill="#1a1a1a" stroke="#1a1a1a" stroke-width="0.15">4</text><line x1="86.32" y1="125.6" x2="86.32" y2="128.6" stroke="#333" stroke-width="1"/><text transform="translate(86.32,136.8) scale(1,1.12)" text-anchor="middle" font-size="7.7" fill="#1a1a1a" stroke="#1a1a1a" stroke-width="0.15">5</text><line x1="98.04" y1="125.6" x2="98.04" y2="128.6" stroke="#333" stroke-width="1"/><text transform="translate(98.04,136.8) scale(1,1.12)" text-anchor="middle" font-size="7.7" fill="#1a1a1a" stroke="#1a1a1a" stroke-width="0.15">6</text><line x1="109.76" y1="125.6" x2="109.76" y2="128.6" stroke="#333" stroke-width="1"/><text transform="translate(109.76,136.8) scale(1,1.12)" text-anchor="middle" font-size="7.7" fill="#1a1a1a" stroke="#1a1a1a" stroke-width="0.15">7</text><line x1="121.48" y1="125.6" x2="121.48" y2="128.6" stroke="#333" stroke-width="1"/><text transform="translate(121.48,136.8) scale(1,1.12)" text-anchor="middle" font-size="7.7" fill="#1a1a1a" stroke="#1a1a1a" stroke-width="0.15">8</text><line x1="133.2" y1="125.6" x2="133.2" y2="128.6" stroke="#333" stroke-width="1"/><text transform="translate(133.2,136.8) scale(1,1.12)" text-anchor="middle" font-size="7.7" fill="#1a1a1a" stroke="#1a1a1a" stroke-width="0.15">9</text><line x1="144.92" y1="125.6" x2="144.92" y2="128.6" stroke="#333" stroke-width="1"/><text transform="translate(144.92,136.8) scale(1,1.12)" text-anchor="middle" font-size="7.7" fill="#1a1a1a" stroke="#1a1a1a" stroke-width="0.15">10</text><line x1="156.65" y1="125.6" x2="156.65" y2="128.6" stroke="#333" stroke-width="1"/><text transform="translate(156.65,136.8) scale(1,1.12)" text-anchor="middle" font-size="7.7" fill="#1a1a1a" stroke="#1a1a1a" stroke-width="0.15">11</text><line x1="168.37" y1="125.6" x2="168.37" y2="128.6" stroke="#333" stroke-width="1"/><text transform="translate(168.37,136.8) scale(1,1.12)" text-anchor="middle" font-size="7.7" fill="#1a1a1a" stroke="#1a1a1a" stroke-width="0.15">12</text><polyline points="39.43,89.71 51.15,93.33 62.88,112.08 74.6,115.16 86.32,106.05 98.04,80.6 109.76,74.98 121.48,71.9 133.2,75.25 144.92,74.58 156.65,77.66 168.37,80.34" fill="none" stroke="#262626" stroke-width="2.9" stroke-linejoin="round"/><circle cx="39.43" cy="89.71" r="2.4" fill="#fff" stroke="#262626" stroke-width="1.5"/><circle cx="51.15" cy="93.33" r="2.4" fill="#fff" stroke="#262626" stroke-width="1.5"/><circle cx="62.88" cy="112.08" r="2.4" fill="#fff" stroke="#262626" stroke-width="1.5"/><circle cx="74.6" cy="115.16" r="2.4" fill="#fff" stroke="#262626" stroke-width="1.5"/><circle cx="86.32" cy="106.05" r="2.4" fill="#fff" stroke="#262626" stroke-width="1.5"/><circle cx="98.04" cy="80.6" r="2.4" fill="#fff" stroke="#262626" stroke-width="1.5"/><circle cx="109.76" cy="74.98" r="2.4" fill="#fff" stroke="#262626" stroke-width="1.5"/><circle cx="121.48" cy="71.9" r="2.4" fill="#fff" stroke="#262626" stroke-width="1.5"/><circle cx="133.2" cy="75.25" r="2.4" fill="#fff" stroke="#262626" stroke-width="1.5"/><circle cx="144.92" cy="74.58" r="2.4" fill="#fff" stroke="#262626" stroke-width="1.5"/><circle cx="156.65" cy="77.66" r="2.4" fill="#fff" stroke="#262626" stroke-width="1.5"/><circle cx="168.37" cy="80.34" r="2.4" fill="#fff" stroke="#262626" stroke-width="1.5"/><polyline points="39.43,100.96 51.15,104.44 62.88,116.77 74.6,120.52 86.32,119.85 98.04,108.46 109.76,93.73 121.48,92.93 133.2,92.66 144.92,72.83 156.65,83.95 168.37,91.59" fill="none" stroke="#d6006c" stroke-width="1.6" stroke-linejoin="round"/><circle cx="39.43" cy="100.96" r="1.5" fill="#fff" stroke="#d6006c" stroke-width="1.0"/><circle cx="51.15" cy="104.44" r="1.5" fill="#fff" stroke="#d6006c" stroke-width="1.0"/><circle cx="62.88" cy="116.77" r="1.5" fill="#fff" stroke="#d6006c" stroke-width="1.0"/><circle cx="74.6" cy="120.52" r="1.5" fill="#fff" stroke="#d6006c" stroke-width="1.0"/><circle cx="86.32" cy="119.85" r="1.5" fill="#fff" stroke="#d6006c" stroke-width="1.0"/><circle cx="98.04" cy="108.46" r="1.5" fill="#fff" stroke="#d6006c" stroke-width="1.0"/><circle cx="109.76" cy="93.73" r="1.5" fill="#fff" stroke="#d6006c" stroke-width="1.0"/><circle cx="121.48" cy="92.93" r="1.5" fill="#fff" stroke="#d6006c" stroke-width="1.0"/><circle cx="133.2" cy="92.66" r="1.5" fill="#fff" stroke="#d6006c" stroke-width="1.0"/><circle cx="144.92" cy="72.83" r="1.5" fill="#fff" stroke="#d6006c" stroke-width="1.0"/><circle cx="156.65" cy="83.95" r="1.5" fill="#fff" stroke="#d6006c" stroke-width="1.0"/><circle cx="168.37" cy="91.59" r="1.5" fill="#fff" stroke="#d6006c" stroke-width="1.0"/><text transform="translate(-0.2,7.7)" font-size="10.9" font-weight="bold" fill="#000" stroke="#000" stroke-width="0.15">F</text><text transform="translate(103.9,10.9) scale(1,1.12)" text-anchor="middle" font-size="8.0" font-weight="bold" fill="#111" stroke="#111" stroke-width="0.15">Archipelago: Canaries</text><text transform="translate(103.9,147.1)" text-anchor="middle" font-size="8" fill="#1a1a1a" stroke="#1a1a1a" stroke-width="0.15">month of the year</text><text transform="translate(7.4,70.6) rotate(-90)" text-anchor="middle" font-size="8" fill="#1a1a1a" stroke="#1a1a1a" stroke-width="0.15">suitability</text><text transform="translate(198,70.6) rotate(90)" text-anchor="middle" font-size="8" fill="#d6006c" stroke="#d6006c" stroke-width="0.15">proportion suitable land</text></g><g transform="translate(345.45,316.9)"><rect x="238.23" y="20.6" width="5.1" height="28.68" fill="#f2eef5"/><rect x="238.23" y="25.2" width="5.1" height="22.55" fill="#ecd6f2"/><rect x="238.23" y="29.8" width="5.1" height="15.64" fill="#e4bde9"/><rect x="238.23" y="33.94" width="5.1" height="8.44" fill="#d9a3dd"/><rect x="246.68" y="21.21" width="5.1" height="28.07" fill="#f2eef5"/><rect x="246.68" y="27.81" width="5.1" height="19.94" fill="#ecd6f2"/><rect x="246.68" y="33.94" width="5.1" height="12.27" fill="#e4bde9"/><rect x="246.68" y="37.01" width="5.1" height="6.9" fill="#d9a3dd"/><rect x="255.14" y="31.64" width="5.1" height="19.17" fill="#f2eef5"/><rect x="255.14" y="35.01" width="5.1" height="14.26" fill="#ecd6f2"/><rect x="255.14" y="40.08" width="5.1" height="6.9" fill="#e4bde9"/><rect x="280.52" y="30.11" width="5.1" height="20.71" fill="#f2eef5"/><rect x="280.52" y="39" width="5.1" height="11.81" fill="#ecd6f2"/><rect x="280.52" y="43.14" width="5.1" height="6.9" fill="#e4bde9"/><rect x="280.52" y="46.67" width="5.1" height="2.61" fill="#d9a3dd"/><rect x="288.98" y="29.8" width="5.1" height="21.01" fill="#f2eef5"/><rect x="288.98" y="34.71" width="5.1" height="16.1" fill="#ecd6f2"/><rect x="288.98" y="39.31" width="5.1" height="9.97" fill="#e4bde9"/><rect x="288.98" y="43.14" width="5.1" height="4.6" fill="#d9a3dd"/><rect x="297.44" y="28.27" width="5.1" height="22.55" fill="#f2eef5"/><rect x="297.44" y="33.48" width="5.1" height="15.8" fill="#ecd6f2"/><rect x="297.44" y="37.01" width="5.1" height="10.74" fill="#e4bde9"/><rect x="297.44" y="40.08" width="5.1" height="6.13" fill="#d9a3dd"/><rect x="305.9" y="27.35" width="5.1" height="23.47" fill="#f2eef5"/><rect x="305.9" y="33.94" width="5.1" height="15.34" fill="#ecd6f2"/><rect x="305.9" y="37.77" width="5.1" height="9.97" fill="#e4bde9"/><rect x="305.9" y="40.84" width="5.1" height="5.37" fill="#d9a3dd"/><rect x="314.36" y="19.06" width="5.1" height="30.98" fill="#f2eef5"/><rect x="314.36" y="25.2" width="5.1" height="22.09" fill="#ecd6f2"/><rect x="314.36" y="30.87" width="5.1" height="13.8" fill="#e4bde9"/><rect x="314.36" y="34.71" width="5.1" height="6.9" fill="#d9a3dd"/><rect x="322.82" y="16.3" width="5.1" height="33.74" fill="#f2eef5"/><rect x="322.82" y="27.81" width="5.1" height="19.94" fill="#ecd6f2"/><rect x="322.82" y="34.71" width="5.1" height="10.74" fill="#e4bde9"/><rect x="322.82" y="37.77" width="5.1" height="5.37" fill="#d9a3dd"/><rect x="331.27" y="16.3" width="5.1" height="33.74" fill="#f2eef5"/><rect x="331.27" y="23.2" width="5.1" height="24.08" fill="#ecd6f2"/><rect x="331.27" y="29.34" width="5.1" height="15.34" fill="#e4bde9"/><rect x="331.27" y="33.94" width="5.1" height="7.67" fill="#d9a3dd"/><line x1="235.7" y1="9.6" x2="235.7" y2="53.6" stroke="#1a1a1a" stroke-width="1.05"/><line x1="235.2" y1="53.6" x2="338.9" y2="53.6" stroke="#1a1a1a" stroke-width="1.05"/><line x1="232.89999999999998" y1="51.6" x2="235.7" y2="51.6" stroke="#222" stroke-width="0.9"/><text transform="translate(231,53.85) scale(1,1.05)" text-anchor="end" font-size="5.8" fill="#1a1a1a" stroke="#1a1a1a" stroke-width="0.07">0.5</text><line x1="232.89999999999998" y1="43.6" x2="235.7" y2="43.6" stroke="#222" stroke-width="0.9"/><text transform="translate(231,45.85) scale(1,1.05)" text-anchor="end" font-size="5.8" fill="#1a1a1a" stroke="#1a1a1a" stroke-width="0.07">0.6</text><line x1="232.89999999999998" y1="35.6" x2="235.7" y2="35.6" stroke="#222" stroke-width="0.9"/><text transform="translate(231,37.85) scale(1,1.05)" text-anchor="end" font-size="5.8" fill="#1a1a1a" stroke="#1a1a1a" stroke-width="0.07">0.7</text><line x1="232.89999999999998" y1="27.6" x2="235.7" y2="27.6" stroke="#222" stroke-width="0.9"/><text transform="translate(231,29.85) scale(1,1.05)" text-anchor="end" font-size="5.8" fill="#1a1a1a" stroke="#1a1a1a" stroke-width="0.07">0.8</text><line x1="232.89999999999998" y1="19.6" x2="235.7" y2="19.6" stroke="#222" stroke-width="0.9"/><text transform="translate(231,21.85) scale(1,1.05)" text-anchor="end" font-size="5.8" fill="#1a1a1a" stroke="#1a1a1a" stroke-width="0.07">0.9</text><line x1="232.89999999999998" y1="11.6" x2="235.7" y2="11.6" stroke="#222" stroke-width="0.9"/><text transform="translate(231,13.85) scale(1,1.05)" text-anchor="end" font-size="5.8" fill="#1a1a1a" stroke="#1a1a1a" stroke-width="0.07">1.0</text><line x1="240.78" y1="53.6" x2="240.78" y2="56.4" stroke="#222" stroke-width="0.9"/><text transform="translate(240.78,62.9) scale(1,1.05)" text-anchor="middle" font-size="5.8" fill="#1a1a1a" stroke="#1a1a1a" stroke-width="0.07">1</text><line x1="249.23" y1="53.6" x2="249.23" y2="56.4" stroke="#222" stroke-width="0.9"/><text transform="translate(249.23,62.9) scale(1,1.05)" text-anchor="middle" font-size="5.8" fill="#1a1a1a" stroke="#1a1a1a" stroke-width="0.07">2</text><line x1="257.69" y1="53.6" x2="257.69" y2="56.4" stroke="#222" stroke-width="0.9"/><text transform="translate(257.69,62.9) scale(1,1.05)" text-anchor="middle" font-size="5.8" fill="#1a1a1a" stroke="#1a1a1a" stroke-width="0.07">3</text><line x1="266.15" y1="53.6" x2="266.15" y2="56.4" stroke="#222" stroke-width="0.9"/><text transform="translate(266.15,62.9) scale(1,1.05)" text-anchor="middle" font-size="5.8" fill="#1a1a1a" stroke="#1a1a1a" stroke-width="0.07">4</text><line x1="274.61" y1="53.6" x2="274.61" y2="56.4" stroke="#222" stroke-width="0.9"/><text transform="translate(274.61,62.9) scale(1,1.05)" text-anchor="middle" font-size="5.8" fill="#1a1a1a" stroke="#1a1a1a" stroke-width="0.07">5</text><line x1="283.07" y1="53.6" x2="283.07" y2="56.4" stroke="#222" stroke-width="0.9"/><text transform="translate(283.07,62.9) scale(1,1.05)" text-anchor="middle" font-size="5.8" fill="#1a1a1a" stroke="#1a1a1a" stroke-width="0.07">6</text><line x1="291.53" y1="53.6" x2="291.53" y2="56.4" stroke="#222" stroke-width="0.9"/><text transform="translate(291.53,62.9) scale(1,1.05)" text-anchor="middle" font-size="5.8" fill="#1a1a1a" stroke="#1a1a1a" stroke-width="0.07">7</text><line x1="299.99" y1="53.6" x2="299.99" y2="56.4" stroke="#222" stroke-width="0.9"/><text transform="translate(299.99,62.9) scale(1,1.05)" text-anchor="middle" font-size="5.8" fill="#1a1a1a" stroke="#1a1a1a" stroke-width="0.07">8</text><line x1="308.45" y1="53.6" x2="308.45" y2="56.4" stroke="#222" stroke-width="0.9"/><text transform="translate(308.45,62.9) scale(1,1.05)" text-anchor="middle" font-size="5.8" fill="#1a1a1a" stroke="#1a1a1a" stroke-width="0.07">9</text><line x1="316.91" y1="53.6" x2="316.91" y2="56.4" stroke="#222" stroke-width="0.9"/><text transform="translate(316.91,62.9) scale(1,1.05)" text-anchor="middle" font-size="5.8" fill="#1a1a1a" stroke="#1a1a1a" stroke-width="0.07">10</text><line x1="325.37" y1="53.6" x2="325.37" y2="56.4" stroke="#222" stroke-width="0.9"/><text transform="translate(325.37,62.9) scale(1,1.05)" text-anchor="middle" font-size="5.8" fill="#1a1a1a" stroke="#1a1a1a" stroke-width="0.07">11</text><line x1="333.82" y1="53.6" x2="333.82" y2="56.4" stroke="#222" stroke-width="0.9"/><text transform="translate(333.82,62.9) scale(1,1.05)" text-anchor="middle" font-size="5.8" fill="#1a1a1a" stroke="#1a1a1a" stroke-width="0.07">12</text><polyline points="240.78,38.54 249.23,40.08 257.69,44.68" fill="none" stroke="#d6006c" stroke-width="2.3" stroke-linejoin="round"/><polyline points="274.61,50.35 283.07,48.51 291.53,45.9 299.99,43.91 308.45,43.6 316.91,37.16 325.37,40.54 333.82,38.08" fill="none" stroke="#d6006c" stroke-width="2.3" stroke-linejoin="round"/><circle cx="240.78" cy="38.54" r="1.6" fill="#fff" stroke="#d6006c" stroke-width="1.1"/><circle cx="249.23" cy="40.08" r="1.6" fill="#fff" stroke="#d6006c" stroke-width="1.1"/><circle cx="257.69" cy="44.68" r="1.6" fill="#fff" stroke="#d6006c" stroke-width="1.1"/><circle cx="274.61" cy="50.35" r="1.6" fill="#fff" stroke="#d6006c" stroke-width="1.1"/><circle cx="283.07" cy="48.51" r="1.6" fill="#fff" stroke="#d6006c" stroke-width="1.1"/><circle cx="291.53" cy="45.9" r="1.6" fill="#fff" stroke="#d6006c" stroke-width="1.1"/><circle cx="299.99" cy="43.91" r="1.6" fill="#fff" stroke="#d6006c" stroke-width="1.1"/><circle cx="308.45" cy="43.6" r="1.6" fill="#fff" stroke="#d6006c" stroke-width="1.1"/><circle cx="316.91" cy="37.16" r="1.6" fill="#fff" stroke="#d6006c" stroke-width="1.1"/><circle cx="325.37" cy="40.54" r="1.6" fill="#fff" stroke="#d6006c" stroke-width="1.1"/><circle cx="333.82" cy="38.08" r="1.6" fill="#fff" stroke="#d6006c" stroke-width="1.1"/><text transform="translate(217.9,7.8)" font-size="10.9" font-weight="bold" fill="#000" stroke="#000" stroke-width="0.15">f1</text><text transform="translate(287.3,5.6) scale(1,1.12)" text-anchor="middle" font-size="6.3" font-weight="bold" fill="#111" stroke="#111" stroke-width="0.07">suitable land</text><text transform="translate(287.3,71.9)" text-anchor="middle" font-size="6.3" fill="#1a1a1a" stroke="#1a1a1a" stroke-width="0.07">month of the year</text><text transform="translate(218.3,31.6) rotate(-90)" text-anchor="middle" font-size="6.3" fill="#1a1a1a" stroke="#1a1a1a" stroke-width="0.07">suitability</text></g><g transform="translate(345.45,396.2)"><rect x="238.23" y="17.84" width="5.1" height="33.13" fill="#f6f6f8"/><rect x="238.23" y="28.27" width="5.1" height="21.47" fill="#d9e7fa"/><rect x="238.23" y="34.41" width="5.1" height="13.8" fill="#bbd4f5"/><rect x="238.23" y="39.01" width="5.1" height="7.67" fill="#9dc0ef"/><rect x="246.68" y="20.3" width="5.1" height="30.67" fill="#f6f6f8"/><rect x="246.68" y="30.57" width="5.1" height="19.48" fill="#d9e7fa"/><rect x="246.68" y="37.47" width="5.1" height="11.5" fill="#bbd4f5"/><rect x="246.68" y="41.31" width="5.1" height="6.13" fill="#9dc0ef"/><rect x="255.14" y="29.04" width="5.1" height="22.24" fill="#f6f6f8"/><rect x="255.14" y="41.31" width="5.1" height="9.2" fill="#d9e7fa"/><rect x="255.14" y="45.91" width="5.1" height="3.83" fill="#bbd4f5"/><rect x="263.6" y="33.64" width="5.1" height="17.64" fill="#f6f6f8"/><rect x="263.6" y="42.84" width="5.1" height="8.44" fill="#d9e7fa"/><rect x="263.6" y="46.68" width="5.1" height="3.83" fill="#bbd4f5"/><rect x="272.06" y="32.11" width="5.1" height="18.87" fill="#f6f6f8"/><rect x="272.06" y="37.47" width="5.1" height="13.5" fill="#d9e7fa"/><rect x="272.06" y="43.61" width="5.1" height="7.36" fill="#bbd4f5"/><rect x="272.06" y="46.68" width="5.1" height="3.07" fill="#9dc0ef"/><rect x="280.52" y="16.77" width="5.1" height="34.2" fill="#f6f6f8"/><rect x="280.52" y="25.97" width="5.1" height="23.47" fill="#d9e7fa"/><rect x="280.52" y="31.34" width="5.1" height="16.1" fill="#bbd4f5"/><rect x="280.52" y="36.71" width="5.1" height="8.44" fill="#9dc0ef"/><rect x="288.98" y="13.7" width="5.1" height="36.04" fill="#f6f6f8"/><rect x="288.98" y="19.84" width="5.1" height="27.61" fill="#d9e7fa"/><rect x="288.98" y="25.97" width="5.1" height="19.17" fill="#bbd4f5"/><rect x="288.98" y="31.34" width="5.1" height="10.74" fill="#9dc0ef"/><rect x="297.44" y="14.47" width="5.1" height="34.51" fill="#f6f6f8"/><rect x="297.44" y="21.83" width="5.1" height="24.85" fill="#d9e7fa"/><rect x="297.44" y="26.74" width="5.1" height="16.87" fill="#bbd4f5"/><rect x="297.44" y="31.34" width="5.1" height="9.2" fill="#9dc0ef"/><rect x="305.9" y="14.47" width="5.1" height="35.28" fill="#f6f6f8"/><rect x="305.9" y="21.83" width="5.1" height="25.61" fill="#d9e7fa"/><rect x="305.9" y="28.27" width="5.1" height="16.87" fill="#bbd4f5"/><rect x="305.9" y="32.87" width="5.1" height="9.97" fill="#9dc0ef"/><rect x="314.36" y="14.47" width="5.1" height="36.04" fill="#f6f6f8"/><rect x="314.36" y="22.14" width="5.1" height="26.07" fill="#d9e7fa"/><rect x="314.36" y="29.81" width="5.1" height="16.87" fill="#bbd4f5"/><rect x="314.36" y="35.17" width="5.1" height="9.2" fill="#9dc0ef"/><rect x="322.82" y="14.47" width="5.1" height="35.58" fill="#f6f6f8"/><rect x="322.82" y="22.44" width="5.1" height="25.46" fill="#d9e7fa"/><rect x="322.82" y="29.81" width="5.1" height="16.1" fill="#bbd4f5"/><rect x="322.82" y="35.17" width="5.1" height="8.44" fill="#9dc0ef"/><rect x="331.27" y="16.31" width="5.1" height="33.74" fill="#f6f6f8"/><rect x="331.27" y="25.97" width="5.1" height="22.24" fill="#d9e7fa"/><rect x="331.27" y="32.11" width="5.1" height="14.57" fill="#bbd4f5"/><rect x="331.27" y="36.71" width="5.1" height="7.67" fill="#9dc0ef"/><line x1="235.7" y1="9.6" x2="235.7" y2="53.6" stroke="#1a1a1a" stroke-width="1.05"/><line x1="235.2" y1="53.6" x2="338.9" y2="53.6" stroke="#1a1a1a" stroke-width="1.05"/><line x1="232.89999999999998" y1="51.6" x2="235.7" y2="51.6" stroke="#222" stroke-width="0.9"/><text transform="translate(231,53.85) scale(1,1.05)" text-anchor="end" font-size="5.8" fill="#1a1a1a" stroke="#1a1a1a" stroke-width="0.07">0.0</text><line x1="232.89999999999998" y1="43.6" x2="235.7" y2="43.6" stroke="#222" stroke-width="0.9"/><text transform="translate(231,45.85) scale(1,1.05)" text-anchor="end" font-size="5.8" fill="#1a1a1a" stroke="#1a1a1a" stroke-width="0.07">0.1</text><line x1="232.89999999999998" y1="35.6" x2="235.7" y2="35.6" stroke="#222" stroke-width="0.9"/><text transform="translate(231,37.85) scale(1,1.05)" text-anchor="end" font-size="5.8" fill="#1a1a1a" stroke="#1a1a1a" stroke-width="0.07">0.2</text><line x1="232.89999999999998" y1="27.6" x2="235.7" y2="27.6" stroke="#222" stroke-width="0.9"/><text transform="translate(231,29.85) scale(1,1.05)" text-anchor="end" font-size="5.8" fill="#1a1a1a" stroke="#1a1a1a" stroke-width="0.07">0.3</text><line x1="232.89999999999998" y1="19.6" x2="235.7" y2="19.6" stroke="#222" stroke-width="0.9"/><text transform="translate(231,21.85) scale(1,1.05)" text-anchor="end" font-size="5.8" fill="#1a1a1a" stroke="#1a1a1a" stroke-width="0.07">0.4</text><line x1="232.89999999999998" y1="11.6" x2="235.7" y2="11.6" stroke="#222" stroke-width="0.9"/><text transform="translate(231,13.85) scale(1,1.05)" text-anchor="end" font-size="5.8" fill="#1a1a1a" stroke="#1a1a1a" stroke-width="0.07">0.5</text><line x1="240.78" y1="53.6" x2="240.78" y2="56.4" stroke="#222" stroke-width="0.9"/><text transform="translate(240.78,62.9) scale(1,1.05)" text-anchor="middle" font-size="5.8" fill="#1a1a1a" stroke="#1a1a1a" stroke-width="0.07">1</text><line x1="249.23" y1="53.6" x2="249.23" y2="56.4" stroke="#222" stroke-width="0.9"/><text transform="translate(249.23,62.9) scale(1,1.05)" text-anchor="middle" font-size="5.8" fill="#1a1a1a" stroke="#1a1a1a" stroke-width="0.07">2</text><line x1="257.69" y1="53.6" x2="257.69" y2="56.4" stroke="#222" stroke-width="0.9"/><text transform="translate(257.69,62.9) scale(1,1.05)" text-anchor="middle" font-size="5.8" fill="#1a1a1a" stroke="#1a1a1a" stroke-width="0.07">3</text><line x1="266.15" y1="53.6" x2="266.15" y2="56.4" stroke="#222" stroke-width="0.9"/><text transform="translate(266.15,62.9) scale(1,1.05)" text-anchor="middle" font-size="5.8" fill="#1a1a1a" stroke="#1a1a1a" stroke-width="0.07">4</text><line x1="274.61" y1="53.6" x2="274.61" y2="56.4" stroke="#222" stroke-width="0.9"/><text transform="translate(274.61,62.9) scale(1,1.05)" text-anchor="middle" font-size="5.8" fill="#1a1a1a" stroke="#1a1a1a" stroke-width="0.07">5</text><line x1="283.07" y1="53.6" x2="283.07" y2="56.4" stroke="#222" stroke-width="0.9"/><text transform="translate(283.07,62.9) scale(1,1.05)" text-anchor="middle" font-size="5.8" fill="#1a1a1a" stroke="#1a1a1a" stroke-width="0.07">6</text><line x1="291.53" y1="53.6" x2="291.53" y2="56.4" stroke="#222" stroke-width="0.9"/><text transform="translate(291.53,62.9) scale(1,1.05)" text-anchor="middle" font-size="5.8" fill="#1a1a1a" stroke="#1a1a1a" stroke-width="0.07">7</text><line x1="299.99" y1="53.6" x2="299.99" y2="56.4" stroke="#222" stroke-width="0.9"/><text transform="translate(299.99,62.9) scale(1,1.05)" text-anchor="middle" font-size="5.8" fill="#1a1a1a" stroke="#1a1a1a" stroke-width="0.07">8</text><line x1="308.45" y1="53.6" x2="308.45" y2="56.4" stroke="#222" stroke-width="0.9"/><text transform="translate(308.45,62.9) scale(1,1.05)" text-anchor="middle" font-size="5.8" fill="#1a1a1a" stroke="#1a1a1a" stroke-width="0.07">9</text><line x1="316.91" y1="53.6" x2="316.91" y2="56.4" stroke="#222" stroke-width="0.9"/><text transform="translate(316.91,62.9) scale(1,1.05)" text-anchor="middle" font-size="5.8" fill="#1a1a1a" stroke="#1a1a1a" stroke-width="0.07">10</text><line x1="325.37" y1="53.6" x2="325.37" y2="56.4" stroke="#222" stroke-width="0.9"/><text transform="translate(325.37,62.9) scale(1,1.05)" text-anchor="middle" font-size="5.8" fill="#1a1a1a" stroke="#1a1a1a" stroke-width="0.07">11</text><line x1="333.82" y1="53.6" x2="333.82" y2="56.4" stroke="#222" stroke-width="0.9"/><text transform="translate(333.82,62.9) scale(1,1.05)" text-anchor="middle" font-size="5.8" fill="#1a1a1a" stroke="#1a1a1a" stroke-width="0.07">12</text><polyline points="240.78,44.38 249.23,45.91 257.69,50.82 266.15,50.97 274.61,49.74 283.07,39.01 291.53,35.63 299.99,34.41 308.45,36.71 316.91,40.54 325.37,39.01 333.82,39.78" fill="none" stroke="#1c58a8" stroke-width="2.3" stroke-linejoin="round"/><circle cx="240.78" cy="44.38" r="1.6" fill="#fff" stroke="#1c58a8" stroke-width="1.1"/><circle cx="249.23" cy="45.91" r="1.6" fill="#fff" stroke="#1c58a8" stroke-width="1.1"/><circle cx="257.69" cy="50.82" r="1.6" fill="#fff" stroke="#1c58a8" stroke-width="1.1"/><circle cx="266.15" cy="50.97" r="1.6" fill="#fff" stroke="#1c58a8" stroke-width="1.1"/><circle cx="274.61" cy="49.74" r="1.6" fill="#fff" stroke="#1c58a8" stroke-width="1.1"/><circle cx="283.07" cy="39.01" r="1.6" fill="#fff" stroke="#1c58a8" stroke-width="1.1"/><circle cx="291.53" cy="35.63" r="1.6" fill="#fff" stroke="#1c58a8" stroke-width="1.1"/><circle cx="299.99" cy="34.41" r="1.6" fill="#fff" stroke="#1c58a8" stroke-width="1.1"/><circle cx="308.45" cy="36.71" r="1.6" fill="#fff" stroke="#1c58a8" stroke-width="1.1"/><circle cx="316.91" cy="40.54" r="1.6" fill="#fff" stroke="#1c58a8" stroke-width="1.1"/><circle cx="325.37" cy="39.01" r="1.6" fill="#fff" stroke="#1c58a8" stroke-width="1.1"/><circle cx="333.82" cy="39.78" r="1.6" fill="#fff" stroke="#1c58a8" stroke-width="1.1"/><text transform="translate(217.9,7.8)" font-size="10.9" font-weight="bold" fill="#000" stroke="#000" stroke-width="0.15">f2</text><text transform="translate(287.3,5.6) scale(1,1.12)" text-anchor="middle" font-size="6.3" font-weight="bold" fill="#111" stroke="#111" stroke-width="0.07">unsuitable land</text><text transform="translate(287.3,71.9)" text-anchor="middle" font-size="6.3" fill="#1a1a1a" stroke="#1a1a1a" stroke-width="0.07">month of the year</text><text transform="translate(218.3,31.6) rotate(-90)" text-anchor="middle" font-size="6.3" fill="#1a1a1a" stroke="#1a1a1a" stroke-width="0.07">suitability</text></g><g transform="translate(0,475)"><rect x="35.23" y="31.18" width="8.4" height="72.36" fill="#ececec"/><rect x="35.23" y="38.45" width="8.4" height="47.27" fill="#d8d8d8"/><rect x="35.23" y="45.36" width="8.4" height="33.09" fill="#c0c0c0"/><rect x="35.23" y="53" width="8.4" height="19.09" fill="#a2a2a2"/><rect x="46.95" y="35.18" width="8.4" height="62.36" fill="#ececec"/><rect x="46.95" y="43" width="8.4" height="41.82" fill="#d8d8d8"/><rect x="46.95" y="49.36" width="8.4" height="29.09" fill="#c0c0c0"/><rect x="46.95" y="58.45" width="8.4" height="15.45" fill="#a2a2a2"/><rect x="58.68" y="33.91" width="8.4" height="68.18" fill="#ececec"/><rect x="58.68" y="43" width="8.4" height="49.09" fill="#d8d8d8"/><rect x="58.68" y="53.36" width="8.4" height="26" fill="#c0c0c0"/><rect x="58.68" y="59.91" width="8.4" height="10.91" fill="#a2a2a2"/><rect x="70.4" y="33.91" width="8.4" height="61.82" fill="#ececec"/><rect x="70.4" y="43" width="8.4" height="42.73" fill="#d8d8d8"/><rect x="70.4" y="54.45" width="8.4" height="21.27" fill="#c0c0c0"/><rect x="70.4" y="61.18" width="8.4" height="8.18" fill="#a2a2a2"/><rect x="82.12" y="38.82" width="8.4" height="56.91" fill="#ececec"/><rect x="82.12" y="54.82" width="8.4" height="32.73" fill="#d8d8d8"/><rect x="82.12" y="60.64" width="8.4" height="17.82" fill="#c0c0c0"/><rect x="82.12" y="66.64" width="8.4" height="6.36" fill="#a2a2a2"/><rect x="93.84" y="37" width="8.4" height="57.82" fill="#ececec"/><rect x="93.84" y="48.45" width="8.4" height="38.18" fill="#d8d8d8"/><rect x="93.84" y="56.64" width="8.4" height="23.64" fill="#c0c0c0"/><rect x="93.84" y="63" width="8.4" height="11.82" fill="#a2a2a2"/><rect x="105.56" y="51.18" width="8.4" height="50.91" fill="#ececec"/><rect x="105.56" y="59.91" width="8.4" height="34" fill="#d8d8d8"/><rect x="105.56" y="66.09" width="8.4" height="21.45" fill="#c0c0c0"/><rect x="105.56" y="71.18" width="8.4" height="10.91" fill="#a2a2a2"/><rect x="117.28" y="48.45" width="8.4" height="52.73" fill="#ececec"/><rect x="117.28" y="59.91" width="8.4" height="33.09" fill="#d8d8d8"/><rect x="117.28" y="67.55" width="8.4" height="20.91" fill="#c0c0c0"/><rect x="117.28" y="73" width="8.4" height="10" fill="#a2a2a2"/><rect x="129" y="46.09" width="8.4" height="56" fill="#ececec"/><rect x="129" y="58.82" width="8.4" height="36.91" fill="#d8d8d8"/><rect x="129" y="67.55" width="8.4" height="22.73" fill="#c0c0c0"/><rect x="129" y="73.91" width="8.4" height="11.82" fill="#a2a2a2"/><rect x="140.72" y="56.27" width="8.4" height="44.91" fill="#ececec"/><rect x="140.72" y="66.64" width="8.4" height="30" fill="#d8d8d8"/><rect x="140.72" y="72.09" width="8.4" height="19.09" fill="#c0c0c0"/><rect x="140.72" y="77.55" width="8.4" height="9.09" fill="#a2a2a2"/><rect x="152.45" y="53" width="8.4" height="44.55" fill="#ececec"/><rect x="152.45" y="62.09" width="8.4" height="30.91" fill="#d8d8d8"/><rect x="152.45" y="67.55" width="8.4" height="20" fill="#c0c0c0"/><rect x="152.45" y="73.91" width="8.4" height="10" fill="#a2a2a2"/><rect x="164.17" y="38.45" width="8.4" height="57.27" fill="#ececec"/><rect x="164.17" y="47.55" width="8.4" height="37.27" fill="#d8d8d8"/><rect x="164.17" y="53" width="8.4" height="25.45" fill="#c0c0c0"/><rect x="164.17" y="59.36" width="8.4" height="13.64" fill="#a2a2a2"/><line x1="32.4" y1="14.5" x2="32.4" y2="125.6" stroke="#222" stroke-width="1.1"/><line x1="31.9" y1="125.6" x2="175.4" y2="125.6" stroke="#222" stroke-width="1.1"/><line x1="175.4" y1="14.5" x2="175.4" y2="126.1" stroke="#d6006c" stroke-width="1.1"/><line x1="29.7" y1="120.6" x2="32.4" y2="120.6" stroke="#333" stroke-width="1"/><text transform="translate(27.2,123.65) scale(1,1.12)" text-anchor="end" font-size="7.7" fill="#1a1a1a" stroke="#1a1a1a" stroke-width="0.15">0.00</text><line x1="29.7" y1="88.69" x2="32.4" y2="88.69" stroke="#333" stroke-width="1"/><text transform="translate(27.2,91.74) scale(1,1.12)" text-anchor="end" font-size="7.7" fill="#1a1a1a" stroke="#1a1a1a" stroke-width="0.15">0.10</text><line x1="29.7" y1="70.15" x2="32.4" y2="70.15" stroke="#333" stroke-width="1"/><text transform="translate(27.2,73.2) scale(1,1.12)" text-anchor="end" font-size="7.7" fill="#1a1a1a" stroke="#1a1a1a" stroke-width="0.15">0.25</text><line x1="29.7" y1="49.25" x2="32.4" y2="49.25" stroke="#333" stroke-width="1"/><text transform="translate(27.2,52.3) scale(1,1.12)" text-anchor="end" font-size="7.7" fill="#1a1a1a" stroke="#1a1a1a" stroke-width="0.15">0.50</text><line x1="29.7" y1="33.22" x2="32.4" y2="33.22" stroke="#333" stroke-width="1"/><text transform="translate(27.2,36.27) scale(1,1.12)" text-anchor="end" font-size="7.7" fill="#1a1a1a" stroke="#1a1a1a" stroke-width="0.15">0.75</text><line x1="29.7" y1="24.88" x2="32.4" y2="24.88" stroke="#333" stroke-width="1"/><text transform="translate(27.2,27.93) scale(1,1.12)" text-anchor="end" font-size="7.7" fill="#1a1a1a" stroke="#1a1a1a" stroke-width="0.15">0.90</text><line x1="29.7" y1="19.7" x2="32.4" y2="19.7" stroke="#333" stroke-width="1"/><text transform="translate(27.2,22.75) scale(1,1.12)" text-anchor="end" font-size="7.7" fill="#1a1a1a" stroke="#1a1a1a" stroke-width="0.15">1.00</text><line x1="175.4" y1="88.69" x2="178.1" y2="88.69" stroke="#d6006c" stroke-width="1"/><text transform="translate(180.4,91.74) scale(1,1.12)" font-size="7.7" fill="#d6006c" stroke="#d6006c" stroke-width="0.15">0.10</text><line x1="175.4" y1="70.15" x2="178.1" y2="70.15" stroke="#d6006c" stroke-width="1"/><text transform="translate(180.4,73.2) scale(1,1.12)" font-size="7.7" fill="#d6006c" stroke="#d6006c" stroke-width="0.15">0.25</text><line x1="175.4" y1="49.25" x2="178.1" y2="49.25" stroke="#d6006c" stroke-width="1"/><text transform="translate(180.4,52.3) scale(1,1.12)" font-size="7.7" fill="#d6006c" stroke="#d6006c" stroke-width="0.15">0.50</text><line x1="175.4" y1="33.22" x2="178.1" y2="33.22" stroke="#d6006c" stroke-width="1"/><text transform="translate(180.4,36.27) scale(1,1.12)" font-size="7.7" fill="#d6006c" stroke="#d6006c" stroke-width="0.15">0.75</text><line x1="175.4" y1="24.88" x2="178.1" y2="24.88" stroke="#d6006c" stroke-width="1"/><text transform="translate(180.4,27.93) scale(1,1.12)" font-size="7.7" fill="#d6006c" stroke="#d6006c" stroke-width="0.15">0.90</text><line x1="175.4" y1="19.7" x2="178.1" y2="19.7" stroke="#d6006c" stroke-width="1"/><text transform="translate(180.4,22.75) scale(1,1.12)" font-size="7.7" fill="#d6006c" stroke="#d6006c" stroke-width="0.15">1.00</text><line x1="39.43" y1="125.6" x2="39.43" y2="128.6" stroke="#333" stroke-width="1"/><text transform="translate(39.43,136.8) scale(1,1.12)" text-anchor="middle" font-size="7.7" fill="#1a1a1a" stroke="#1a1a1a" stroke-width="0.15">1</text><line x1="51.15" y1="125.6" x2="51.15" y2="128.6" stroke="#333" stroke-width="1"/><text transform="translate(51.15,136.8) scale(1,1.12)" text-anchor="middle" font-size="7.7" fill="#1a1a1a" stroke="#1a1a1a" stroke-width="0.15">2</text><line x1="62.88" y1="125.6" x2="62.88" y2="128.6" stroke="#333" stroke-width="1"/><text transform="translate(62.88,136.8) scale(1,1.12)" text-anchor="middle" font-size="7.7" fill="#1a1a1a" stroke="#1a1a1a" stroke-width="0.15">3</text><line x1="74.6" y1="125.6" x2="74.6" y2="128.6" stroke="#333" stroke-width="1"/><text transform="translate(74.6,136.8) scale(1,1.12)" text-anchor="middle" font-size="7.7" fill="#1a1a1a" stroke="#1a1a1a" stroke-width="0.15">4</text><line x1="86.32" y1="125.6" x2="86.32" y2="128.6" stroke="#333" stroke-width="1"/><text transform="translate(86.32,136.8) scale(1,1.12)" text-anchor="middle" font-size="7.7" fill="#1a1a1a" stroke="#1a1a1a" stroke-width="0.15">5</text><line x1="98.04" y1="125.6" x2="98.04" y2="128.6" stroke="#333" stroke-width="1"/><text transform="translate(98.04,136.8) scale(1,1.12)" text-anchor="middle" font-size="7.7" fill="#1a1a1a" stroke="#1a1a1a" stroke-width="0.15">6</text><line x1="109.76" y1="125.6" x2="109.76" y2="128.6" stroke="#333" stroke-width="1"/><text transform="translate(109.76,136.8) scale(1,1.12)" text-anchor="middle" font-size="7.7" fill="#1a1a1a" stroke="#1a1a1a" stroke-width="0.15">7</text><line x1="121.48" y1="125.6" x2="121.48" y2="128.6" stroke="#333" stroke-width="1"/><text transform="translate(121.48,136.8) scale(1,1.12)" text-anchor="middle" font-size="7.7" fill="#1a1a1a" stroke="#1a1a1a" stroke-width="0.15">8</text><line x1="133.2" y1="125.6" x2="133.2" y2="128.6" stroke="#333" stroke-width="1"/><text transform="translate(133.2,136.8) scale(1,1.12)" text-anchor="middle" font-size="7.7" fill="#1a1a1a" stroke="#1a1a1a" stroke-width="0.15">9</text><line x1="144.92" y1="125.6" x2="144.92" y2="128.6" stroke="#333" stroke-width="1"/><text transform="translate(144.92,136.8) scale(1,1.12)" text-anchor="middle" font-size="7.7" fill="#1a1a1a" stroke="#1a1a1a" stroke-width="0.15">10</text><line x1="156.65" y1="125.6" x2="156.65" y2="128.6" stroke="#333" stroke-width="1"/><text transform="translate(156.65,136.8) scale(1,1.12)" text-anchor="middle" font-size="7.7" fill="#1a1a1a" stroke="#1a1a1a" stroke-width="0.15">11</text><line x1="168.37" y1="125.6" x2="168.37" y2="128.6" stroke="#333" stroke-width="1"/><text transform="translate(168.37,136.8) scale(1,1.12)" text-anchor="middle" font-size="7.7" fill="#1a1a1a" stroke="#1a1a1a" stroke-width="0.15">12</text><polyline points="39.43,63 51.15,66.64 62.88,66.09 74.6,65.18 86.32,68.45 98.04,69.36 109.76,76.64 121.48,78.09 133.2,79.91 144.92,83 156.65,80.27 168.37,65.73" fill="none" stroke="#262626" stroke-width="2.9" stroke-linejoin="round"/><circle cx="39.43" cy="63" r="2.4" fill="#fff" stroke="#262626" stroke-width="1.5"/><circle cx="51.15" cy="66.64" r="2.4" fill="#fff" stroke="#262626" stroke-width="1.5"/><circle cx="62.88" cy="66.09" r="2.4" fill="#fff" stroke="#262626" stroke-width="1.5"/><circle cx="74.6" cy="65.18" r="2.4" fill="#fff" stroke="#262626" stroke-width="1.5"/><circle cx="86.32" cy="68.45" r="2.4" fill="#fff" stroke="#262626" stroke-width="1.5"/><circle cx="98.04" cy="69.36" r="2.4" fill="#fff" stroke="#262626" stroke-width="1.5"/><circle cx="109.76" cy="76.64" r="2.4" fill="#fff" stroke="#262626" stroke-width="1.5"/><circle cx="121.48" cy="78.09" r="2.4" fill="#fff" stroke="#262626" stroke-width="1.5"/><circle cx="133.2" cy="79.91" r="2.4" fill="#fff" stroke="#262626" stroke-width="1.5"/><circle cx="144.92" cy="83" r="2.4" fill="#fff" stroke="#262626" stroke-width="1.5"/><circle cx="156.65" cy="80.27" r="2.4" fill="#fff" stroke="#262626" stroke-width="1.5"/><circle cx="168.37" cy="65.73" r="2.4" fill="#fff" stroke="#262626" stroke-width="1.5"/><polyline points="39.43,63.55 51.15,70.82 62.88,76.27 74.6,77 86.32,94.82 98.04,82.64 109.76,107.18 121.48,103 133.2,99.36 144.92,113.91 156.65,110.82 168.37,81.73" fill="none" stroke="#d6006c" stroke-width="1.6" stroke-linejoin="round"/><circle cx="39.43" cy="63.55" r="1.5" fill="#fff" stroke="#d6006c" stroke-width="1.0"/><circle cx="51.15" cy="70.82" r="1.5" fill="#fff" stroke="#d6006c" stroke-width="1.0"/><circle cx="62.88" cy="76.27" r="1.5" fill="#fff" stroke="#d6006c" stroke-width="1.0"/><circle cx="74.6" cy="77" r="1.5" fill="#fff" stroke="#d6006c" stroke-width="1.0"/><circle cx="86.32" cy="94.82" r="1.5" fill="#fff" stroke="#d6006c" stroke-width="1.0"/><circle cx="98.04" cy="82.64" r="1.5" fill="#fff" stroke="#d6006c" stroke-width="1.0"/><circle cx="109.76" cy="107.18" r="1.5" fill="#fff" stroke="#d6006c" stroke-width="1.0"/><circle cx="121.48" cy="103" r="1.5" fill="#fff" stroke="#d6006c" stroke-width="1.0"/><circle cx="133.2" cy="99.36" r="1.5" fill="#fff" stroke="#d6006c" stroke-width="1.0"/><circle cx="144.92" cy="113.91" r="1.5" fill="#fff" stroke="#d6006c" stroke-width="1.0"/><circle cx="156.65" cy="110.82" r="1.5" fill="#fff" stroke="#d6006c" stroke-width="1.0"/><circle cx="168.37" cy="81.73" r="1.5" fill="#fff" stroke="#d6006c" stroke-width="1.0"/><text transform="translate(-0.2,7.7)" font-size="10.9" font-weight="bold" fill="#000" stroke="#000" stroke-width="0.15">G</text><text transform="translate(103.9,10.9) scale(1,1.12)" text-anchor="middle" font-size="8.0" font-weight="bold" fill="#111" stroke="#111" stroke-width="0.15">Archipelago: Cape Verde</text><text transform="translate(103.9,147.1)" text-anchor="middle" font-size="8" fill="#1a1a1a" stroke="#1a1a1a" stroke-width="0.15">month of the year</text><text transform="translate(7.4,70.6) rotate(-90)" text-anchor="middle" font-size="8" fill="#1a1a1a" stroke="#1a1a1a" stroke-width="0.15">suitability</text><text transform="translate(198,70.6) rotate(90)" text-anchor="middle" font-size="8" fill="#d6006c" stroke="#d6006c" stroke-width="0.15">proportion suitable land</text></g><g transform="translate(0,475)"><rect x="238.23" y="24.18" width="5.1" height="25.77" fill="#f2eef5"/><rect x="238.23" y="30.77" width="5.1" height="17.94" fill="#ecd6f2"/><rect x="238.23" y="34.91" width="5.1" height="11.96" fill="#e4bde9"/><rect x="238.23" y="38.44" width="5.1" height="6.13" fill="#d9a3dd"/><rect x="246.68" y="31.85" width="5.1" height="18.1" fill="#f2eef5"/><rect x="246.68" y="35.37" width="5.1" height="13.8" fill="#ecd6f2"/><rect x="246.68" y="39.21" width="5.1" height="8.44" fill="#e4bde9"/><rect x="255.14" y="28.47" width="5.1" height="21.47" fill="#f2eef5"/><rect x="255.14" y="32.31" width="5.1" height="16.87" fill="#ecd6f2"/><rect x="255.14" y="36.14" width="5.1" height="11.5" fill="#e4bde9"/><rect x="255.14" y="39.21" width="5.1" height="6.13" fill="#d9a3dd"/><rect x="263.6" y="28.17" width="5.1" height="21.78" fill="#f2eef5"/><rect x="263.6" y="32.77" width="5.1" height="15.64" fill="#ecd6f2"/><rect x="263.6" y="36.14" width="5.1" height="9.97" fill="#e4bde9"/><rect x="263.6" y="38.44" width="5.1" height="4.6" fill="#d9a3dd"/><rect x="272.06" y="27.71" width="5.1" height="22.24" fill="#f2eef5"/><rect x="272.06" y="32.77" width="5.1" height="15.95" fill="#ecd6f2"/><rect x="272.06" y="36.14" width="5.1" height="11.04" fill="#e4bde9"/><rect x="272.06" y="39.21" width="5.1" height="6.13" fill="#d9a3dd"/><rect x="280.52" y="31.54" width="5.1" height="18.4" fill="#f2eef5"/><rect x="280.52" y="35.83" width="5.1" height="13.34" fill="#ecd6f2"/><rect x="280.52" y="39.21" width="5.1" height="8.44" fill="#e4bde9"/><rect x="280.52" y="42.28" width="5.1" height="3.83" fill="#d9a3dd"/><rect x="288.98" y="36.91" width="5.1" height="13.8" fill="#f2eef5"/><rect x="288.98" y="40.74" width="5.1" height="9.2" fill="#ecd6f2"/><rect x="288.98" y="44.58" width="5.1" height="4.6" fill="#e4bde9"/><rect x="297.44" y="36.14" width="5.1" height="14.57" fill="#f2eef5"/><rect x="297.44" y="40.74" width="5.1" height="9.2" fill="#ecd6f2"/><rect x="297.44" y="45.04" width="5.1" height="3.68" fill="#e4bde9"/><rect x="305.9" y="33.38" width="5.1" height="17.33" fill="#f2eef5"/><rect x="305.9" y="38.44" width="5.1" height="11.81" fill="#ecd6f2"/><rect x="305.9" y="42.28" width="5.1" height="6.9" fill="#e4bde9"/><rect x="305.9" y="45.04" width="5.1" height="3.07" fill="#d9a3dd"/><rect x="314.36" y="39.98" width="5.1" height="11.2" fill="#f2eef5"/><rect x="314.36" y="43.81" width="5.1" height="6.9" fill="#ecd6f2"/><rect x="314.36" y="47.64" width="5.1" height="3.07" fill="#e4bde9"/><rect x="322.82" y="37.37" width="5.1" height="13.34" fill="#f2eef5"/><rect x="322.82" y="41.97" width="5.1" height="7.98" fill="#ecd6f2"/><rect x="322.82" y="46.11" width="5.1" height="3.83" fill="#e4bde9"/><rect x="331.27" y="31.54" width="5.1" height="19.17" fill="#f2eef5"/><rect x="331.27" y="36.91" width="5.1" height="13.34" fill="#ecd6f2"/><rect x="331.27" y="41.51" width="5.1" height="7.67" fill="#e4bde9"/><rect x="331.27" y="44.58" width="5.1" height="3.53" fill="#d9a3dd"/><line x1="235.7" y1="9.6" x2="235.7" y2="53.6" stroke="#1a1a1a" stroke-width="1.05"/><line x1="235.2" y1="53.6" x2="338.9" y2="53.6" stroke="#1a1a1a" stroke-width="1.05"/><line x1="232.89999999999998" y1="51.6" x2="235.7" y2="51.6" stroke="#222" stroke-width="0.9"/><text transform="translate(231,53.85) scale(1,1.05)" text-anchor="end" font-size="5.8" fill="#1a1a1a" stroke="#1a1a1a" stroke-width="0.07">0.5</text><line x1="232.89999999999998" y1="43.6" x2="235.7" y2="43.6" stroke="#222" stroke-width="0.9"/><text transform="translate(231,45.85) scale(1,1.05)" text-anchor="end" font-size="5.8" fill="#1a1a1a" stroke="#1a1a1a" stroke-width="0.07">0.6</text><line x1="232.89999999999998" y1="35.6" x2="235.7" y2="35.6" stroke="#222" stroke-width="0.9"/><text transform="translate(231,37.85) scale(1,1.05)" text-anchor="end" font-size="5.8" fill="#1a1a1a" stroke="#1a1a1a" stroke-width="0.07">0.7</text><line x1="232.89999999999998" y1="27.6" x2="235.7" y2="27.6" stroke="#222" stroke-width="0.9"/><text transform="translate(231,29.85) scale(1,1.05)" text-anchor="end" font-size="5.8" fill="#1a1a1a" stroke="#1a1a1a" stroke-width="0.07">0.8</text><line x1="232.89999999999998" y1="19.6" x2="235.7" y2="19.6" stroke="#222" stroke-width="0.9"/><text transform="translate(231,21.85) scale(1,1.05)" text-anchor="end" font-size="5.8" fill="#1a1a1a" stroke="#1a1a1a" stroke-width="0.07">0.9</text><line x1="232.89999999999998" y1="11.6" x2="235.7" y2="11.6" stroke="#222" stroke-width="0.9"/><text transform="translate(231,13.85) scale(1,1.05)" text-anchor="end" font-size="5.8" fill="#1a1a1a" stroke="#1a1a1a" stroke-width="0.07">1.0</text><line x1="240.78" y1="53.6" x2="240.78" y2="56.4" stroke="#222" stroke-width="0.9"/><text transform="translate(240.78,62.9) scale(1,1.05)" text-anchor="middle" font-size="5.8" fill="#1a1a1a" stroke="#1a1a1a" stroke-width="0.07">1</text><line x1="249.23" y1="53.6" x2="249.23" y2="56.4" stroke="#222" stroke-width="0.9"/><text transform="translate(249.23,62.9) scale(1,1.05)" text-anchor="middle" font-size="5.8" fill="#1a1a1a" stroke="#1a1a1a" stroke-width="0.07">2</text><line x1="257.69" y1="53.6" x2="257.69" y2="56.4" stroke="#222" stroke-width="0.9"/><text transform="translate(257.69,62.9) scale(1,1.05)" text-anchor="middle" font-size="5.8" fill="#1a1a1a" stroke="#1a1a1a" stroke-width="0.07">3</text><line x1="266.15" y1="53.6" x2="266.15" y2="56.4" stroke="#222" stroke-width="0.9"/><text transform="translate(266.15,62.9) scale(1,1.05)" text-anchor="middle" font-size="5.8" fill="#1a1a1a" stroke="#1a1a1a" stroke-width="0.07">4</text><line x1="274.61" y1="53.6" x2="274.61" y2="56.4" stroke="#222" stroke-width="0.9"/><text transform="translate(274.61,62.9) scale(1,1.05)" text-anchor="middle" font-size="5.8" fill="#1a1a1a" stroke="#1a1a1a" stroke-width="0.07">5</text><line x1="283.07" y1="53.6" x2="283.07" y2="56.4" stroke="#222" stroke-width="0.9"/><text transform="translate(283.07,62.9) scale(1,1.05)" text-anchor="middle" font-size="5.8" fill="#1a1a1a" stroke="#1a1a1a" stroke-width="0.07">6</text><line x1="291.53" y1="53.6" x2="291.53" y2="56.4" stroke="#222" stroke-width="0.9"/><text transform="translate(291.53,62.9) scale(1,1.05)" text-anchor="middle" font-size="5.8" fill="#1a1a1a" stroke="#1a1a1a" stroke-width="0.07">7</text><line x1="299.99" y1="53.6" x2="299.99" y2="56.4" stroke="#222" stroke-width="0.9"/><text transform="translate(299.99,62.9) scale(1,1.05)" text-anchor="middle" font-size="5.8" fill="#1a1a1a" stroke="#1a1a1a" stroke-width="0.07">8</text><line x1="308.45" y1="53.6" x2="308.45" y2="56.4" stroke="#222" stroke-width="0.9"/><text transform="translate(308.45,62.9) scale(1,1.05)" text-anchor="middle" font-size="5.8" fill="#1a1a1a" stroke="#1a1a1a" stroke-width="0.07">9</text><line x1="316.91" y1="53.6" x2="316.91" y2="56.4" stroke="#222" stroke-width="0.9"/><text transform="translate(316.91,62.9) scale(1,1.05)" text-anchor="middle" font-size="5.8" fill="#1a1a1a" stroke="#1a1a1a" stroke-width="0.07">10</text><line x1="325.37" y1="53.6" x2="325.37" y2="56.4" stroke="#222" stroke-width="0.9"/><text transform="translate(325.37,62.9) scale(1,1.05)" text-anchor="middle" font-size="5.8" fill="#1a1a1a" stroke="#1a1a1a" stroke-width="0.07">11</text><line x1="333.82" y1="53.6" x2="333.82" y2="56.4" stroke="#222" stroke-width="0.9"/><text transform="translate(333.82,62.9) scale(1,1.05)" text-anchor="middle" font-size="5.8" fill="#1a1a1a" stroke="#1a1a1a" stroke-width="0.07">12</text><polyline points="240.78,40.74 249.23,44.12 257.69,41.51 266.15,39.52 274.61,43.04 283.07,44.12 291.53,48.1 299.99,46.88 308.45,46.57 316.91,49.94 325.37,49.18 333.82,46.57" fill="none" stroke="#d6006c" stroke-width="2.3" stroke-linejoin="round"/><circle cx="240.78" cy="40.74" r="1.6" fill="#fff" stroke="#d6006c" stroke-width="1.1"/><circle cx="249.23" cy="44.12" r="1.6" fill="#fff" stroke="#d6006c" stroke-width="1.1"/><circle cx="257.69" cy="41.51" r="1.6" fill="#fff" stroke="#d6006c" stroke-width="1.1"/><circle cx="266.15" cy="39.52" r="1.6" fill="#fff" stroke="#d6006c" stroke-width="1.1"/><circle cx="274.61" cy="43.04" r="1.6" fill="#fff" stroke="#d6006c" stroke-width="1.1"/><circle cx="283.07" cy="44.12" r="1.6" fill="#fff" stroke="#d6006c" stroke-width="1.1"/><circle cx="291.53" cy="48.1" r="1.6" fill="#fff" stroke="#d6006c" stroke-width="1.1"/><circle cx="299.99" cy="46.88" r="1.6" fill="#fff" stroke="#d6006c" stroke-width="1.1"/><circle cx="308.45" cy="46.57" r="1.6" fill="#fff" stroke="#d6006c" stroke-width="1.1"/><circle cx="316.91" cy="49.94" r="1.6" fill="#fff" stroke="#d6006c" stroke-width="1.1"/><circle cx="325.37" cy="49.18" r="1.6" fill="#fff" stroke="#d6006c" stroke-width="1.1"/><circle cx="333.82" cy="46.57" r="1.6" fill="#fff" stroke="#d6006c" stroke-width="1.1"/><text transform="translate(217.9,7.8)" font-size="10.9" font-weight="bold" fill="#000" stroke="#000" stroke-width="0.15">g1</text><text transform="translate(287.3,5.6) scale(1,1.12)" text-anchor="middle" font-size="6.3" font-weight="bold" fill="#111" stroke="#111" stroke-width="0.07">suitable land</text><text transform="translate(287.3,71.9)" text-anchor="middle" font-size="6.3" fill="#1a1a1a" stroke="#1a1a1a" stroke-width="0.07">month of the year</text><text transform="translate(218.3,31.6) rotate(-90)" text-anchor="middle" font-size="6.3" fill="#1a1a1a" stroke="#1a1a1a" stroke-width="0.07">suitability</text></g><g transform="translate(0,554.3)"><rect x="238.23" y="12.83" width="5.1" height="36.04" fill="#f6f6f8"/><rect x="238.23" y="18.97" width="5.1" height="24.54" fill="#d9e7fa"/><rect x="238.23" y="25.41" width="5.1" height="15.8" fill="#bbd4f5"/><rect x="238.23" y="29.71" width="5.1" height="8.44" fill="#9dc0ef"/><rect x="246.68" y="13.14" width="5.1" height="34.97" fill="#f6f6f8"/><rect x="246.68" y="18.97" width="5.1" height="23.77" fill="#d9e7fa"/><rect x="246.68" y="25.87" width="5.1" height="14.57" fill="#bbd4f5"/><rect x="246.68" y="29.71" width="5.1" height="8.44" fill="#9dc0ef"/><rect x="255.14" y="13.6" width="5.1" height="35.28" fill="#f6f6f8"/><rect x="255.14" y="18.97" width="5.1" height="25.31" fill="#d9e7fa"/><rect x="255.14" y="23.88" width="5.1" height="17.33" fill="#bbd4f5"/><rect x="255.14" y="28.17" width="5.1" height="9.2" fill="#9dc0ef"/><rect x="263.6" y="14.06" width="5.1" height="34.05" fill="#f6f6f8"/><rect x="263.6" y="19.74" width="5.1" height="23.77" fill="#d9e7fa"/><rect x="263.6" y="23.88" width="5.1" height="15.03" fill="#bbd4f5"/><rect x="263.6" y="26.64" width="5.1" height="9.2" fill="#9dc0ef"/><rect x="272.06" y="14.37" width="5.1" height="33.74" fill="#f6f6f8"/><rect x="272.06" y="20.5" width="5.1" height="23.01" fill="#d9e7fa"/><rect x="272.06" y="24.8" width="5.1" height="13.34" fill="#bbd4f5"/><rect x="272.06" y="27.41" width="5.1" height="7.67" fill="#9dc0ef"/><rect x="280.52" y="13.6" width="5.1" height="34.51" fill="#f6f6f8"/><rect x="280.52" y="19.74" width="5.1" height="23.77" fill="#d9e7fa"/><rect x="280.52" y="24.8" width="5.1" height="15.64" fill="#bbd4f5"/><rect x="280.52" y="28.17" width="5.1" height="9.2" fill="#9dc0ef"/><rect x="288.98" y="16.21" width="5.1" height="32.67" fill="#f6f6f8"/><rect x="288.98" y="23.57" width="5.1" height="22.7" fill="#d9e7fa"/><rect x="288.98" y="28.94" width="5.1" height="15.34" fill="#bbd4f5"/><rect x="288.98" y="32.01" width="5.1" height="9.2" fill="#9dc0ef"/><rect x="297.44" y="15.14" width="5.1" height="33.74" fill="#f6f6f8"/><rect x="297.44" y="23.57" width="5.1" height="22.7" fill="#d9e7fa"/><rect x="297.44" y="29.71" width="5.1" height="14.57" fill="#bbd4f5"/><rect x="297.44" y="32.77" width="5.1" height="8.44" fill="#9dc0ef"/><rect x="305.9" y="15.14" width="5.1" height="34.51" fill="#f6f6f8"/><rect x="305.9" y="23.88" width="5.1" height="23.47" fill="#d9e7fa"/><rect x="305.9" y="30.47" width="5.1" height="15.34" fill="#bbd4f5"/><rect x="305.9" y="34.31" width="5.1" height="9.2" fill="#9dc0ef"/><rect x="314.36" y="19.74" width="5.1" height="29.91" fill="#f6f6f8"/><rect x="314.36" y="28.94" width="5.1" height="18.4" fill="#d9e7fa"/><rect x="314.36" y="34" width="5.1" height="11.81" fill="#bbd4f5"/><rect x="314.36" y="36.61" width="5.1" height="6.9" fill="#9dc0ef"/><rect x="322.82" y="17.44" width="5.1" height="32.21" fill="#f6f6f8"/><rect x="322.82" y="25.87" width="5.1" height="21.01" fill="#d9e7fa"/><rect x="322.82" y="31.24" width="5.1" height="13.8" fill="#bbd4f5"/><rect x="322.82" y="34.31" width="5.1" height="8.44" fill="#9dc0ef"/><rect x="331.27" y="12.83" width="5.1" height="34.51" fill="#f6f6f8"/><rect x="331.27" y="16.67" width="5.1" height="26.07" fill="#d9e7fa"/><rect x="331.27" y="21.27" width="5.1" height="17.64" fill="#bbd4f5"/><rect x="331.27" y="25.87" width="5.1" height="9.97" fill="#9dc0ef"/><line x1="235.7" y1="9.6" x2="235.7" y2="53.6" stroke="#1a1a1a" stroke-width="1.05"/><line x1="235.2" y1="53.6" x2="338.9" y2="53.6" stroke="#1a1a1a" stroke-width="1.05"/><line x1="232.89999999999998" y1="51.6" x2="235.7" y2="51.6" stroke="#222" stroke-width="0.9"/><text transform="translate(231,53.85) scale(1,1.05)" text-anchor="end" font-size="5.8" fill="#1a1a1a" stroke="#1a1a1a" stroke-width="0.07">0.0</text><line x1="232.89999999999998" y1="43.6" x2="235.7" y2="43.6" stroke="#222" stroke-width="0.9"/><text transform="translate(231,45.85) scale(1,1.05)" text-anchor="end" font-size="5.8" fill="#1a1a1a" stroke="#1a1a1a" stroke-width="0.07">0.1</text><line x1="232.89999999999998" y1="35.6" x2="235.7" y2="35.6" stroke="#222" stroke-width="0.9"/><text transform="translate(231,37.85) scale(1,1.05)" text-anchor="end" font-size="5.8" fill="#1a1a1a" stroke="#1a1a1a" stroke-width="0.07">0.2</text><line x1="232.89999999999998" y1="27.6" x2="235.7" y2="27.6" stroke="#222" stroke-width="0.9"/><text transform="translate(231,29.85) scale(1,1.05)" text-anchor="end" font-size="5.8" fill="#1a1a1a" stroke="#1a1a1a" stroke-width="0.07">0.3</text><line x1="232.89999999999998" y1="19.6" x2="235.7" y2="19.6" stroke="#222" stroke-width="0.9"/><text transform="translate(231,21.85) scale(1,1.05)" text-anchor="end" font-size="5.8" fill="#1a1a1a" stroke="#1a1a1a" stroke-width="0.07">0.4</text><line x1="232.89999999999998" y1="11.6" x2="235.7" y2="11.6" stroke="#222" stroke-width="0.9"/><text transform="translate(231,13.85) scale(1,1.05)" text-anchor="end" font-size="5.8" fill="#1a1a1a" stroke="#1a1a1a" stroke-width="0.07">0.5</text><line x1="240.78" y1="53.6" x2="240.78" y2="56.4" stroke="#222" stroke-width="0.9"/><text transform="translate(240.78,62.9) scale(1,1.05)" text-anchor="middle" font-size="5.8" fill="#1a1a1a" stroke="#1a1a1a" stroke-width="0.07">1</text><line x1="249.23" y1="53.6" x2="249.23" y2="56.4" stroke="#222" stroke-width="0.9"/><text transform="translate(249.23,62.9) scale(1,1.05)" text-anchor="middle" font-size="5.8" fill="#1a1a1a" stroke="#1a1a1a" stroke-width="0.07">2</text><line x1="257.69" y1="53.6" x2="257.69" y2="56.4" stroke="#222" stroke-width="0.9"/><text transform="translate(257.69,62.9) scale(1,1.05)" text-anchor="middle" font-size="5.8" fill="#1a1a1a" stroke="#1a1a1a" stroke-width="0.07">3</text><line x1="266.15" y1="53.6" x2="266.15" y2="56.4" stroke="#222" stroke-width="0.9"/><text transform="translate(266.15,62.9) scale(1,1.05)" text-anchor="middle" font-size="5.8" fill="#1a1a1a" stroke="#1a1a1a" stroke-width="0.07">4</text><line x1="274.61" y1="53.6" x2="274.61" y2="56.4" stroke="#222" stroke-width="0.9"/><text transform="translate(274.61,62.9) scale(1,1.05)" text-anchor="middle" font-size="5.8" fill="#1a1a1a" stroke="#1a1a1a" stroke-width="0.07">5</text><line x1="283.07" y1="53.6" x2="283.07" y2="56.4" stroke="#222" stroke-width="0.9"/><text transform="translate(283.07,62.9) scale(1,1.05)" text-anchor="middle" font-size="5.8" fill="#1a1a1a" stroke="#1a1a1a" stroke-width="0.07">6</text><line x1="291.53" y1="53.6" x2="291.53" y2="56.4" stroke="#222" stroke-width="0.9"/><text transform="translate(291.53,62.9) scale(1,1.05)" text-anchor="middle" font-size="5.8" fill="#1a1a1a" stroke="#1a1a1a" stroke-width="0.07">7</text><line x1="299.99" y1="53.6" x2="299.99" y2="56.4" stroke="#222" stroke-width="0.9"/><text transform="translate(299.99,62.9) scale(1,1.05)" text-anchor="middle" font-size="5.8" fill="#1a1a1a" stroke="#1a1a1a" stroke-width="0.07">8</text><line x1="308.45" y1="53.6" x2="308.45" y2="56.4" stroke="#222" stroke-width="0.9"/><text transform="translate(308.45,62.9) scale(1,1.05)" text-anchor="middle" font-size="5.8" fill="#1a1a1a" stroke="#1a1a1a" stroke-width="0.07">9</text><line x1="316.91" y1="53.6" x2="316.91" y2="56.4" stroke="#222" stroke-width="0.9"/><text transform="translate(316.91,62.9) scale(1,1.05)" text-anchor="middle" font-size="5.8" fill="#1a1a1a" stroke="#1a1a1a" stroke-width="0.07">10</text><line x1="325.37" y1="53.6" x2="325.37" y2="56.4" stroke="#222" stroke-width="0.9"/><text transform="translate(325.37,62.9) scale(1,1.05)" text-anchor="middle" font-size="5.8" fill="#1a1a1a" stroke="#1a1a1a" stroke-width="0.07">11</text><line x1="333.82" y1="53.6" x2="333.82" y2="56.4" stroke="#222" stroke-width="0.9"/><text transform="translate(333.82,62.9) scale(1,1.05)" text-anchor="middle" font-size="5.8" fill="#1a1a1a" stroke="#1a1a1a" stroke-width="0.07">12</text><polyline points="240.78,34.31 249.23,34 257.69,33.54 266.15,31.7 274.61,31.24 283.07,33.08 291.53,36.61 299.99,37.83 308.45,39.22 316.91,40.75 325.37,38.91 333.82,31.55" fill="none" stroke="#1c58a8" stroke-width="2.3" stroke-linejoin="round"/><circle cx="240.78" cy="34.31" r="1.6" fill="#fff" stroke="#1c58a8" stroke-width="1.1"/><circle cx="249.23" cy="34" r="1.6" fill="#fff" stroke="#1c58a8" stroke-width="1.1"/><circle cx="257.69" cy="33.54" r="1.6" fill="#fff" stroke="#1c58a8" stroke-width="1.1"/><circle cx="266.15" cy="31.7" r="1.6" fill="#fff" stroke="#1c58a8" stroke-width="1.1"/><circle cx="274.61" cy="31.24" r="1.6" fill="#fff" stroke="#1c58a8" stroke-width="1.1"/><circle cx="283.07" cy="33.08" r="1.6" fill="#fff" stroke="#1c58a8" stroke-width="1.1"/><circle cx="291.53" cy="36.61" r="1.6" fill="#fff" stroke="#1c58a8" stroke-width="1.1"/><circle cx="299.99" cy="37.83" r="1.6" fill="#fff" stroke="#1c58a8" stroke-width="1.1"/><circle cx="308.45" cy="39.22" r="1.6" fill="#fff" stroke="#1c58a8" stroke-width="1.1"/><circle cx="316.91" cy="40.75" r="1.6" fill="#fff" stroke="#1c58a8" stroke-width="1.1"/><circle cx="325.37" cy="38.91" r="1.6" fill="#fff" stroke="#1c58a8" stroke-width="1.1"/><circle cx="333.82" cy="31.55" r="1.6" fill="#fff" stroke="#1c58a8" stroke-width="1.1"/><text transform="translate(217.9,7.8)" font-size="10.9" font-weight="bold" fill="#000" stroke="#000" stroke-width="0.15">g2</text><text transform="translate(287.3,5.6) scale(1,1.12)" text-anchor="middle" font-size="6.3" font-weight="bold" fill="#111" stroke="#111" stroke-width="0.07">unsuitable land</text><text transform="translate(287.3,71.9)" text-anchor="middle" font-size="6.3" fill="#1a1a1a" stroke="#1a1a1a" stroke-width="0.07">month of the year</text><text transform="translate(218.3,31.6) rotate(-90)" text-anchor="middle" font-size="6.3" fill="#1a1a1a" stroke="#1a1a1a" stroke-width="0.07">suitability</text></g><g transform="translate(345.45,475)"><rect x="35.23" y="29" width="8.4" height="91.64" fill="#ececec"/><rect x="35.23" y="53.91" width="8.4" height="60" fill="#d8d8d8"/><rect x="35.23" y="69.36" width="8.4" height="37.27" fill="#c0c0c0"/><rect x="35.23" y="77.55" width="8.4" height="21.82" fill="#a2a2a2"/><rect x="46.95" y="31.18" width="8.4" height="89.45" fill="#ececec"/><rect x="46.95" y="53.91" width="8.4" height="59.09" fill="#d8d8d8"/><rect x="46.95" y="70.82" width="8.4" height="35.82" fill="#c0c0c0"/><rect x="46.95" y="83" width="8.4" height="15.45" fill="#a2a2a2"/><rect x="58.68" y="32.09" width="8.4" height="88.55" fill="#ececec"/><rect x="58.68" y="69.36" width="8.4" height="51.27" fill="#d8d8d8"/><rect x="58.68" y="84.82" width="8.4" height="35.82" fill="#c0c0c0"/><rect x="58.68" y="93.91" width="8.4" height="19.09" fill="#a2a2a2"/><rect x="70.4" y="35.73" width="8.4" height="84.91" fill="#ececec"/><rect x="70.4" y="79.91" width="8.4" height="40.73" fill="#d8d8d8"/><rect x="70.4" y="92.09" width="8.4" height="28.55" fill="#c0c0c0"/><rect x="70.4" y="105.73" width="8.4" height="14.91" fill="#a2a2a2"/><rect x="82.12" y="80.64" width="8.4" height="40" fill="#ececec"/><rect x="82.12" y="91.55" width="8.4" height="29.09" fill="#d8d8d8"/><rect x="82.12" y="106.09" width="8.4" height="14.55" fill="#c0c0c0"/><rect x="82.12" y="115.73" width="8.4" height="4.91" fill="#a2a2a2"/><rect x="93.84" y="77" width="8.4" height="43.64" fill="#ececec"/><rect x="93.84" y="95.73" width="8.4" height="24.91" fill="#d8d8d8"/><rect x="93.84" y="112.09" width="8.4" height="8.55" fill="#c0c0c0"/><rect x="105.56" y="76.64" width="8.4" height="44" fill="#ececec"/><rect x="105.56" y="95.73" width="8.4" height="24.91" fill="#d8d8d8"/><rect x="105.56" y="110.27" width="8.4" height="10.36" fill="#c0c0c0"/><rect x="117.28" y="58.45" width="8.4" height="62.18" fill="#ececec"/><rect x="117.28" y="77.55" width="8.4" height="43.09" fill="#d8d8d8"/><rect x="117.28" y="89" width="8.4" height="31.64" fill="#c0c0c0"/><rect x="117.28" y="98.09" width="8.4" height="17.64" fill="#a2a2a2"/><rect x="129" y="31.18" width="8.4" height="82.73" fill="#ececec"/><rect x="129" y="59.91" width="8.4" height="38" fill="#d8d8d8"/><rect x="129" y="71.55" width="8.4" height="21.45" fill="#c0c0c0"/><rect x="129" y="76.64" width="8.4" height="10" fill="#a2a2a2"/><rect x="140.72" y="30.27" width="8.4" height="71.64" fill="#ececec"/><rect x="140.72" y="52.09" width="8.4" height="40.73" fill="#d8d8d8"/><rect x="140.72" y="67.18" width="8.4" height="20.36" fill="#c0c0c0"/><rect x="140.72" y="72.09" width="8.4" height="10.55" fill="#a2a2a2"/><rect x="152.45" y="30.82" width="8.4" height="71.64" fill="#ececec"/><rect x="152.45" y="53.91" width="8.4" height="38.91" fill="#d8d8d8"/><rect x="152.45" y="67.55" width="8.4" height="18.18" fill="#c0c0c0"/><rect x="152.45" y="73" width="8.4" height="7.27" fill="#a2a2a2"/><rect x="164.17" y="32.09" width="8.4" height="72" fill="#ececec"/><rect x="164.17" y="53" width="8.4" height="43.64" fill="#d8d8d8"/><rect x="164.17" y="64.82" width="8.4" height="26.36" fill="#c0c0c0"/><rect x="164.17" y="71.18" width="8.4" height="14.55" fill="#a2a2a2"/><line x1="32.4" y1="14.5" x2="32.4" y2="125.6" stroke="#222" stroke-width="1.1"/><line x1="31.9" y1="125.6" x2="175.4" y2="125.6" stroke="#222" stroke-width="1.1"/><line x1="175.4" y1="14.5" x2="175.4" y2="126.1" stroke="#d6006c" stroke-width="1.1"/><line x1="29.7" y1="120.6" x2="32.4" y2="120.6" stroke="#333" stroke-width="1"/><text transform="translate(27.2,123.65) scale(1,1.12)" text-anchor="end" font-size="7.7" fill="#1a1a1a" stroke="#1a1a1a" stroke-width="0.15">0.00</text><line x1="29.7" y1="88.69" x2="32.4" y2="88.69" stroke="#333" stroke-width="1"/><text transform="translate(27.2,91.74) scale(1,1.12)" text-anchor="end" font-size="7.7" fill="#1a1a1a" stroke="#1a1a1a" stroke-width="0.15">0.10</text><line x1="29.7" y1="70.15" x2="32.4" y2="70.15" stroke="#333" stroke-width="1"/><text transform="translate(27.2,73.2) scale(1,1.12)" text-anchor="end" font-size="7.7" fill="#1a1a1a" stroke="#1a1a1a" stroke-width="0.15">0.25</text><line x1="29.7" y1="49.25" x2="32.4" y2="49.25" stroke="#333" stroke-width="1"/><text transform="translate(27.2,52.3) scale(1,1.12)" text-anchor="end" font-size="7.7" fill="#1a1a1a" stroke="#1a1a1a" stroke-width="0.15">0.50</text><line x1="29.7" y1="33.22" x2="32.4" y2="33.22" stroke="#333" stroke-width="1"/><text transform="translate(27.2,36.27) scale(1,1.12)" text-anchor="end" font-size="7.7" fill="#1a1a1a" stroke="#1a1a1a" stroke-width="0.15">0.75</text><line x1="29.7" y1="24.88" x2="32.4" y2="24.88" stroke="#333" stroke-width="1"/><text transform="translate(27.2,27.93) scale(1,1.12)" text-anchor="end" font-size="7.7" fill="#1a1a1a" stroke="#1a1a1a" stroke-width="0.15">0.90</text><line x1="29.7" y1="19.7" x2="32.4" y2="19.7" stroke="#333" stroke-width="1"/><text transform="translate(27.2,22.75) scale(1,1.12)" text-anchor="end" font-size="7.7" fill="#1a1a1a" stroke="#1a1a1a" stroke-width="0.15">1.00</text><line x1="175.4" y1="88.69" x2="178.1" y2="88.69" stroke="#d6006c" stroke-width="1"/><text transform="translate(180.4,91.74) scale(1,1.12)" font-size="7.7" fill="#d6006c" stroke="#d6006c" stroke-width="0.15">0.10</text><line x1="175.4" y1="70.15" x2="178.1" y2="70.15" stroke="#d6006c" stroke-width="1"/><text transform="translate(180.4,73.2) scale(1,1.12)" font-size="7.7" fill="#d6006c" stroke="#d6006c" stroke-width="0.15">0.25</text><line x1="175.4" y1="49.25" x2="178.1" y2="49.25" stroke="#d6006c" stroke-width="1"/><text transform="translate(180.4,52.3) scale(1,1.12)" font-size="7.7" fill="#d6006c" stroke="#d6006c" stroke-width="0.15">0.50</text><line x1="175.4" y1="33.22" x2="178.1" y2="33.22" stroke="#d6006c" stroke-width="1"/><text transform="translate(180.4,36.27) scale(1,1.12)" font-size="7.7" fill="#d6006c" stroke="#d6006c" stroke-width="0.15">0.75</text><line x1="175.4" y1="24.88" x2="178.1" y2="24.88" stroke="#d6006c" stroke-width="1"/><text transform="translate(180.4,27.93) scale(1,1.12)" font-size="7.7" fill="#d6006c" stroke="#d6006c" stroke-width="0.15">0.90</text><line x1="175.4" y1="19.7" x2="178.1" y2="19.7" stroke="#d6006c" stroke-width="1"/><text transform="translate(180.4,22.75) scale(1,1.12)" font-size="7.7" fill="#d6006c" stroke="#d6006c" stroke-width="0.15">1.00</text><line x1="39.43" y1="125.6" x2="39.43" y2="128.6" stroke="#333" stroke-width="1"/><text transform="translate(39.43,136.8) scale(1,1.12)" text-anchor="middle" font-size="7.7" fill="#1a1a1a" stroke="#1a1a1a" stroke-width="0.15">1</text><line x1="51.15" y1="125.6" x2="51.15" y2="128.6" stroke="#333" stroke-width="1"/><text transform="translate(51.15,136.8) scale(1,1.12)" text-anchor="middle" font-size="7.7" fill="#1a1a1a" stroke="#1a1a1a" stroke-width="0.15">2</text><line x1="62.88" y1="125.6" x2="62.88" y2="128.6" stroke="#333" stroke-width="1"/><text transform="translate(62.88,136.8) scale(1,1.12)" text-anchor="middle" font-size="7.7" fill="#1a1a1a" stroke="#1a1a1a" stroke-width="0.15">3</text><line x1="74.6" y1="125.6" x2="74.6" y2="128.6" stroke="#333" stroke-width="1"/><text transform="translate(74.6,136.8) scale(1,1.12)" text-anchor="middle" font-size="7.7" fill="#1a1a1a" stroke="#1a1a1a" stroke-width="0.15">4</text><line x1="86.32" y1="125.6" x2="86.32" y2="128.6" stroke="#333" stroke-width="1"/><text transform="translate(86.32,136.8) scale(1,1.12)" text-anchor="middle" font-size="7.7" fill="#1a1a1a" stroke="#1a1a1a" stroke-width="0.15">5</text><line x1="98.04" y1="125.6" x2="98.04" y2="128.6" stroke="#333" stroke-width="1"/><text transform="translate(98.04,136.8) scale(1,1.12)" text-anchor="middle" font-size="7.7" fill="#1a1a1a" stroke="#1a1a1a" stroke-width="0.15">6</text><line x1="109.76" y1="125.6" x2="109.76" y2="128.6" stroke="#333" stroke-width="1"/><text transform="translate(109.76,136.8) scale(1,1.12)" text-anchor="middle" font-size="7.7" fill="#1a1a1a" stroke="#1a1a1a" stroke-width="0.15">7</text><line x1="121.48" y1="125.6" x2="121.48" y2="128.6" stroke="#333" stroke-width="1"/><text transform="translate(121.48,136.8) scale(1,1.12)" text-anchor="middle" font-size="7.7" fill="#1a1a1a" stroke="#1a1a1a" stroke-width="0.15">8</text><line x1="133.2" y1="125.6" x2="133.2" y2="128.6" stroke="#333" stroke-width="1"/><text transform="translate(133.2,136.8) scale(1,1.12)" text-anchor="middle" font-size="7.7" fill="#1a1a1a" stroke="#1a1a1a" stroke-width="0.15">9</text><line x1="144.92" y1="125.6" x2="144.92" y2="128.6" stroke="#333" stroke-width="1"/><text transform="translate(144.92,136.8) scale(1,1.12)" text-anchor="middle" font-size="7.7" fill="#1a1a1a" stroke="#1a1a1a" stroke-width="0.15">10</text><line x1="156.65" y1="125.6" x2="156.65" y2="128.6" stroke="#333" stroke-width="1"/><text transform="translate(156.65,136.8) scale(1,1.12)" text-anchor="middle" font-size="7.7" fill="#1a1a1a" stroke="#1a1a1a" stroke-width="0.15">11</text><line x1="168.37" y1="125.6" x2="168.37" y2="128.6" stroke="#333" stroke-width="1"/><text transform="translate(168.37,136.8) scale(1,1.12)" text-anchor="middle" font-size="7.7" fill="#1a1a1a" stroke="#1a1a1a" stroke-width="0.15">12</text><polyline points="39.43,83.91 51.15,90.82 62.88,102.09 74.6,116.27 86.32,117 98.04,120.27 109.76,120.64 121.48,109 133.2,81.73 144.92,78.45 156.65,77 168.37,76.27" fill="none" stroke="#262626" stroke-width="2.9" stroke-linejoin="round"/><circle cx="39.43" cy="83.91" r="2.4" fill="#fff" stroke="#262626" stroke-width="1.5"/><circle cx="51.15" cy="90.82" r="2.4" fill="#fff" stroke="#262626" stroke-width="1.5"/><circle cx="62.88" cy="102.09" r="2.4" fill="#fff" stroke="#262626" stroke-width="1.5"/><circle cx="74.6" cy="116.27" r="2.4" fill="#fff" stroke="#262626" stroke-width="1.5"/><circle cx="86.32" cy="117" r="2.4" fill="#fff" stroke="#262626" stroke-width="1.5"/><circle cx="98.04" cy="120.27" r="2.4" fill="#fff" stroke="#262626" stroke-width="1.5"/><circle cx="109.76" cy="120.64" r="2.4" fill="#fff" stroke="#262626" stroke-width="1.5"/><circle cx="121.48" cy="109" r="2.4" fill="#fff" stroke="#262626" stroke-width="1.5"/><circle cx="133.2" cy="81.73" r="2.4" fill="#fff" stroke="#262626" stroke-width="1.5"/><circle cx="144.92" cy="78.45" r="2.4" fill="#fff" stroke="#262626" stroke-width="1.5"/><circle cx="156.65" cy="77" r="2.4" fill="#fff" stroke="#262626" stroke-width="1.5"/><circle cx="168.37" cy="76.27" r="2.4" fill="#fff" stroke="#262626" stroke-width="1.5"/><polyline points="39.43,87.91 51.15,87.55 62.88,93.55 74.6,97 86.32,118.45 98.04,120.64 109.76,120.64 121.48,109 133.2,90.27 144.92,86.09 156.65,88.45 168.37,89.73" fill="none" stroke="#d6006c" stroke-width="1.6" stroke-linejoin="round"/><circle cx="39.43" cy="87.91" r="1.5" fill="#fff" stroke="#d6006c" stroke-width="1.0"/><circle cx="51.15" cy="87.55" r="1.5" fill="#fff" stroke="#d6006c" stroke-width="1.0"/><circle cx="62.88" cy="93.55" r="1.5" fill="#fff" stroke="#d6006c" stroke-width="1.0"/><circle cx="74.6" cy="97" r="1.5" fill="#fff" stroke="#d6006c" stroke-width="1.0"/><circle cx="86.32" cy="118.45" r="1.5" fill="#fff" stroke="#d6006c" stroke-width="1.0"/><circle cx="98.04" cy="120.64" r="1.5" fill="#fff" stroke="#d6006c" stroke-width="1.0"/><circle cx="109.76" cy="120.64" r="1.5" fill="#fff" stroke="#d6006c" stroke-width="1.0"/><circle cx="121.48" cy="109" r="1.5" fill="#fff" stroke="#d6006c" stroke-width="1.0"/><circle cx="133.2" cy="90.27" r="1.5" fill="#fff" stroke="#d6006c" stroke-width="1.0"/><circle cx="144.92" cy="86.09" r="1.5" fill="#fff" stroke="#d6006c" stroke-width="1.0"/><circle cx="156.65" cy="88.45" r="1.5" fill="#fff" stroke="#d6006c" stroke-width="1.0"/><circle cx="168.37" cy="89.73" r="1.5" fill="#fff" stroke="#d6006c" stroke-width="1.0"/><text transform="translate(-0.2,7.7)" font-size="10.9" font-weight="bold" fill="#000" stroke="#000" stroke-width="0.15">H</text><text transform="translate(103.9,10.9) scale(1,1.12)" text-anchor="middle" font-size="8.0" font-weight="bold" fill="#111" stroke="#111" stroke-width="0.15">Archipelago: Madeira</text><text transform="translate(103.9,147.1)" text-anchor="middle" font-size="8" fill="#1a1a1a" stroke="#1a1a1a" stroke-width="0.15">month of the year</text><text transform="translate(7.4,70.6) rotate(-90)" text-anchor="middle" font-size="8" fill="#1a1a1a" stroke="#1a1a1a" stroke-width="0.15">suitability</text><text transform="translate(198,70.6) rotate(90)" text-anchor="middle" font-size="8" fill="#d6006c" stroke="#d6006c" stroke-width="0.15">proportion suitable land</text></g><g transform="translate(345.45,475)"><rect x="238.23" y="18.04" width="5.1" height="31.9" fill="#f2eef5"/><rect x="238.23" y="23.1" width="5.1" height="23.01" fill="#ecd6f2"/><rect x="238.23" y="26.94" width="5.1" height="14.57" fill="#e4bde9"/><rect x="238.23" y="30.01" width="5.1" height="7.67" fill="#d9a3dd"/><rect x="246.68" y="17.43" width="5.1" height="32.52" fill="#f2eef5"/><rect x="246.68" y="23.87" width="5.1" height="23.01" fill="#ecd6f2"/><rect x="246.68" y="29.24" width="5.1" height="14.57" fill="#e4bde9"/><rect x="246.68" y="33.07" width="5.1" height="6.9" fill="#d9a3dd"/><rect x="255.14" y="22.34" width="5.1" height="26.84" fill="#f2eef5"/><rect x="255.14" y="26.17" width="5.1" height="16.87" fill="#ecd6f2"/><rect x="255.14" y="30.01" width="5.1" height="9.2" fill="#e4bde9"/><rect x="263.6" y="26.94" width="5.1" height="23.01" fill="#f2eef5"/><rect x="263.6" y="30.01" width="5.1" height="13.8" fill="#ecd6f2"/><rect x="263.6" y="33.07" width="5.1" height="6.13" fill="#e4bde9"/><rect x="297.44" y="36.14" width="5.1" height="13.04" fill="#f2eef5"/><rect x="297.44" y="39.21" width="5.1" height="9.97" fill="#ecd6f2"/><rect x="297.44" y="43.81" width="5.1" height="3.83" fill="#e4bde9"/><rect x="305.9" y="18.04" width="5.1" height="30.37" fill="#f2eef5"/><rect x="305.9" y="23.87" width="5.1" height="23.01" fill="#ecd6f2"/><rect x="305.9" y="29.24" width="5.1" height="15.34" fill="#e4bde9"/><rect x="305.9" y="32.31" width="5.1" height="9.97" fill="#d9a3dd"/><rect x="314.36" y="19.27" width="5.1" height="30.67" fill="#f2eef5"/><rect x="314.36" y="24.64" width="5.1" height="23.01" fill="#ecd6f2"/><rect x="314.36" y="30.77" width="5.1" height="14.57" fill="#e4bde9"/><rect x="314.36" y="34.61" width="5.1" height="7.67" fill="#d9a3dd"/><rect x="322.82" y="18.96" width="5.1" height="29.45" fill="#f2eef5"/><rect x="322.82" y="24.18" width="5.1" height="21.93" fill="#ecd6f2"/><rect x="322.82" y="28.47" width="5.1" height="14.57" fill="#e4bde9"/><rect x="322.82" y="33.07" width="5.1" height="6.9" fill="#d9a3dd"/><rect x="331.27" y="21.57" width="5.1" height="27.61" fill="#f2eef5"/><rect x="331.27" y="25.1" width="5.1" height="21.47" fill="#ecd6f2"/><rect x="331.27" y="30.01" width="5.1" height="13.8" fill="#e4bde9"/><rect x="331.27" y="32.31" width="5.1" height="8.44" fill="#d9a3dd"/><line x1="235.7" y1="9.6" x2="235.7" y2="53.6" stroke="#1a1a1a" stroke-width="1.05"/><line x1="235.2" y1="53.6" x2="338.9" y2="53.6" stroke="#1a1a1a" stroke-width="1.05"/><line x1="232.89999999999998" y1="51.6" x2="235.7" y2="51.6" stroke="#222" stroke-width="0.9"/><text transform="translate(231,53.85) scale(1,1.05)" text-anchor="end" font-size="5.8" fill="#1a1a1a" stroke="#1a1a1a" stroke-width="0.07">0.5</text><line x1="232.89999999999998" y1="43.6" x2="235.7" y2="43.6" stroke="#222" stroke-width="0.9"/><text transform="translate(231,45.85) scale(1,1.05)" text-anchor="end" font-size="5.8" fill="#1a1a1a" stroke="#1a1a1a" stroke-width="0.07">0.6</text><line x1="232.89999999999998" y1="35.6" x2="235.7" y2="35.6" stroke="#222" stroke-width="0.9"/><text transform="translate(231,37.85) scale(1,1.05)" text-anchor="end" font-size="5.8" fill="#1a1a1a" stroke="#1a1a1a" stroke-width="0.07">0.7</text><line x1="232.89999999999998" y1="27.6" x2="235.7" y2="27.6" stroke="#222" stroke-width="0.9"/><text transform="translate(231,29.85) scale(1,1.05)" text-anchor="end" font-size="5.8" fill="#1a1a1a" stroke="#1a1a1a" stroke-width="0.07">0.8</text><line x1="232.89999999999998" y1="19.6" x2="235.7" y2="19.6" stroke="#222" stroke-width="0.9"/><text transform="translate(231,21.85) scale(1,1.05)" text-anchor="end" font-size="5.8" fill="#1a1a1a" stroke="#1a1a1a" stroke-width="0.07">0.9</text><line x1="232.89999999999998" y1="11.6" x2="235.7" y2="11.6" stroke="#222" stroke-width="0.9"/><text transform="translate(231,13.85) scale(1,1.05)" text-anchor="end" font-size="5.8" fill="#1a1a1a" stroke="#1a1a1a" stroke-width="0.07">1.0</text><line x1="240.78" y1="53.6" x2="240.78" y2="56.4" stroke="#222" stroke-width="0.9"/><text transform="translate(240.78,62.9) scale(1,1.05)" text-anchor="middle" font-size="5.8" fill="#1a1a1a" stroke="#1a1a1a" stroke-width="0.07">1</text><line x1="249.23" y1="53.6" x2="249.23" y2="56.4" stroke="#222" stroke-width="0.9"/><text transform="translate(249.23,62.9) scale(1,1.05)" text-anchor="middle" font-size="5.8" fill="#1a1a1a" stroke="#1a1a1a" stroke-width="0.07">2</text><line x1="257.69" y1="53.6" x2="257.69" y2="56.4" stroke="#222" stroke-width="0.9"/><text transform="translate(257.69,62.9) scale(1,1.05)" text-anchor="middle" font-size="5.8" fill="#1a1a1a" stroke="#1a1a1a" stroke-width="0.07">3</text><line x1="266.15" y1="53.6" x2="266.15" y2="56.4" stroke="#222" stroke-width="0.9"/><text transform="translate(266.15,62.9) scale(1,1.05)" text-anchor="middle" font-size="5.8" fill="#1a1a1a" stroke="#1a1a1a" stroke-width="0.07">4</text><line x1="274.61" y1="53.6" x2="274.61" y2="56.4" stroke="#222" stroke-width="0.9"/><text transform="translate(274.61,62.9) scale(1,1.05)" text-anchor="middle" font-size="5.8" fill="#1a1a1a" stroke="#1a1a1a" stroke-width="0.07">5</text><line x1="283.07" y1="53.6" x2="283.07" y2="56.4" stroke="#222" stroke-width="0.9"/><text transform="translate(283.07,62.9) scale(1,1.05)" text-anchor="middle" font-size="5.8" fill="#1a1a1a" stroke="#1a1a1a" stroke-width="0.07">6</text><line x1="291.53" y1="53.6" x2="291.53" y2="56.4" stroke="#222" stroke-width="0.9"/><text transform="translate(291.53,62.9) scale(1,1.05)" text-anchor="middle" font-size="5.8" fill="#1a1a1a" stroke="#1a1a1a" stroke-width="0.07">7</text><line x1="299.99" y1="53.6" x2="299.99" y2="56.4" stroke="#222" stroke-width="0.9"/><text transform="translate(299.99,62.9) scale(1,1.05)" text-anchor="middle" font-size="5.8" fill="#1a1a1a" stroke="#1a1a1a" stroke-width="0.07">8</text><line x1="308.45" y1="53.6" x2="308.45" y2="56.4" stroke="#222" stroke-width="0.9"/><text transform="translate(308.45,62.9) scale(1,1.05)" text-anchor="middle" font-size="5.8" fill="#1a1a1a" stroke="#1a1a1a" stroke-width="0.07">9</text><line x1="316.91" y1="53.6" x2="316.91" y2="56.4" stroke="#222" stroke-width="0.9"/><text transform="translate(316.91,62.9) scale(1,1.05)" text-anchor="middle" font-size="5.8" fill="#1a1a1a" stroke="#1a1a1a" stroke-width="0.07">10</text><line x1="325.37" y1="53.6" x2="325.37" y2="56.4" stroke="#222" stroke-width="0.9"/><text transform="translate(325.37,62.9) scale(1,1.05)" text-anchor="middle" font-size="5.8" fill="#1a1a1a" stroke="#1a1a1a" stroke-width="0.07">11</text><line x1="333.82" y1="53.6" x2="333.82" y2="56.4" stroke="#222" stroke-width="0.9"/><text transform="translate(333.82,62.9) scale(1,1.05)" text-anchor="middle" font-size="5.8" fill="#1a1a1a" stroke="#1a1a1a" stroke-width="0.07">12</text><polyline points="240.78,32.77 249.23,35.83 257.69,32.31 266.15,35.53 274.61,48.1" fill="none" stroke="#d6006c" stroke-width="2.3" stroke-linejoin="round"/><polyline points="299.99,48.1 308.45,36.91 316.91,38.9 325.37,34.61 333.82,35.83" fill="none" stroke="#d6006c" stroke-width="2.3" stroke-linejoin="round"/><circle cx="240.78" cy="32.77" r="1.6" fill="#fff" stroke="#d6006c" stroke-width="1.1"/><circle cx="249.23" cy="35.83" r="1.6" fill="#fff" stroke="#d6006c" stroke-width="1.1"/><circle cx="257.69" cy="32.31" r="1.6" fill="#fff" stroke="#d6006c" stroke-width="1.1"/><circle cx="266.15" cy="35.53" r="1.6" fill="#fff" stroke="#d6006c" stroke-width="1.1"/><circle cx="274.61" cy="48.1" r="1.6" fill="#fff" stroke="#d6006c" stroke-width="1.1"/><circle cx="299.99" cy="48.1" r="1.6" fill="#fff" stroke="#d6006c" stroke-width="1.1"/><circle cx="308.45" cy="36.91" r="1.6" fill="#fff" stroke="#d6006c" stroke-width="1.1"/><circle cx="316.91" cy="38.9" r="1.6" fill="#fff" stroke="#d6006c" stroke-width="1.1"/><circle cx="325.37" cy="34.61" r="1.6" fill="#fff" stroke="#d6006c" stroke-width="1.1"/><circle cx="333.82" cy="35.83" r="1.6" fill="#fff" stroke="#d6006c" stroke-width="1.1"/><text transform="translate(217.9,7.8)" font-size="10.9" font-weight="bold" fill="#000" stroke="#000" stroke-width="0.15">h1</text><text transform="translate(287.3,5.6) scale(1,1.12)" text-anchor="middle" font-size="6.3" font-weight="bold" fill="#111" stroke="#111" stroke-width="0.07">suitable land</text><text transform="translate(287.3,71.9)" text-anchor="middle" font-size="6.3" fill="#1a1a1a" stroke="#1a1a1a" stroke-width="0.07">month of the year</text><text transform="translate(218.3,31.6) rotate(-90)" text-anchor="middle" font-size="6.3" fill="#1a1a1a" stroke="#1a1a1a" stroke-width="0.07">suitability</text></g><g transform="translate(345.45,554.3)"><rect x="238.23" y="16.67" width="5.1" height="33.74" fill="#f6f6f8"/><rect x="238.23" y="28.17" width="5.1" height="20.71" fill="#d9e7fa"/><rect x="238.23" y="35.84" width="5.1" height="11.5" fill="#bbd4f5"/><rect x="238.23" y="39.68" width="5.1" height="5.37" fill="#9dc0ef"/><rect x="246.68" y="16.67" width="5.1" height="34.51" fill="#f6f6f8"/><rect x="246.68" y="28.94" width="5.1" height="21.47" fill="#d9e7fa"/><rect x="246.68" y="38.14" width="5.1" height="10.74" fill="#bbd4f5"/><rect x="246.68" y="41.98" width="5.1" height="5.37" fill="#9dc0ef"/><rect x="255.14" y="22.8" width="5.1" height="28.37" fill="#f6f6f8"/><rect x="255.14" y="37.37" width="5.1" height="13.8" fill="#d9e7fa"/><rect x="255.14" y="43.51" width="5.1" height="6.9" fill="#bbd4f5"/><rect x="255.14" y="46.58" width="5.1" height="3.07" fill="#9dc0ef"/><rect x="263.6" y="28.17" width="5.1" height="23.01" fill="#f6f6f8"/><rect x="263.6" y="41.98" width="5.1" height="9.2" fill="#d9e7fa"/><rect x="263.6" y="46.58" width="5.1" height="3.83" fill="#bbd4f5"/><rect x="272.06" y="38.91" width="5.1" height="12.27" fill="#f6f6f8"/><rect x="272.06" y="44.74" width="5.1" height="6.44" fill="#d9e7fa"/><rect x="272.06" y="48.11" width="5.1" height="3.07" fill="#bbd4f5"/><rect x="280.52" y="36.61" width="5.1" height="14.57" fill="#f6f6f8"/><rect x="280.52" y="46.58" width="5.1" height="4.6" fill="#d9e7fa"/><rect x="288.98" y="36.61" width="5.1" height="14.57" fill="#f6f6f8"/><rect x="288.98" y="46.58" width="5.1" height="4.6" fill="#d9e7fa"/><rect x="297.44" y="24.8" width="5.1" height="26.07" fill="#f6f6f8"/><rect x="297.44" y="38.14" width="5.1" height="12.73" fill="#d9e7fa"/><rect x="297.44" y="43.51" width="5.1" height="7.36" fill="#bbd4f5"/><rect x="297.44" y="46.88" width="5.1" height="2.76" fill="#9dc0ef"/><rect x="305.9" y="20.5" width="5.1" height="29.91" fill="#f6f6f8"/><rect x="305.9" y="30.47" width="5.1" height="17.64" fill="#d9e7fa"/><rect x="305.9" y="35.07" width="5.1" height="10.74" fill="#bbd4f5"/><rect x="305.9" y="38.14" width="5.1" height="5.37" fill="#9dc0ef"/><rect x="314.36" y="16.67" width="5.1" height="32.21" fill="#f6f6f8"/><rect x="314.36" y="28.17" width="5.1" height="18.4" fill="#d9e7fa"/><rect x="314.36" y="33.54" width="5.1" height="10.74" fill="#bbd4f5"/><rect x="314.36" y="36.61" width="5.1" height="5.37" fill="#9dc0ef"/><rect x="322.82" y="16.67" width="5.1" height="31.44" fill="#f6f6f8"/><rect x="322.82" y="26.64" width="5.1" height="19.17" fill="#d9e7fa"/><rect x="322.82" y="32.01" width="5.1" height="11.5" fill="#bbd4f5"/><rect x="322.82" y="35.07" width="5.1" height="6.13" fill="#9dc0ef"/><rect x="331.27" y="14.37" width="5.1" height="33.74" fill="#f6f6f8"/><rect x="331.27" y="22.34" width="5.1" height="23.47" fill="#d9e7fa"/><rect x="331.27" y="31.24" width="5.1" height="12.27" fill="#bbd4f5"/><rect x="331.27" y="35.07" width="5.1" height="5.37" fill="#9dc0ef"/><line x1="235.7" y1="9.6" x2="235.7" y2="53.6" stroke="#1a1a1a" stroke-width="1.05"/><line x1="235.2" y1="53.6" x2="338.9" y2="53.6" stroke="#1a1a1a" stroke-width="1.05"/><line x1="232.89999999999998" y1="51.6" x2="235.7" y2="51.6" stroke="#222" stroke-width="0.9"/><text transform="translate(231,53.85) scale(1,1.05)" text-anchor="end" font-size="5.8" fill="#1a1a1a" stroke="#1a1a1a" stroke-width="0.07">0.0</text><line x1="232.89999999999998" y1="43.6" x2="235.7" y2="43.6" stroke="#222" stroke-width="0.9"/><text transform="translate(231,45.85) scale(1,1.05)" text-anchor="end" font-size="5.8" fill="#1a1a1a" stroke="#1a1a1a" stroke-width="0.07">0.1</text><line x1="232.89999999999998" y1="35.6" x2="235.7" y2="35.6" stroke="#222" stroke-width="0.9"/><text transform="translate(231,37.85) scale(1,1.05)" text-anchor="end" font-size="5.8" fill="#1a1a1a" stroke="#1a1a1a" stroke-width="0.07">0.2</text><line x1="232.89999999999998" y1="27.6" x2="235.7" y2="27.6" stroke="#222" stroke-width="0.9"/><text transform="translate(231,29.85) scale(1,1.05)" text-anchor="end" font-size="5.8" fill="#1a1a1a" stroke="#1a1a1a" stroke-width="0.07">0.3</text><line x1="232.89999999999998" y1="19.6" x2="235.7" y2="19.6" stroke="#222" stroke-width="0.9"/><text transform="translate(231,21.85) scale(1,1.05)" text-anchor="end" font-size="5.8" fill="#1a1a1a" stroke="#1a1a1a" stroke-width="0.07">0.4</text><line x1="232.89999999999998" y1="11.6" x2="235.7" y2="11.6" stroke="#222" stroke-width="0.9"/><text transform="translate(231,13.85) scale(1,1.05)" text-anchor="end" font-size="5.8" fill="#1a1a1a" stroke="#1a1a1a" stroke-width="0.07">0.5</text><line x1="240.78" y1="53.6" x2="240.78" y2="56.4" stroke="#222" stroke-width="0.9"/><text transform="translate(240.78,62.9) scale(1,1.05)" text-anchor="middle" font-size="5.8" fill="#1a1a1a" stroke="#1a1a1a" stroke-width="0.07">1</text><line x1="249.23" y1="53.6" x2="249.23" y2="56.4" stroke="#222" stroke-width="0.9"/><text transform="translate(249.23,62.9) scale(1,1.05)" text-anchor="middle" font-size="5.8" fill="#1a1a1a" stroke="#1a1a1a" stroke-width="0.07">2</text><line x1="257.69" y1="53.6" x2="257.69" y2="56.4" stroke="#222" stroke-width="0.9"/><text transform="translate(257.69,62.9) scale(1,1.05)" text-anchor="middle" font-size="5.8" fill="#1a1a1a" stroke="#1a1a1a" stroke-width="0.07">3</text><line x1="266.15" y1="53.6" x2="266.15" y2="56.4" stroke="#222" stroke-width="0.9"/><text transform="translate(266.15,62.9) scale(1,1.05)" text-anchor="middle" font-size="5.8" fill="#1a1a1a" stroke="#1a1a1a" stroke-width="0.07">4</text><line x1="274.61" y1="53.6" x2="274.61" y2="56.4" stroke="#222" stroke-width="0.9"/><text transform="translate(274.61,62.9) scale(1,1.05)" text-anchor="middle" font-size="5.8" fill="#1a1a1a" stroke="#1a1a1a" stroke-width="0.07">5</text><line x1="283.07" y1="53.6" x2="283.07" y2="56.4" stroke="#222" stroke-width="0.9"/><text transform="translate(283.07,62.9) scale(1,1.05)" text-anchor="middle" font-size="5.8" fill="#1a1a1a" stroke="#1a1a1a" stroke-width="0.07">6</text><line x1="291.53" y1="53.6" x2="291.53" y2="56.4" stroke="#222" stroke-width="0.9"/><text transform="translate(291.53,62.9) scale(1,1.05)" text-anchor="middle" font-size="5.8" fill="#1a1a1a" stroke="#1a1a1a" stroke-width="0.07">7</text><line x1="299.99" y1="53.6" x2="299.99" y2="56.4" stroke="#222" stroke-width="0.9"/><text transform="translate(299.99,62.9) scale(1,1.05)" text-anchor="middle" font-size="5.8" fill="#1a1a1a" stroke="#1a1a1a" stroke-width="0.07">8</text><line x1="308.45" y1="53.6" x2="308.45" y2="56.4" stroke="#222" stroke-width="0.9"/><text transform="translate(308.45,62.9) scale(1,1.05)" text-anchor="middle" font-size="5.8" fill="#1a1a1a" stroke="#1a1a1a" stroke-width="0.07">9</text><line x1="316.91" y1="53.6" x2="316.91" y2="56.4" stroke="#222" stroke-width="0.9"/><text transform="translate(316.91,62.9) scale(1,1.05)" text-anchor="middle" font-size="5.8" fill="#1a1a1a" stroke="#1a1a1a" stroke-width="0.07">10</text><line x1="325.37" y1="53.6" x2="325.37" y2="56.4" stroke="#222" stroke-width="0.9"/><text transform="translate(325.37,62.9) scale(1,1.05)" text-anchor="middle" font-size="5.8" fill="#1a1a1a" stroke="#1a1a1a" stroke-width="0.07">11</text><line x1="333.82" y1="53.6" x2="333.82" y2="56.4" stroke="#222" stroke-width="0.9"/><text transform="translate(333.82,62.9) scale(1,1.05)" text-anchor="middle" font-size="5.8" fill="#1a1a1a" stroke="#1a1a1a" stroke-width="0.07">12</text><polyline points="240.78,42.74 249.23,45.81 257.69,49.64 266.15,51.49 274.61,51.49 283.07,51.49 291.53,51.49 299.99,50.87 308.45,40.44 316.91,38.91 325.37,37.68 333.82,37.07" fill="none" stroke="#1c58a8" stroke-width="2.3" stroke-linejoin="round"/><circle cx="240.78" cy="42.74" r="1.6" fill="#fff" stroke="#1c58a8" stroke-width="1.1"/><circle cx="249.23" cy="45.81" r="1.6" fill="#fff" stroke="#1c58a8" stroke-width="1.1"/><circle cx="257.69" cy="49.64" r="1.6" fill="#fff" stroke="#1c58a8" stroke-width="1.1"/><circle cx="266.15" cy="51.49" r="1.6" fill="#fff" stroke="#1c58a8" stroke-width="1.1"/><circle cx="274.61" cy="51.49" r="1.6" fill="#fff" stroke="#1c58a8" stroke-width="1.1"/><circle cx="283.07" cy="51.49" r="1.6" fill="#fff" stroke="#1c58a8" stroke-width="1.1"/><circle cx="291.53" cy="51.49" r="1.6" fill="#fff" stroke="#1c58a8" stroke-width="1.1"/><circle cx="299.99" cy="50.87" r="1.6" fill="#fff" stroke="#1c58a8" stroke-width="1.1"/><circle cx="308.45" cy="40.44" r="1.6" fill="#fff" stroke="#1c58a8" stroke-width="1.1"/><circle cx="316.91" cy="38.91" r="1.6" fill="#fff" stroke="#1c58a8" stroke-width="1.1"/><circle cx="325.37" cy="37.68" r="1.6" fill="#fff" stroke="#1c58a8" stroke-width="1.1"/><circle cx="333.82" cy="37.07" r="1.6" fill="#fff" stroke="#1c58a8" stroke-width="1.1"/><text transform="translate(217.9,7.8)" font-size="10.9" font-weight="bold" fill="#000" stroke="#000" stroke-width="0.15">h2</text><text transform="translate(287.3,5.6) scale(1,1.12)" text-anchor="middle" font-size="6.3" font-weight="bold" fill="#111" stroke="#111" stroke-width="0.07">unsuitable land</text><text transform="translate(287.3,71.9)" text-anchor="middle" font-size="6.3" fill="#1a1a1a" stroke="#1a1a1a" stroke-width="0.07">month of the year</text><text transform="translate(218.3,31.6) rotate(-90)" text-anchor="middle" font-size="6.3" fill="#1a1a1a" stroke="#1a1a1a" stroke-width="0.07">suitability</text></g></svg></body></html>
